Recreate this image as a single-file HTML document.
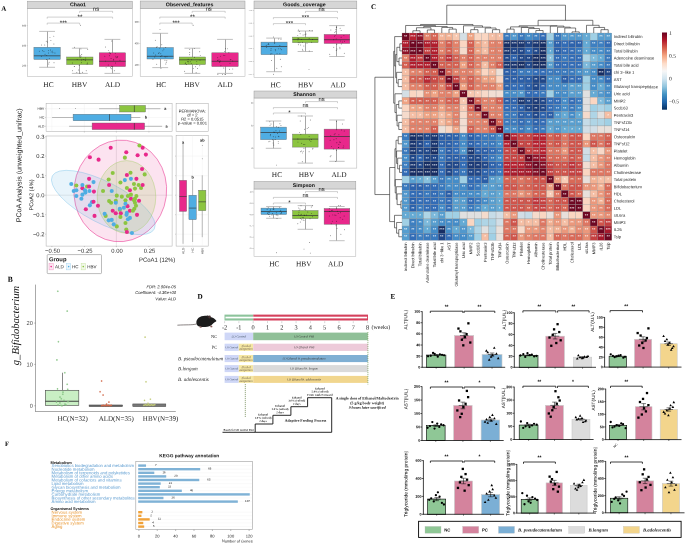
<!DOCTYPE html>
<html><head><meta charset="utf-8"><title>Figure</title>
<style>html,body{margin:0;padding:0;background:#fff}svg{display:block}text{text-rendering:geometricPrecision}.s{font-family:"Liberation Sans",sans-serif}.r{font-family:"Liberation Serif",serif}</style></head>
<body>
<svg width="685" height="544" viewBox="0 0 685 544">
<rect x="0" y="0" width="685" height="544" fill="#ffffff"/>
<rect x="27.6" y="8.4" width="104.8" height="67.9" fill="#fff" stroke="#B0B0B0" stroke-width="0.5" />
<rect x="27.6" y="1.2" width="104.8" height="7.2" fill="#D6D6D6" stroke="#9A9A9A" stroke-width="0.5" />
<text class="s" x="78" y="6.3" font-size="5.25" text-anchor="middle" fill="#111" font-weight="bold" transform="rotate(0.03 78 6.3)">Chao1</text>
<line x1="47.5" y1="31.4" x2="47.5" y2="67.3" stroke="#6a6a6a" stroke-width="0.6" />
<line x1="39.18" y1="31.4" x2="55.02" y2="31.4" stroke="#A6A6A6" stroke-width="0.7" />
<line x1="39.18" y1="67.3" x2="55.02" y2="67.3" stroke="#A6A6A6" stroke-width="0.7" />
<rect x="33.9" y="47.2" width="26.4" height="12.3" fill="#4FADE3" stroke="#6a6a6a" stroke-width="0.4" />
<line x1="33.9" y1="55.8" x2="60.3" y2="55.8" stroke="#333" stroke-width="0.7" />
<circle cx="45.04" cy="54.16" r="0.48" fill="#111" stroke="none" stroke-width="0.3" opacity="0.7"/>
<circle cx="48.75" cy="64.03" r="0.48" fill="#111" stroke="none" stroke-width="0.3" opacity="0.7"/>
<circle cx="39.39" cy="51.13" r="0.48" fill="#111" stroke="none" stroke-width="0.3" opacity="0.7"/>
<circle cx="52.45" cy="51.11" r="0.48" fill="#111" stroke="none" stroke-width="0.3" opacity="0.7"/>
<circle cx="54.95" cy="52.98" r="0.48" fill="#111" stroke="none" stroke-width="0.3" opacity="0.7"/>
<circle cx="46.63" cy="59.59" r="0.48" fill="#111" stroke="none" stroke-width="0.3" opacity="0.7"/>
<circle cx="49.3" cy="58.38" r="0.48" fill="#111" stroke="none" stroke-width="0.3" opacity="0.7"/>
<circle cx="41.57" cy="45.03" r="0.48" fill="#111" stroke="none" stroke-width="0.3" opacity="0.7"/>
<circle cx="47.47" cy="41.96" r="0.48" fill="#111" stroke="none" stroke-width="0.3" opacity="0.7"/>
<circle cx="50.92" cy="40.46" r="0.48" fill="#111" stroke="none" stroke-width="0.3" opacity="0.7"/>
<circle cx="51.19" cy="51.88" r="0.48" fill="#111" stroke="none" stroke-width="0.3" opacity="0.7"/>
<circle cx="48.54" cy="50.61" r="0.48" fill="#111" stroke="none" stroke-width="0.3" opacity="0.7"/>
<circle cx="52.89" cy="52.67" r="0.48" fill="#111" stroke="none" stroke-width="0.3" opacity="0.7"/>
<circle cx="46.67" cy="55.39" r="0.48" fill="#111" stroke="none" stroke-width="0.3" opacity="0.7"/>
<circle cx="50.49" cy="49.93" r="0.48" fill="#111" stroke="none" stroke-width="0.3" opacity="0.7"/>
<circle cx="53.77" cy="36.13" r="0.48" fill="#111" stroke="none" stroke-width="0.3" opacity="0.7"/>
<circle cx="46.22" cy="41.22" r="0.48" fill="#111" stroke="none" stroke-width="0.3" opacity="0.7"/>
<circle cx="54" cy="62.77" r="0.48" fill="#111" stroke="none" stroke-width="0.3" opacity="0.7"/>
<circle cx="41.33" cy="56.15" r="0.48" fill="#111" stroke="none" stroke-width="0.3" opacity="0.7"/>
<circle cx="42.62" cy="50.68" r="0.48" fill="#111" stroke="none" stroke-width="0.3" opacity="0.7"/>
<circle cx="49.11" cy="62.29" r="0.48" fill="#111" stroke="none" stroke-width="0.3" opacity="0.7"/>
<circle cx="43.95" cy="51.38" r="0.48" fill="#111" stroke="none" stroke-width="0.3" opacity="0.7"/>
<circle cx="44.74" cy="44.92" r="0.48" fill="#111" stroke="none" stroke-width="0.3" opacity="0.7"/>
<circle cx="48.45" cy="52.97" r="0.48" fill="#111" stroke="none" stroke-width="0.3" opacity="0.7"/>
<circle cx="49.98" cy="37.37" r="0.48" fill="#111" stroke="none" stroke-width="0.3" opacity="0.7"/>
<circle cx="53.89" cy="44" r="0.48" fill="#111" stroke="none" stroke-width="0.3" opacity="0.7"/>
<line x1="79.5" y1="48.2" x2="79.5" y2="73.4" stroke="#6a6a6a" stroke-width="0.6" />
<line x1="71.88" y1="48.2" x2="87.72" y2="48.2" stroke="#A6A6A6" stroke-width="0.7" />
<line x1="71.88" y1="73.4" x2="87.72" y2="73.4" stroke="#A6A6A6" stroke-width="0.7" />
<rect x="66.6" y="57" width="26.4" height="7.6" fill="#8CC540" stroke="#6a6a6a" stroke-width="0.4" />
<line x1="66.6" y1="59.8" x2="93" y2="59.8" stroke="#333" stroke-width="0.7" />
<circle cx="82.51" cy="72.21" r="0.48" fill="#111" stroke="none" stroke-width="0.3" opacity="0.7"/>
<circle cx="74.46" cy="47.2" r="0.48" fill="#111" stroke="none" stroke-width="0.3" opacity="0.7"/>
<circle cx="86.21" cy="70.74" r="0.48" fill="#111" stroke="none" stroke-width="0.3" opacity="0.7"/>
<circle cx="80.89" cy="48.89" r="0.48" fill="#111" stroke="none" stroke-width="0.3" opacity="0.7"/>
<circle cx="85.05" cy="59.87" r="0.48" fill="#111" stroke="none" stroke-width="0.3" opacity="0.7"/>
<circle cx="80.96" cy="56.77" r="0.48" fill="#111" stroke="none" stroke-width="0.3" opacity="0.7"/>
<circle cx="85.41" cy="60.33" r="0.48" fill="#111" stroke="none" stroke-width="0.3" opacity="0.7"/>
<circle cx="87.56" cy="62.92" r="0.48" fill="#111" stroke="none" stroke-width="0.3" opacity="0.7"/>
<circle cx="78.38" cy="69.95" r="0.48" fill="#111" stroke="none" stroke-width="0.3" opacity="0.7"/>
<circle cx="74.27" cy="66.49" r="0.48" fill="#111" stroke="none" stroke-width="0.3" opacity="0.7"/>
<circle cx="85.7" cy="58" r="0.48" fill="#111" stroke="none" stroke-width="0.3" opacity="0.7"/>
<circle cx="72.58" cy="70.68" r="0.48" fill="#111" stroke="none" stroke-width="0.3" opacity="0.7"/>
<circle cx="83.26" cy="59.43" r="0.48" fill="#111" stroke="none" stroke-width="0.3" opacity="0.7"/>
<circle cx="77.12" cy="59.6" r="0.48" fill="#111" stroke="none" stroke-width="0.3" opacity="0.7"/>
<circle cx="79.89" cy="73.15" r="0.48" fill="#111" stroke="none" stroke-width="0.3" opacity="0.7"/>
<circle cx="87.7" cy="49.33" r="0.48" fill="#111" stroke="none" stroke-width="0.3" opacity="0.7"/>
<circle cx="81.38" cy="59.92" r="0.48" fill="#111" stroke="none" stroke-width="0.3" opacity="0.7"/>
<circle cx="72.38" cy="63.03" r="0.48" fill="#111" stroke="none" stroke-width="0.3" opacity="0.7"/>
<circle cx="81.55" cy="62.79" r="0.48" fill="#111" stroke="none" stroke-width="0.3" opacity="0.7"/>
<circle cx="74.35" cy="66.61" r="0.48" fill="#111" stroke="none" stroke-width="0.3" opacity="0.7"/>
<circle cx="76.85" cy="72.44" r="0.48" fill="#111" stroke="none" stroke-width="0.3" opacity="0.7"/>
<circle cx="87.07" cy="63.98" r="0.48" fill="#111" stroke="none" stroke-width="0.3" opacity="0.7"/>
<circle cx="79.17" cy="65.46" r="0.48" fill="#111" stroke="none" stroke-width="0.3" opacity="0.7"/>
<circle cx="80.12" cy="57.27" r="0.48" fill="#111" stroke="none" stroke-width="0.3" opacity="0.7"/>
<circle cx="80.74" cy="55.81" r="0.48" fill="#111" stroke="none" stroke-width="0.3" opacity="0.7"/>
<circle cx="81.7" cy="54.45" r="0.48" fill="#111" stroke="none" stroke-width="0.3" opacity="0.7"/>
<circle cx="80.5" cy="25.3" r="0.45" fill="#111" stroke="none" stroke-width="0.3" opacity="0.8"/>
<line x1="112.5" y1="39.4" x2="112.5" y2="73.4" stroke="#6a6a6a" stroke-width="0.6" />
<line x1="104.48" y1="39.4" x2="120.32" y2="39.4" stroke="#A6A6A6" stroke-width="0.7" />
<line x1="104.48" y1="73.4" x2="120.32" y2="73.4" stroke="#A6A6A6" stroke-width="0.7" />
<rect x="99.2" y="52.8" width="26.4" height="13.8" fill="#E8288B" stroke="#6a6a6a" stroke-width="0.4" />
<line x1="99.2" y1="61.3" x2="125.6" y2="61.3" stroke="#333" stroke-width="0.7" />
<circle cx="111.31" cy="68.67" r="0.48" fill="#111" stroke="none" stroke-width="0.3" opacity="0.7"/>
<circle cx="115.89" cy="56.19" r="0.48" fill="#111" stroke="none" stroke-width="0.3" opacity="0.7"/>
<circle cx="119.97" cy="60.23" r="0.48" fill="#111" stroke="none" stroke-width="0.3" opacity="0.7"/>
<circle cx="112.73" cy="66.53" r="0.48" fill="#111" stroke="none" stroke-width="0.3" opacity="0.7"/>
<circle cx="111.06" cy="58.53" r="0.48" fill="#111" stroke="none" stroke-width="0.3" opacity="0.7"/>
<circle cx="113.67" cy="59.33" r="0.48" fill="#111" stroke="none" stroke-width="0.3" opacity="0.7"/>
<circle cx="114.49" cy="70.81" r="0.48" fill="#111" stroke="none" stroke-width="0.3" opacity="0.7"/>
<circle cx="105.43" cy="61.11" r="0.48" fill="#111" stroke="none" stroke-width="0.3" opacity="0.7"/>
<circle cx="115.24" cy="53.38" r="0.48" fill="#111" stroke="none" stroke-width="0.3" opacity="0.7"/>
<circle cx="110.06" cy="53.19" r="0.48" fill="#111" stroke="none" stroke-width="0.3" opacity="0.7"/>
<circle cx="104.83" cy="56.16" r="0.48" fill="#111" stroke="none" stroke-width="0.3" opacity="0.7"/>
<circle cx="105.44" cy="46.93" r="0.48" fill="#111" stroke="none" stroke-width="0.3" opacity="0.7"/>
<circle cx="108.46" cy="50.37" r="0.48" fill="#111" stroke="none" stroke-width="0.3" opacity="0.7"/>
<circle cx="111.71" cy="41.1" r="0.48" fill="#111" stroke="none" stroke-width="0.3" opacity="0.7"/>
<circle cx="110.25" cy="53.76" r="0.48" fill="#111" stroke="none" stroke-width="0.3" opacity="0.7"/>
<circle cx="109.43" cy="55.79" r="0.48" fill="#111" stroke="none" stroke-width="0.3" opacity="0.7"/>
<circle cx="109.24" cy="52.29" r="0.48" fill="#111" stroke="none" stroke-width="0.3" opacity="0.7"/>
<circle cx="110.45" cy="67.68" r="0.48" fill="#111" stroke="none" stroke-width="0.3" opacity="0.7"/>
<circle cx="113.5" cy="59.96" r="0.48" fill="#111" stroke="none" stroke-width="0.3" opacity="0.7"/>
<circle cx="116.13" cy="57.83" r="0.48" fill="#111" stroke="none" stroke-width="0.3" opacity="0.7"/>
<circle cx="117.21" cy="57.58" r="0.48" fill="#111" stroke="none" stroke-width="0.3" opacity="0.7"/>
<circle cx="108.26" cy="65.04" r="0.48" fill="#111" stroke="none" stroke-width="0.3" opacity="0.7"/>
<circle cx="115.54" cy="63.02" r="0.48" fill="#111" stroke="none" stroke-width="0.3" opacity="0.7"/>
<circle cx="106.09" cy="67.69" r="0.48" fill="#111" stroke="none" stroke-width="0.3" opacity="0.7"/>
<circle cx="117.68" cy="56.51" r="0.48" fill="#111" stroke="none" stroke-width="0.3" opacity="0.7"/>
<circle cx="111.42" cy="66.26" r="0.48" fill="#111" stroke="none" stroke-width="0.3" opacity="0.7"/>
<path d="M79.6 12.9V11.3H112.6V12.9" fill="none" stroke="#8a8a8a" stroke-width="0.4" />
<text class="s" x="96.1" y="10.8" font-size="5.8" text-anchor="middle" fill="#111" transform="rotate(0.03 96.1 10.8)">ns</text>
<path d="M47.2 18.7V17.1H112.6V18.7" fill="none" stroke="#8a8a8a" stroke-width="0.4" />
<text class="s" x="79.9" y="18.7" font-size="6.2" text-anchor="middle" fill="#111" transform="rotate(0.03 79.9 18.7)">**</text>
<path d="M47.2 24.7V23.1H79.6V24.7" fill="none" stroke="#8a8a8a" stroke-width="0.4" />
<text class="s" x="63.4" y="24.7" font-size="6.2" text-anchor="middle" fill="#111" transform="rotate(0.03 63.4 24.7)">***</text>
<text class="r" x="48.5" y="87" font-size="7.4" text-anchor="middle" fill="#222" transform="rotate(0.03 48.5 87)">HC</text>
<text class="r" x="79.5" y="87" font-size="7.4" text-anchor="middle" fill="#222" transform="rotate(0.03 79.5 87)">HBV</text>
<text class="r" x="112.5" y="87" font-size="7.4" text-anchor="middle" fill="#222" transform="rotate(0.03 112.5 87)">ALD</text>
<text class="s" x="26.1" y="26.4" font-size="2.4" text-anchor="end" fill="#444" transform="rotate(0.03 26.1 26.4)">600</text>
<line x1="26.6" y1="25.6" x2="27.6" y2="25.6" stroke="#888" stroke-width="0.3" />
<text class="s" x="26.1" y="46.5" font-size="2.4" text-anchor="end" fill="#444" transform="rotate(0.03 26.1 46.5)">400</text>
<line x1="26.6" y1="45.7" x2="27.6" y2="45.7" stroke="#888" stroke-width="0.3" />
<text class="s" x="26.1" y="66.6" font-size="2.4" text-anchor="end" fill="#444" transform="rotate(0.03 26.1 66.6)">200</text>
<line x1="26.6" y1="65.8" x2="27.6" y2="65.8" stroke="#888" stroke-width="0.3" />
<rect x="140.2" y="8.4" width="104.8" height="67.9" fill="#fff" stroke="#B0B0B0" stroke-width="0.5" />
<rect x="140.2" y="1" width="104.8" height="7.4" fill="#D6D6D6" stroke="#9A9A9A" stroke-width="0.5" />
<text class="s" x="189.6" y="6.3" font-size="5.25" text-anchor="middle" fill="#111" font-weight="bold" transform="rotate(0.03 189.6 6.3)">Observed_features</text>
<line x1="160.5" y1="33.3" x2="160.5" y2="67.6" stroke="#6a6a6a" stroke-width="0.6" />
<line x1="152.28" y1="33.3" x2="168.12" y2="33.3" stroke="#A6A6A6" stroke-width="0.7" />
<line x1="152.28" y1="67.6" x2="168.12" y2="67.6" stroke="#A6A6A6" stroke-width="0.7" />
<rect x="147" y="47.5" width="26.4" height="11.5" fill="#4FADE3" stroke="#6a6a6a" stroke-width="0.4" />
<line x1="147" y1="56.3" x2="173.4" y2="56.3" stroke="#333" stroke-width="0.7" />
<circle cx="158.55" cy="53.58" r="0.48" fill="#111" stroke="none" stroke-width="0.3" opacity="0.7"/>
<circle cx="154.73" cy="57.05" r="0.48" fill="#111" stroke="none" stroke-width="0.3" opacity="0.7"/>
<circle cx="166.82" cy="60.81" r="0.48" fill="#111" stroke="none" stroke-width="0.3" opacity="0.7"/>
<circle cx="164.96" cy="56.61" r="0.48" fill="#111" stroke="none" stroke-width="0.3" opacity="0.7"/>
<circle cx="160.78" cy="53.8" r="0.48" fill="#111" stroke="none" stroke-width="0.3" opacity="0.7"/>
<circle cx="156.66" cy="47.49" r="0.48" fill="#111" stroke="none" stroke-width="0.3" opacity="0.7"/>
<circle cx="155.68" cy="55.06" r="0.48" fill="#111" stroke="none" stroke-width="0.3" opacity="0.7"/>
<circle cx="166.97" cy="56.67" r="0.48" fill="#111" stroke="none" stroke-width="0.3" opacity="0.7"/>
<circle cx="164.96" cy="60.29" r="0.48" fill="#111" stroke="none" stroke-width="0.3" opacity="0.7"/>
<circle cx="155.34" cy="40.23" r="0.48" fill="#111" stroke="none" stroke-width="0.3" opacity="0.7"/>
<circle cx="163.87" cy="49.04" r="0.48" fill="#111" stroke="none" stroke-width="0.3" opacity="0.7"/>
<circle cx="165.82" cy="63.92" r="0.48" fill="#111" stroke="none" stroke-width="0.3" opacity="0.7"/>
<circle cx="161.88" cy="55.79" r="0.48" fill="#111" stroke="none" stroke-width="0.3" opacity="0.7"/>
<circle cx="162.92" cy="50.87" r="0.48" fill="#111" stroke="none" stroke-width="0.3" opacity="0.7"/>
<circle cx="159.78" cy="48.14" r="0.48" fill="#111" stroke="none" stroke-width="0.3" opacity="0.7"/>
<circle cx="153.7" cy="53.06" r="0.48" fill="#111" stroke="none" stroke-width="0.3" opacity="0.7"/>
<circle cx="160.95" cy="68.25" r="0.48" fill="#111" stroke="none" stroke-width="0.3" opacity="0.7"/>
<circle cx="157.04" cy="46.71" r="0.48" fill="#111" stroke="none" stroke-width="0.3" opacity="0.7"/>
<circle cx="166.26" cy="62.2" r="0.48" fill="#111" stroke="none" stroke-width="0.3" opacity="0.7"/>
<circle cx="165.71" cy="47.48" r="0.48" fill="#111" stroke="none" stroke-width="0.3" opacity="0.7"/>
<circle cx="161.77" cy="44.82" r="0.48" fill="#111" stroke="none" stroke-width="0.3" opacity="0.7"/>
<circle cx="159.11" cy="52.81" r="0.48" fill="#111" stroke="none" stroke-width="0.3" opacity="0.7"/>
<circle cx="165.15" cy="56.93" r="0.48" fill="#111" stroke="none" stroke-width="0.3" opacity="0.7"/>
<circle cx="152.96" cy="59.16" r="0.48" fill="#111" stroke="none" stroke-width="0.3" opacity="0.7"/>
<circle cx="156.72" cy="64.23" r="0.48" fill="#111" stroke="none" stroke-width="0.3" opacity="0.7"/>
<circle cx="160.75" cy="56.54" r="0.48" fill="#111" stroke="none" stroke-width="0.3" opacity="0.7"/>
<circle cx="160" cy="29.4" r="0.45" fill="#111" stroke="none" stroke-width="0.3" opacity="0.8"/>
<line x1="192.5" y1="48.2" x2="192.5" y2="73.4" stroke="#6a6a6a" stroke-width="0.6" />
<line x1="184.48" y1="48.2" x2="200.32" y2="48.2" stroke="#A6A6A6" stroke-width="0.7" />
<line x1="184.48" y1="73.4" x2="200.32" y2="73.4" stroke="#A6A6A6" stroke-width="0.7" />
<rect x="179.2" y="57" width="26.4" height="7.6" fill="#8CC540" stroke="#6a6a6a" stroke-width="0.4" />
<line x1="179.2" y1="59.8" x2="205.6" y2="59.8" stroke="#333" stroke-width="0.7" />
<circle cx="200.28" cy="55.39" r="0.48" fill="#111" stroke="none" stroke-width="0.3" opacity="0.7"/>
<circle cx="187.58" cy="61.79" r="0.48" fill="#111" stroke="none" stroke-width="0.3" opacity="0.7"/>
<circle cx="194.5" cy="57.35" r="0.48" fill="#111" stroke="none" stroke-width="0.3" opacity="0.7"/>
<circle cx="188.86" cy="62.9" r="0.48" fill="#111" stroke="none" stroke-width="0.3" opacity="0.7"/>
<circle cx="189.56" cy="54.66" r="0.48" fill="#111" stroke="none" stroke-width="0.3" opacity="0.7"/>
<circle cx="193.33" cy="68.63" r="0.48" fill="#111" stroke="none" stroke-width="0.3" opacity="0.7"/>
<circle cx="185.46" cy="63.08" r="0.48" fill="#111" stroke="none" stroke-width="0.3" opacity="0.7"/>
<circle cx="188.11" cy="59.23" r="0.48" fill="#111" stroke="none" stroke-width="0.3" opacity="0.7"/>
<circle cx="188.24" cy="61.59" r="0.48" fill="#111" stroke="none" stroke-width="0.3" opacity="0.7"/>
<circle cx="189.72" cy="52.54" r="0.48" fill="#111" stroke="none" stroke-width="0.3" opacity="0.7"/>
<circle cx="185.16" cy="63.72" r="0.48" fill="#111" stroke="none" stroke-width="0.3" opacity="0.7"/>
<circle cx="195.53" cy="66.77" r="0.48" fill="#111" stroke="none" stroke-width="0.3" opacity="0.7"/>
<circle cx="196.12" cy="72.65" r="0.48" fill="#111" stroke="none" stroke-width="0.3" opacity="0.7"/>
<circle cx="199.68" cy="51.72" r="0.48" fill="#111" stroke="none" stroke-width="0.3" opacity="0.7"/>
<circle cx="199.78" cy="65.72" r="0.48" fill="#111" stroke="none" stroke-width="0.3" opacity="0.7"/>
<circle cx="196.76" cy="61.37" r="0.48" fill="#111" stroke="none" stroke-width="0.3" opacity="0.7"/>
<circle cx="194.31" cy="48.64" r="0.48" fill="#111" stroke="none" stroke-width="0.3" opacity="0.7"/>
<circle cx="197.44" cy="68.47" r="0.48" fill="#111" stroke="none" stroke-width="0.3" opacity="0.7"/>
<circle cx="191.52" cy="59.75" r="0.48" fill="#111" stroke="none" stroke-width="0.3" opacity="0.7"/>
<circle cx="186.64" cy="64.57" r="0.48" fill="#111" stroke="none" stroke-width="0.3" opacity="0.7"/>
<circle cx="189.73" cy="49.52" r="0.48" fill="#111" stroke="none" stroke-width="0.3" opacity="0.7"/>
<circle cx="184.63" cy="71.18" r="0.48" fill="#111" stroke="none" stroke-width="0.3" opacity="0.7"/>
<circle cx="196.89" cy="64.31" r="0.48" fill="#111" stroke="none" stroke-width="0.3" opacity="0.7"/>
<circle cx="190.23" cy="61.82" r="0.48" fill="#111" stroke="none" stroke-width="0.3" opacity="0.7"/>
<circle cx="200.03" cy="60.12" r="0.48" fill="#111" stroke="none" stroke-width="0.3" opacity="0.7"/>
<circle cx="191.2" cy="63.43" r="0.48" fill="#111" stroke="none" stroke-width="0.3" opacity="0.7"/>
<circle cx="193.1" cy="25.3" r="0.45" fill="#111" stroke="none" stroke-width="0.3" opacity="0.8"/>
<line x1="225.5" y1="39.4" x2="225.5" y2="73.4" stroke="#6a6a6a" stroke-width="0.6" />
<line x1="217.08" y1="39.4" x2="232.92" y2="39.4" stroke="#A6A6A6" stroke-width="0.7" />
<line x1="217.08" y1="73.4" x2="232.92" y2="73.4" stroke="#A6A6A6" stroke-width="0.7" />
<rect x="211.8" y="52.8" width="26.4" height="13.8" fill="#E8288B" stroke="#6a6a6a" stroke-width="0.4" />
<line x1="211.8" y1="61.3" x2="238.2" y2="61.3" stroke="#333" stroke-width="0.7" />
<circle cx="217.96" cy="60.44" r="0.48" fill="#111" stroke="none" stroke-width="0.3" opacity="0.7"/>
<circle cx="219.75" cy="62.43" r="0.48" fill="#111" stroke="none" stroke-width="0.3" opacity="0.7"/>
<circle cx="217.73" cy="57.65" r="0.48" fill="#111" stroke="none" stroke-width="0.3" opacity="0.7"/>
<circle cx="224.85" cy="55.57" r="0.48" fill="#111" stroke="none" stroke-width="0.3" opacity="0.7"/>
<circle cx="219.02" cy="59.87" r="0.48" fill="#111" stroke="none" stroke-width="0.3" opacity="0.7"/>
<circle cx="225.46" cy="74.4" r="0.48" fill="#111" stroke="none" stroke-width="0.3" opacity="0.7"/>
<circle cx="232.72" cy="60.94" r="0.48" fill="#111" stroke="none" stroke-width="0.3" opacity="0.7"/>
<circle cx="224.65" cy="51.49" r="0.48" fill="#111" stroke="none" stroke-width="0.3" opacity="0.7"/>
<circle cx="217.66" cy="60.13" r="0.48" fill="#111" stroke="none" stroke-width="0.3" opacity="0.7"/>
<circle cx="223.75" cy="68.01" r="0.48" fill="#111" stroke="none" stroke-width="0.3" opacity="0.7"/>
<circle cx="230.24" cy="59.85" r="0.48" fill="#111" stroke="none" stroke-width="0.3" opacity="0.7"/>
<circle cx="224.98" cy="74.4" r="0.48" fill="#111" stroke="none" stroke-width="0.3" opacity="0.7"/>
<circle cx="220.92" cy="65.78" r="0.48" fill="#111" stroke="none" stroke-width="0.3" opacity="0.7"/>
<circle cx="220.38" cy="60.93" r="0.48" fill="#111" stroke="none" stroke-width="0.3" opacity="0.7"/>
<circle cx="219.32" cy="61.6" r="0.48" fill="#111" stroke="none" stroke-width="0.3" opacity="0.7"/>
<circle cx="217.89" cy="74.4" r="0.48" fill="#111" stroke="none" stroke-width="0.3" opacity="0.7"/>
<circle cx="232.77" cy="69.1" r="0.48" fill="#111" stroke="none" stroke-width="0.3" opacity="0.7"/>
<circle cx="223.46" cy="55.13" r="0.48" fill="#111" stroke="none" stroke-width="0.3" opacity="0.7"/>
<circle cx="229.61" cy="69.28" r="0.48" fill="#111" stroke="none" stroke-width="0.3" opacity="0.7"/>
<circle cx="228.88" cy="52.83" r="0.48" fill="#111" stroke="none" stroke-width="0.3" opacity="0.7"/>
<circle cx="220.42" cy="56.13" r="0.48" fill="#111" stroke="none" stroke-width="0.3" opacity="0.7"/>
<circle cx="230.92" cy="59.83" r="0.48" fill="#111" stroke="none" stroke-width="0.3" opacity="0.7"/>
<circle cx="222.41" cy="74.4" r="0.48" fill="#111" stroke="none" stroke-width="0.3" opacity="0.7"/>
<circle cx="227.49" cy="48.86" r="0.48" fill="#111" stroke="none" stroke-width="0.3" opacity="0.7"/>
<circle cx="229.99" cy="63.25" r="0.48" fill="#111" stroke="none" stroke-width="0.3" opacity="0.7"/>
<circle cx="225.44" cy="48.65" r="0.48" fill="#111" stroke="none" stroke-width="0.3" opacity="0.7"/>
<path d="M192.2 12.9V11.3H225.2V12.9" fill="none" stroke="#8a8a8a" stroke-width="0.4" />
<text class="s" x="208.7" y="10.8" font-size="5.8" text-anchor="middle" fill="#111" transform="rotate(0.03 208.7 10.8)">ns</text>
<path d="M159.8 18.7V17.1H225.2V18.7" fill="none" stroke="#8a8a8a" stroke-width="0.4" />
<text class="s" x="192.5" y="18.7" font-size="6.2" text-anchor="middle" fill="#111" transform="rotate(0.03 192.5 18.7)">**</text>
<path d="M159.8 24.7V23.1H192.2V24.7" fill="none" stroke="#8a8a8a" stroke-width="0.4" />
<text class="s" x="176" y="24.7" font-size="6.2" text-anchor="middle" fill="#111" transform="rotate(0.03 176 24.7)">***</text>
<text class="r" x="161.1" y="87" font-size="7.4" text-anchor="middle" fill="#222" transform="rotate(0.03 161.1 87)">HC</text>
<text class="r" x="192.1" y="87" font-size="7.4" text-anchor="middle" fill="#222" transform="rotate(0.03 192.1 87)">HBV</text>
<text class="r" x="225.1" y="87" font-size="7.4" text-anchor="middle" fill="#222" transform="rotate(0.03 225.1 87)">ALD</text>
<text class="s" x="138.7" y="22.8" font-size="2.4" text-anchor="end" fill="#444" transform="rotate(0.03 138.7 22.8)">600</text>
<line x1="139.2" y1="22" x2="140.2" y2="22" stroke="#888" stroke-width="0.3" />
<text class="s" x="138.7" y="44.3" font-size="2.4" text-anchor="end" fill="#444" transform="rotate(0.03 138.7 44.3)">400</text>
<line x1="139.2" y1="43.5" x2="140.2" y2="43.5" stroke="#888" stroke-width="0.3" />
<text class="s" x="138.7" y="65.8" font-size="2.4" text-anchor="end" fill="#444" transform="rotate(0.03 138.7 65.8)">200</text>
<line x1="139.2" y1="65" x2="140.2" y2="65" stroke="#888" stroke-width="0.3" />
<rect x="254" y="8.4" width="102.8" height="69.1" fill="#fff" stroke="#B0B0B0" stroke-width="0.5" />
<rect x="254" y="1" width="102.8" height="7.4" fill="#D6D6D6" stroke="#9A9A9A" stroke-width="0.5" />
<text class="s" x="304.4" y="6.3" font-size="5.25" text-anchor="middle" fill="#111" font-weight="bold" transform="rotate(0.03 304.4 6.3)">Goods_coverage</text>
<line x1="274.5" y1="38.1" x2="274.5" y2="71.7" stroke="#6a6a6a" stroke-width="0.6" />
<line x1="266.22" y1="38.1" x2="281.88" y2="38.1" stroke="#A6A6A6" stroke-width="0.7" />
<line x1="266.22" y1="71.7" x2="281.88" y2="71.7" stroke="#A6A6A6" stroke-width="0.7" />
<rect x="261" y="42.1" width="26.1" height="12.6" fill="#4FADE3" stroke="#6a6a6a" stroke-width="0.4" />
<line x1="261" y1="46.5" x2="287.1" y2="46.5" stroke="#333" stroke-width="0.7" />
<circle cx="278.67" cy="38.97" r="0.48" fill="#111" stroke="none" stroke-width="0.3" opacity="0.7"/>
<circle cx="280.98" cy="39.21" r="0.48" fill="#111" stroke="none" stroke-width="0.3" opacity="0.7"/>
<circle cx="266.67" cy="47.25" r="0.48" fill="#111" stroke="none" stroke-width="0.3" opacity="0.7"/>
<circle cx="273.51" cy="37.1" r="0.48" fill="#111" stroke="none" stroke-width="0.3" opacity="0.7"/>
<circle cx="280.33" cy="59.25" r="0.48" fill="#111" stroke="none" stroke-width="0.3" opacity="0.7"/>
<circle cx="267.99" cy="44.37" r="0.48" fill="#111" stroke="none" stroke-width="0.3" opacity="0.7"/>
<circle cx="274.74" cy="42.49" r="0.48" fill="#111" stroke="none" stroke-width="0.3" opacity="0.7"/>
<circle cx="275.21" cy="49.56" r="0.48" fill="#111" stroke="none" stroke-width="0.3" opacity="0.7"/>
<circle cx="270.6" cy="53.97" r="0.48" fill="#111" stroke="none" stroke-width="0.3" opacity="0.7"/>
<circle cx="280.57" cy="48.86" r="0.48" fill="#111" stroke="none" stroke-width="0.3" opacity="0.7"/>
<circle cx="278.7" cy="48.87" r="0.48" fill="#111" stroke="none" stroke-width="0.3" opacity="0.7"/>
<circle cx="268.39" cy="43.71" r="0.48" fill="#111" stroke="none" stroke-width="0.3" opacity="0.7"/>
<circle cx="266.25" cy="45.32" r="0.48" fill="#111" stroke="none" stroke-width="0.3" opacity="0.7"/>
<circle cx="279.87" cy="45.6" r="0.48" fill="#111" stroke="none" stroke-width="0.3" opacity="0.7"/>
<circle cx="281.6" cy="49.8" r="0.48" fill="#111" stroke="none" stroke-width="0.3" opacity="0.7"/>
<circle cx="279.88" cy="53.79" r="0.48" fill="#111" stroke="none" stroke-width="0.3" opacity="0.7"/>
<circle cx="274.66" cy="43.41" r="0.48" fill="#111" stroke="none" stroke-width="0.3" opacity="0.7"/>
<circle cx="276.83" cy="68.2" r="0.48" fill="#111" stroke="none" stroke-width="0.3" opacity="0.7"/>
<circle cx="277.04" cy="53.74" r="0.48" fill="#111" stroke="none" stroke-width="0.3" opacity="0.7"/>
<circle cx="281.36" cy="66.67" r="0.48" fill="#111" stroke="none" stroke-width="0.3" opacity="0.7"/>
<circle cx="271.88" cy="53.69" r="0.48" fill="#111" stroke="none" stroke-width="0.3" opacity="0.7"/>
<circle cx="268.82" cy="44.23" r="0.48" fill="#111" stroke="none" stroke-width="0.3" opacity="0.7"/>
<circle cx="270.94" cy="50.19" r="0.48" fill="#111" stroke="none" stroke-width="0.3" opacity="0.7"/>
<circle cx="275.66" cy="50.73" r="0.48" fill="#111" stroke="none" stroke-width="0.3" opacity="0.7"/>
<circle cx="271.51" cy="60.44" r="0.48" fill="#111" stroke="none" stroke-width="0.3" opacity="0.7"/>
<circle cx="271.07" cy="48.66" r="0.48" fill="#111" stroke="none" stroke-width="0.3" opacity="0.7"/>
<circle cx="273.5" cy="74.3" r="0.45" fill="#111" stroke="none" stroke-width="0.3" opacity="0.8"/>
<line x1="305.5" y1="31" x2="305.5" y2="51.5" stroke="#6a6a6a" stroke-width="0.6" />
<line x1="297.62" y1="31" x2="312.98" y2="31" stroke="#A6A6A6" stroke-width="0.7" />
<line x1="297.62" y1="51.5" x2="312.98" y2="51.5" stroke="#A6A6A6" stroke-width="0.7" />
<rect x="292.5" y="37.1" width="25.6" height="5.6" fill="#8CC540" stroke="#6a6a6a" stroke-width="0.4" />
<line x1="292.5" y1="39.5" x2="318.1" y2="39.5" stroke="#333" stroke-width="0.7" />
<circle cx="302.47" cy="42.23" r="0.48" fill="#111" stroke="none" stroke-width="0.3" opacity="0.7"/>
<circle cx="305.01" cy="34.82" r="0.48" fill="#111" stroke="none" stroke-width="0.3" opacity="0.7"/>
<circle cx="312.6" cy="39.43" r="0.48" fill="#111" stroke="none" stroke-width="0.3" opacity="0.7"/>
<circle cx="297.97" cy="38.3" r="0.48" fill="#111" stroke="none" stroke-width="0.3" opacity="0.7"/>
<circle cx="297.9" cy="39.89" r="0.48" fill="#111" stroke="none" stroke-width="0.3" opacity="0.7"/>
<circle cx="309.72" cy="30.48" r="0.48" fill="#111" stroke="none" stroke-width="0.3" opacity="0.7"/>
<circle cx="297.76" cy="35.62" r="0.48" fill="#111" stroke="none" stroke-width="0.3" opacity="0.7"/>
<circle cx="298.34" cy="44.68" r="0.48" fill="#111" stroke="none" stroke-width="0.3" opacity="0.7"/>
<circle cx="300.64" cy="45.02" r="0.48" fill="#111" stroke="none" stroke-width="0.3" opacity="0.7"/>
<circle cx="309.23" cy="50.94" r="0.48" fill="#111" stroke="none" stroke-width="0.3" opacity="0.7"/>
<circle cx="302.91" cy="50.43" r="0.48" fill="#111" stroke="none" stroke-width="0.3" opacity="0.7"/>
<circle cx="303.07" cy="34.92" r="0.48" fill="#111" stroke="none" stroke-width="0.3" opacity="0.7"/>
<circle cx="299.28" cy="31.56" r="0.48" fill="#111" stroke="none" stroke-width="0.3" opacity="0.7"/>
<circle cx="309.12" cy="38.6" r="0.48" fill="#111" stroke="none" stroke-width="0.3" opacity="0.7"/>
<circle cx="298.18" cy="42.73" r="0.48" fill="#111" stroke="none" stroke-width="0.3" opacity="0.7"/>
<circle cx="312.15" cy="30.65" r="0.48" fill="#111" stroke="none" stroke-width="0.3" opacity="0.7"/>
<circle cx="307" cy="43.64" r="0.48" fill="#111" stroke="none" stroke-width="0.3" opacity="0.7"/>
<circle cx="311.72" cy="42.32" r="0.48" fill="#111" stroke="none" stroke-width="0.3" opacity="0.7"/>
<circle cx="305.99" cy="33.96" r="0.48" fill="#111" stroke="none" stroke-width="0.3" opacity="0.7"/>
<circle cx="302.42" cy="49.26" r="0.48" fill="#111" stroke="none" stroke-width="0.3" opacity="0.7"/>
<circle cx="298.82" cy="38.66" r="0.48" fill="#111" stroke="none" stroke-width="0.3" opacity="0.7"/>
<circle cx="299.91" cy="42.69" r="0.48" fill="#111" stroke="none" stroke-width="0.3" opacity="0.7"/>
<circle cx="300.1" cy="33.74" r="0.48" fill="#111" stroke="none" stroke-width="0.3" opacity="0.7"/>
<circle cx="298.37" cy="30" r="0.48" fill="#111" stroke="none" stroke-width="0.3" opacity="0.7"/>
<circle cx="303.85" cy="45.91" r="0.48" fill="#111" stroke="none" stroke-width="0.3" opacity="0.7"/>
<circle cx="301.27" cy="39.4" r="0.48" fill="#111" stroke="none" stroke-width="0.3" opacity="0.7"/>
<circle cx="309" cy="69.6" r="0.45" fill="#111" stroke="none" stroke-width="0.3" opacity="0.8"/>
<line x1="336.5" y1="25.6" x2="336.5" y2="56.5" stroke="#6a6a6a" stroke-width="0.6" />
<line x1="329.24" y1="25.6" x2="344.66" y2="25.6" stroke="#A6A6A6" stroke-width="0.7" />
<line x1="329.24" y1="56.5" x2="344.66" y2="56.5" stroke="#A6A6A6" stroke-width="0.7" />
<rect x="324.1" y="34.4" width="25.7" height="9.1" fill="#E8288B" stroke="#6a6a6a" stroke-width="0.4" />
<line x1="324.1" y1="39.7" x2="349.8" y2="39.7" stroke="#333" stroke-width="0.7" />
<circle cx="336.27" cy="27.51" r="0.48" fill="#111" stroke="none" stroke-width="0.3" opacity="0.7"/>
<circle cx="335.74" cy="31.29" r="0.48" fill="#111" stroke="none" stroke-width="0.3" opacity="0.7"/>
<circle cx="329.74" cy="54.33" r="0.48" fill="#111" stroke="none" stroke-width="0.3" opacity="0.7"/>
<circle cx="336.85" cy="44.57" r="0.48" fill="#111" stroke="none" stroke-width="0.3" opacity="0.7"/>
<circle cx="340.52" cy="41" r="0.48" fill="#111" stroke="none" stroke-width="0.3" opacity="0.7"/>
<circle cx="343.89" cy="35.64" r="0.48" fill="#111" stroke="none" stroke-width="0.3" opacity="0.7"/>
<circle cx="330.88" cy="30.1" r="0.48" fill="#111" stroke="none" stroke-width="0.3" opacity="0.7"/>
<circle cx="335.94" cy="29.48" r="0.48" fill="#111" stroke="none" stroke-width="0.3" opacity="0.7"/>
<circle cx="333.79" cy="47.35" r="0.48" fill="#111" stroke="none" stroke-width="0.3" opacity="0.7"/>
<circle cx="336.23" cy="50.4" r="0.48" fill="#111" stroke="none" stroke-width="0.3" opacity="0.7"/>
<circle cx="344.29" cy="53.34" r="0.48" fill="#111" stroke="none" stroke-width="0.3" opacity="0.7"/>
<circle cx="336.23" cy="38.89" r="0.48" fill="#111" stroke="none" stroke-width="0.3" opacity="0.7"/>
<circle cx="336.63" cy="27.09" r="0.48" fill="#111" stroke="none" stroke-width="0.3" opacity="0.7"/>
<circle cx="333.73" cy="39.83" r="0.48" fill="#111" stroke="none" stroke-width="0.3" opacity="0.7"/>
<circle cx="335.05" cy="35.54" r="0.48" fill="#111" stroke="none" stroke-width="0.3" opacity="0.7"/>
<circle cx="344.48" cy="41.3" r="0.48" fill="#111" stroke="none" stroke-width="0.3" opacity="0.7"/>
<circle cx="336.94" cy="48.95" r="0.48" fill="#111" stroke="none" stroke-width="0.3" opacity="0.7"/>
<circle cx="334.46" cy="36.37" r="0.48" fill="#111" stroke="none" stroke-width="0.3" opacity="0.7"/>
<circle cx="341.3" cy="43.92" r="0.48" fill="#111" stroke="none" stroke-width="0.3" opacity="0.7"/>
<circle cx="342.62" cy="42.07" r="0.48" fill="#111" stroke="none" stroke-width="0.3" opacity="0.7"/>
<circle cx="341.19" cy="30.63" r="0.48" fill="#111" stroke="none" stroke-width="0.3" opacity="0.7"/>
<circle cx="339.95" cy="48.84" r="0.48" fill="#111" stroke="none" stroke-width="0.3" opacity="0.7"/>
<circle cx="334.84" cy="32.56" r="0.48" fill="#111" stroke="none" stroke-width="0.3" opacity="0.7"/>
<circle cx="340.1" cy="28.3" r="0.48" fill="#111" stroke="none" stroke-width="0.3" opacity="0.7"/>
<circle cx="341.11" cy="37.32" r="0.48" fill="#111" stroke="none" stroke-width="0.3" opacity="0.7"/>
<circle cx="339.89" cy="47.28" r="0.48" fill="#111" stroke="none" stroke-width="0.3" opacity="0.7"/>
<path d="M305.5 13V11.4H337.5V13" fill="none" stroke="#8a8a8a" stroke-width="0.4" />
<text class="s" x="321.5" y="10.9" font-size="5.8" text-anchor="middle" fill="#111" transform="rotate(0.03 321.5 10.9)">ns</text>
<path d="M273.4 19.2V17.6H337.5V19.2" fill="none" stroke="#8a8a8a" stroke-width="0.4" />
<text class="s" x="305.45" y="19.2" font-size="6.2" text-anchor="middle" fill="#111" transform="rotate(0.03 305.45 19.2)">***</text>
<path d="M273.4 25.2V23.6H305.5V25.2" fill="none" stroke="#8a8a8a" stroke-width="0.4" />
<text class="s" x="289.45" y="25.2" font-size="6.2" text-anchor="middle" fill="#111" transform="rotate(0.03 289.45 25.2)">***</text>
<text class="r" x="275.6" y="87.2" font-size="7.4" text-anchor="middle" fill="#222" transform="rotate(0.03 275.6 87.2)">HC</text>
<text class="r" x="305.7" y="87.2" font-size="7.4" text-anchor="middle" fill="#222" transform="rotate(0.03 305.7 87.2)">HBV</text>
<text class="r" x="338.1" y="87.2" font-size="7.4" text-anchor="middle" fill="#222" transform="rotate(0.03 338.1 87.2)">ALD</text>
<text class="s" x="252.5" y="10.9" font-size="1.2" text-anchor="end" fill="#444" transform="rotate(0.03 252.5 10.9)">1.0000</text>
<line x1="253" y1="10.5" x2="254" y2="10.5" stroke="#888" stroke-width="0.3" />
<text class="s" x="252.5" y="23.6" font-size="1.2" text-anchor="end" fill="#444" transform="rotate(0.03 252.5 23.6)">0.9995</text>
<line x1="253" y1="23.2" x2="254" y2="23.2" stroke="#888" stroke-width="0.3" />
<text class="s" x="252.5" y="36.4" font-size="1.2" text-anchor="end" fill="#444" transform="rotate(0.03 252.5 36.4)">0.9990</text>
<line x1="253" y1="36" x2="254" y2="36" stroke="#888" stroke-width="0.3" />
<text class="s" x="252.5" y="49.1" font-size="1.2" text-anchor="end" fill="#444" transform="rotate(0.03 252.5 49.1)">0.9985</text>
<line x1="253" y1="48.7" x2="254" y2="48.7" stroke="#888" stroke-width="0.3" />
<text class="s" x="252.5" y="61.9" font-size="1.2" text-anchor="end" fill="#444" transform="rotate(0.03 252.5 61.9)">0.9980</text>
<line x1="253" y1="61.5" x2="254" y2="61.5" stroke="#888" stroke-width="0.3" />
<text class="s" x="252.5" y="74.7" font-size="1.2" text-anchor="end" fill="#444" transform="rotate(0.03 252.5 74.7)">0.9975</text>
<line x1="253" y1="74.3" x2="254" y2="74.3" stroke="#888" stroke-width="0.3" />
<rect x="254" y="98" width="102.8" height="70.1" fill="#fff" stroke="#B0B0B0" stroke-width="0.5" />
<rect x="254" y="91" width="102.8" height="7" fill="#D6D6D6" stroke="#9A9A9A" stroke-width="0.5" />
<text class="s" x="304.4" y="95.9" font-size="5.25" text-anchor="middle" fill="#111" font-weight="bold" transform="rotate(0.03 304.4 95.9)">Shannon</text>
<line x1="273.5" y1="121" x2="273.5" y2="148.3" stroke="#6a6a6a" stroke-width="0.6" />
<line x1="265.78" y1="121" x2="281.32" y2="121" stroke="#A6A6A6" stroke-width="0.7" />
<line x1="265.78" y1="148.3" x2="281.32" y2="148.3" stroke="#A6A6A6" stroke-width="0.7" />
<rect x="260.6" y="127.1" width="25.9" height="12.6" fill="#4FADE3" stroke="#6a6a6a" stroke-width="0.4" />
<line x1="260.6" y1="132.5" x2="286.5" y2="132.5" stroke="#333" stroke-width="0.7" />
<circle cx="273.32" cy="136.65" r="0.48" fill="#111" stroke="none" stroke-width="0.3" opacity="0.7"/>
<circle cx="269.85" cy="121.77" r="0.48" fill="#111" stroke="none" stroke-width="0.3" opacity="0.7"/>
<circle cx="273.09" cy="142.98" r="0.48" fill="#111" stroke="none" stroke-width="0.3" opacity="0.7"/>
<circle cx="277.59" cy="133.43" r="0.48" fill="#111" stroke="none" stroke-width="0.3" opacity="0.7"/>
<circle cx="270.02" cy="125.61" r="0.48" fill="#111" stroke="none" stroke-width="0.3" opacity="0.7"/>
<circle cx="278.24" cy="141.37" r="0.48" fill="#111" stroke="none" stroke-width="0.3" opacity="0.7"/>
<circle cx="274.15" cy="132.55" r="0.48" fill="#111" stroke="none" stroke-width="0.3" opacity="0.7"/>
<circle cx="276.38" cy="126.73" r="0.48" fill="#111" stroke="none" stroke-width="0.3" opacity="0.7"/>
<circle cx="278.29" cy="136.29" r="0.48" fill="#111" stroke="none" stroke-width="0.3" opacity="0.7"/>
<circle cx="269.91" cy="141.13" r="0.48" fill="#111" stroke="none" stroke-width="0.3" opacity="0.7"/>
<circle cx="278.9" cy="136.65" r="0.48" fill="#111" stroke="none" stroke-width="0.3" opacity="0.7"/>
<circle cx="270.99" cy="124.06" r="0.48" fill="#111" stroke="none" stroke-width="0.3" opacity="0.7"/>
<circle cx="278.29" cy="143.13" r="0.48" fill="#111" stroke="none" stroke-width="0.3" opacity="0.7"/>
<circle cx="272.7" cy="139.84" r="0.48" fill="#111" stroke="none" stroke-width="0.3" opacity="0.7"/>
<circle cx="275.65" cy="136.98" r="0.48" fill="#111" stroke="none" stroke-width="0.3" opacity="0.7"/>
<circle cx="270.3" cy="135.79" r="0.48" fill="#111" stroke="none" stroke-width="0.3" opacity="0.7"/>
<circle cx="268.9" cy="141.66" r="0.48" fill="#111" stroke="none" stroke-width="0.3" opacity="0.7"/>
<circle cx="275.96" cy="130.79" r="0.48" fill="#111" stroke="none" stroke-width="0.3" opacity="0.7"/>
<circle cx="279.91" cy="123.75" r="0.48" fill="#111" stroke="none" stroke-width="0.3" opacity="0.7"/>
<circle cx="273.78" cy="145.01" r="0.48" fill="#111" stroke="none" stroke-width="0.3" opacity="0.7"/>
<circle cx="278.3" cy="127.21" r="0.48" fill="#111" stroke="none" stroke-width="0.3" opacity="0.7"/>
<circle cx="280.95" cy="125.47" r="0.48" fill="#111" stroke="none" stroke-width="0.3" opacity="0.7"/>
<circle cx="275.13" cy="139.46" r="0.48" fill="#111" stroke="none" stroke-width="0.3" opacity="0.7"/>
<circle cx="270.51" cy="134.49" r="0.48" fill="#111" stroke="none" stroke-width="0.3" opacity="0.7"/>
<circle cx="279.46" cy="131.01" r="0.48" fill="#111" stroke="none" stroke-width="0.3" opacity="0.7"/>
<circle cx="273.94" cy="131.9" r="0.48" fill="#111" stroke="none" stroke-width="0.3" opacity="0.7"/>
<circle cx="276.5" cy="165.1" r="0.45" fill="#111" stroke="none" stroke-width="0.3" opacity="0.8"/>
<line x1="305.5" y1="116" x2="305.5" y2="163.1" stroke="#6a6a6a" stroke-width="0.6" />
<line x1="297.62" y1="116" x2="312.98" y2="116" stroke="#A6A6A6" stroke-width="0.7" />
<line x1="297.62" y1="163.1" x2="312.98" y2="163.1" stroke="#A6A6A6" stroke-width="0.7" />
<rect x="292.5" y="134.1" width="25.6" height="13" fill="#8CC540" stroke="#6a6a6a" stroke-width="0.4" />
<line x1="292.5" y1="139.1" x2="318.1" y2="139.1" stroke="#333" stroke-width="0.7" />
<circle cx="302.42" cy="152.88" r="0.48" fill="#111" stroke="none" stroke-width="0.3" opacity="0.7"/>
<circle cx="300.63" cy="151.68" r="0.48" fill="#111" stroke="none" stroke-width="0.3" opacity="0.7"/>
<circle cx="300.84" cy="134.52" r="0.48" fill="#111" stroke="none" stroke-width="0.3" opacity="0.7"/>
<circle cx="310.91" cy="141.22" r="0.48" fill="#111" stroke="none" stroke-width="0.3" opacity="0.7"/>
<circle cx="309.57" cy="140.03" r="0.48" fill="#111" stroke="none" stroke-width="0.3" opacity="0.7"/>
<circle cx="297.88" cy="138.91" r="0.48" fill="#111" stroke="none" stroke-width="0.3" opacity="0.7"/>
<circle cx="307.15" cy="128.5" r="0.48" fill="#111" stroke="none" stroke-width="0.3" opacity="0.7"/>
<circle cx="302.32" cy="161.68" r="0.48" fill="#111" stroke="none" stroke-width="0.3" opacity="0.7"/>
<circle cx="299.57" cy="132.61" r="0.48" fill="#111" stroke="none" stroke-width="0.3" opacity="0.7"/>
<circle cx="312.98" cy="148.35" r="0.48" fill="#111" stroke="none" stroke-width="0.3" opacity="0.7"/>
<circle cx="309.08" cy="151.69" r="0.48" fill="#111" stroke="none" stroke-width="0.3" opacity="0.7"/>
<circle cx="303.73" cy="144.5" r="0.48" fill="#111" stroke="none" stroke-width="0.3" opacity="0.7"/>
<circle cx="312.66" cy="148.95" r="0.48" fill="#111" stroke="none" stroke-width="0.3" opacity="0.7"/>
<circle cx="311.33" cy="139.6" r="0.48" fill="#111" stroke="none" stroke-width="0.3" opacity="0.7"/>
<circle cx="304.49" cy="129.29" r="0.48" fill="#111" stroke="none" stroke-width="0.3" opacity="0.7"/>
<circle cx="310.39" cy="119.96" r="0.48" fill="#111" stroke="none" stroke-width="0.3" opacity="0.7"/>
<circle cx="304.85" cy="144.46" r="0.48" fill="#111" stroke="none" stroke-width="0.3" opacity="0.7"/>
<circle cx="308.46" cy="127.64" r="0.48" fill="#111" stroke="none" stroke-width="0.3" opacity="0.7"/>
<circle cx="309.09" cy="136.6" r="0.48" fill="#111" stroke="none" stroke-width="0.3" opacity="0.7"/>
<circle cx="301.7" cy="143.17" r="0.48" fill="#111" stroke="none" stroke-width="0.3" opacity="0.7"/>
<circle cx="300.26" cy="121.03" r="0.48" fill="#111" stroke="none" stroke-width="0.3" opacity="0.7"/>
<circle cx="297.96" cy="142.12" r="0.48" fill="#111" stroke="none" stroke-width="0.3" opacity="0.7"/>
<circle cx="303.17" cy="151.28" r="0.48" fill="#111" stroke="none" stroke-width="0.3" opacity="0.7"/>
<circle cx="301.56" cy="151.08" r="0.48" fill="#111" stroke="none" stroke-width="0.3" opacity="0.7"/>
<circle cx="301.53" cy="116.08" r="0.48" fill="#111" stroke="none" stroke-width="0.3" opacity="0.7"/>
<circle cx="303.93" cy="148.31" r="0.48" fill="#111" stroke="none" stroke-width="0.3" opacity="0.7"/>
<line x1="336.5" y1="120" x2="336.5" y2="161.3" stroke="#6a6a6a" stroke-width="0.6" />
<line x1="329.24" y1="120" x2="344.66" y2="120" stroke="#A6A6A6" stroke-width="0.7" />
<line x1="329.24" y1="161.3" x2="344.66" y2="161.3" stroke="#A6A6A6" stroke-width="0.7" />
<rect x="324.1" y="129.1" width="25.7" height="20" fill="#E8288B" stroke="#6a6a6a" stroke-width="0.4" />
<line x1="324.1" y1="136.5" x2="349.8" y2="136.5" stroke="#333" stroke-width="0.7" />
<circle cx="333.37" cy="148.92" r="0.48" fill="#111" stroke="none" stroke-width="0.3" opacity="0.7"/>
<circle cx="336.56" cy="129.79" r="0.48" fill="#111" stroke="none" stroke-width="0.3" opacity="0.7"/>
<circle cx="335.06" cy="133.7" r="0.48" fill="#111" stroke="none" stroke-width="0.3" opacity="0.7"/>
<circle cx="333.95" cy="139.83" r="0.48" fill="#111" stroke="none" stroke-width="0.3" opacity="0.7"/>
<circle cx="339.41" cy="142.03" r="0.48" fill="#111" stroke="none" stroke-width="0.3" opacity="0.7"/>
<circle cx="344.21" cy="130.92" r="0.48" fill="#111" stroke="none" stroke-width="0.3" opacity="0.7"/>
<circle cx="338.54" cy="147.56" r="0.48" fill="#111" stroke="none" stroke-width="0.3" opacity="0.7"/>
<circle cx="334.18" cy="134.66" r="0.48" fill="#111" stroke="none" stroke-width="0.3" opacity="0.7"/>
<circle cx="341.47" cy="129.97" r="0.48" fill="#111" stroke="none" stroke-width="0.3" opacity="0.7"/>
<circle cx="343.68" cy="145.89" r="0.48" fill="#111" stroke="none" stroke-width="0.3" opacity="0.7"/>
<circle cx="336.17" cy="138.82" r="0.48" fill="#111" stroke="none" stroke-width="0.3" opacity="0.7"/>
<circle cx="330.12" cy="140.16" r="0.48" fill="#111" stroke="none" stroke-width="0.3" opacity="0.7"/>
<circle cx="330.97" cy="155.75" r="0.48" fill="#111" stroke="none" stroke-width="0.3" opacity="0.7"/>
<circle cx="340.32" cy="142.29" r="0.48" fill="#111" stroke="none" stroke-width="0.3" opacity="0.7"/>
<circle cx="342.4" cy="124.07" r="0.48" fill="#111" stroke="none" stroke-width="0.3" opacity="0.7"/>
<circle cx="330.2" cy="156.8" r="0.48" fill="#111" stroke="none" stroke-width="0.3" opacity="0.7"/>
<circle cx="338.7" cy="147.52" r="0.48" fill="#111" stroke="none" stroke-width="0.3" opacity="0.7"/>
<circle cx="335.75" cy="161.43" r="0.48" fill="#111" stroke="none" stroke-width="0.3" opacity="0.7"/>
<circle cx="336.82" cy="142.73" r="0.48" fill="#111" stroke="none" stroke-width="0.3" opacity="0.7"/>
<circle cx="336.47" cy="121.45" r="0.48" fill="#111" stroke="none" stroke-width="0.3" opacity="0.7"/>
<circle cx="331.48" cy="146.64" r="0.48" fill="#111" stroke="none" stroke-width="0.3" opacity="0.7"/>
<circle cx="338.89" cy="144.59" r="0.48" fill="#111" stroke="none" stroke-width="0.3" opacity="0.7"/>
<circle cx="338.92" cy="134.8" r="0.48" fill="#111" stroke="none" stroke-width="0.3" opacity="0.7"/>
<circle cx="330.74" cy="135.69" r="0.48" fill="#111" stroke="none" stroke-width="0.3" opacity="0.7"/>
<circle cx="336.38" cy="150.27" r="0.48" fill="#111" stroke="none" stroke-width="0.3" opacity="0.7"/>
<circle cx="343.11" cy="147.81" r="0.48" fill="#111" stroke="none" stroke-width="0.3" opacity="0.7"/>
<path d="M305.5 103.2V101.6H337.5V103.2" fill="none" stroke="#8a8a8a" stroke-width="0.4" />
<text class="s" x="321.5" y="101.1" font-size="5.8" text-anchor="middle" fill="#111" transform="rotate(0.03 321.5 101.1)">ns</text>
<path d="M273.4 109.2V107.6H337.5V109.2" fill="none" stroke="#8a8a8a" stroke-width="0.4" />
<text class="s" x="305.45" y="107.1" font-size="5.8" text-anchor="middle" fill="#111" transform="rotate(0.03 305.45 107.1)">ns</text>
<path d="M273.4 114.6V113H305.5V114.6" fill="none" stroke="#8a8a8a" stroke-width="0.4" />
<text class="s" x="289.45" y="114.6" font-size="6.2" text-anchor="middle" fill="#111" transform="rotate(0.03 289.45 114.6)">*</text>
<text class="r" x="277" y="176.9" font-size="7.4" text-anchor="middle" fill="#222" transform="rotate(0.03 277 176.9)">HC</text>
<text class="r" x="306.5" y="176.9" font-size="7.4" text-anchor="middle" fill="#222" transform="rotate(0.03 306.5 176.9)">HBV</text>
<text class="r" x="339" y="176.9" font-size="7.4" text-anchor="middle" fill="#222" transform="rotate(0.03 339 176.9)">ALD</text>
<text class="s" x="252.5" y="103.8" font-size="2.4" text-anchor="end" fill="#444" transform="rotate(0.03 252.5 103.8)">8</text>
<line x1="253" y1="103" x2="254" y2="103" stroke="#888" stroke-width="0.3" />
<text class="s" x="252.5" y="126.4" font-size="2.4" text-anchor="end" fill="#444" transform="rotate(0.03 252.5 126.4)">6</text>
<line x1="253" y1="125.6" x2="254" y2="125.6" stroke="#888" stroke-width="0.3" />
<text class="s" x="252.5" y="149.1" font-size="2.4" text-anchor="end" fill="#444" transform="rotate(0.03 252.5 149.1)">4</text>
<line x1="253" y1="148.3" x2="254" y2="148.3" stroke="#888" stroke-width="0.3" />
<rect x="254" y="189" width="101.8" height="67.5" fill="#fff" stroke="#B0B0B0" stroke-width="0.5" />
<rect x="254" y="181.4" width="101.8" height="7.6" fill="#D6D6D6" stroke="#9A9A9A" stroke-width="0.5" />
<text class="s" x="303.9" y="186.9" font-size="5.25" text-anchor="middle" fill="#111" font-weight="bold" transform="rotate(0.03 303.9 186.9)">Simpson</text>
<line x1="273.5" y1="206.5" x2="273.5" y2="218.3" stroke="#6a6a6a" stroke-width="0.6" />
<line x1="266.14" y1="206.5" x2="281.56" y2="206.5" stroke="#A6A6A6" stroke-width="0.7" />
<line x1="266.14" y1="218.3" x2="281.56" y2="218.3" stroke="#A6A6A6" stroke-width="0.7" />
<rect x="261" y="208.1" width="25.7" height="6.4" fill="#4FADE3" stroke="#6a6a6a" stroke-width="0.4" />
<line x1="261" y1="211.5" x2="286.7" y2="211.5" stroke="#333" stroke-width="0.7" />
<circle cx="268.09" cy="212.35" r="0.48" fill="#111" stroke="none" stroke-width="0.3" opacity="0.7"/>
<circle cx="277.01" cy="218.42" r="0.48" fill="#111" stroke="none" stroke-width="0.3" opacity="0.7"/>
<circle cx="281.55" cy="213.12" r="0.48" fill="#111" stroke="none" stroke-width="0.3" opacity="0.7"/>
<circle cx="269.37" cy="212.38" r="0.48" fill="#111" stroke="none" stroke-width="0.3" opacity="0.7"/>
<circle cx="273.13" cy="209.34" r="0.48" fill="#111" stroke="none" stroke-width="0.3" opacity="0.7"/>
<circle cx="273.77" cy="208.88" r="0.48" fill="#111" stroke="none" stroke-width="0.3" opacity="0.7"/>
<circle cx="267.52" cy="213.18" r="0.48" fill="#111" stroke="none" stroke-width="0.3" opacity="0.7"/>
<circle cx="269.75" cy="216.25" r="0.48" fill="#111" stroke="none" stroke-width="0.3" opacity="0.7"/>
<circle cx="272.43" cy="213.5" r="0.48" fill="#111" stroke="none" stroke-width="0.3" opacity="0.7"/>
<circle cx="280.05" cy="211.58" r="0.48" fill="#111" stroke="none" stroke-width="0.3" opacity="0.7"/>
<circle cx="270.12" cy="210.3" r="0.48" fill="#111" stroke="none" stroke-width="0.3" opacity="0.7"/>
<circle cx="281.43" cy="212.25" r="0.48" fill="#111" stroke="none" stroke-width="0.3" opacity="0.7"/>
<circle cx="271.96" cy="214.91" r="0.48" fill="#111" stroke="none" stroke-width="0.3" opacity="0.7"/>
<circle cx="276.33" cy="212.81" r="0.48" fill="#111" stroke="none" stroke-width="0.3" opacity="0.7"/>
<circle cx="273.81" cy="209.03" r="0.48" fill="#111" stroke="none" stroke-width="0.3" opacity="0.7"/>
<circle cx="276.16" cy="214.96" r="0.48" fill="#111" stroke="none" stroke-width="0.3" opacity="0.7"/>
<circle cx="268.33" cy="214.32" r="0.48" fill="#111" stroke="none" stroke-width="0.3" opacity="0.7"/>
<circle cx="267.13" cy="209.15" r="0.48" fill="#111" stroke="none" stroke-width="0.3" opacity="0.7"/>
<circle cx="269.13" cy="214.37" r="0.48" fill="#111" stroke="none" stroke-width="0.3" opacity="0.7"/>
<circle cx="280.73" cy="210.22" r="0.48" fill="#111" stroke="none" stroke-width="0.3" opacity="0.7"/>
<circle cx="279.72" cy="207.31" r="0.48" fill="#111" stroke="none" stroke-width="0.3" opacity="0.7"/>
<circle cx="270.54" cy="209.14" r="0.48" fill="#111" stroke="none" stroke-width="0.3" opacity="0.7"/>
<circle cx="268.22" cy="207.72" r="0.48" fill="#111" stroke="none" stroke-width="0.3" opacity="0.7"/>
<circle cx="277.93" cy="215.82" r="0.48" fill="#111" stroke="none" stroke-width="0.3" opacity="0.7"/>
<circle cx="276.97" cy="214.82" r="0.48" fill="#111" stroke="none" stroke-width="0.3" opacity="0.7"/>
<circle cx="280.79" cy="213.78" r="0.48" fill="#111" stroke="none" stroke-width="0.3" opacity="0.7"/>
<circle cx="276.5" cy="252.7" r="0.45" fill="#111" stroke="none" stroke-width="0.3" opacity="0.8"/>
<line x1="305.5" y1="205.6" x2="305.5" y2="229.3" stroke="#6a6a6a" stroke-width="0.6" />
<line x1="297.62" y1="205.6" x2="312.98" y2="205.6" stroke="#A6A6A6" stroke-width="0.7" />
<line x1="297.62" y1="229.3" x2="312.98" y2="229.3" stroke="#A6A6A6" stroke-width="0.7" />
<rect x="292.5" y="210.5" width="25.6" height="8.2" fill="#8CC540" stroke="#6a6a6a" stroke-width="0.4" />
<line x1="292.5" y1="215.5" x2="318.1" y2="215.5" stroke="#333" stroke-width="0.7" />
<circle cx="300.66" cy="218.3" r="0.48" fill="#111" stroke="none" stroke-width="0.3" opacity="0.7"/>
<circle cx="299.93" cy="209.04" r="0.48" fill="#111" stroke="none" stroke-width="0.3" opacity="0.7"/>
<circle cx="298.72" cy="207.97" r="0.48" fill="#111" stroke="none" stroke-width="0.3" opacity="0.7"/>
<circle cx="311.49" cy="213.39" r="0.48" fill="#111" stroke="none" stroke-width="0.3" opacity="0.7"/>
<circle cx="301" cy="205.84" r="0.48" fill="#111" stroke="none" stroke-width="0.3" opacity="0.7"/>
<circle cx="301.37" cy="214.19" r="0.48" fill="#111" stroke="none" stroke-width="0.3" opacity="0.7"/>
<circle cx="301.72" cy="219.76" r="0.48" fill="#111" stroke="none" stroke-width="0.3" opacity="0.7"/>
<circle cx="304.12" cy="214.99" r="0.48" fill="#111" stroke="none" stroke-width="0.3" opacity="0.7"/>
<circle cx="311.31" cy="206.94" r="0.48" fill="#111" stroke="none" stroke-width="0.3" opacity="0.7"/>
<circle cx="300.31" cy="222.07" r="0.48" fill="#111" stroke="none" stroke-width="0.3" opacity="0.7"/>
<circle cx="307.81" cy="211.9" r="0.48" fill="#111" stroke="none" stroke-width="0.3" opacity="0.7"/>
<circle cx="312.59" cy="216.66" r="0.48" fill="#111" stroke="none" stroke-width="0.3" opacity="0.7"/>
<circle cx="302.23" cy="217.47" r="0.48" fill="#111" stroke="none" stroke-width="0.3" opacity="0.7"/>
<circle cx="297.82" cy="223.79" r="0.48" fill="#111" stroke="none" stroke-width="0.3" opacity="0.7"/>
<circle cx="300.23" cy="215.06" r="0.48" fill="#111" stroke="none" stroke-width="0.3" opacity="0.7"/>
<circle cx="304.31" cy="209.46" r="0.48" fill="#111" stroke="none" stroke-width="0.3" opacity="0.7"/>
<circle cx="304.47" cy="215.26" r="0.48" fill="#111" stroke="none" stroke-width="0.3" opacity="0.7"/>
<circle cx="304.04" cy="220.36" r="0.48" fill="#111" stroke="none" stroke-width="0.3" opacity="0.7"/>
<circle cx="299.08" cy="210.64" r="0.48" fill="#111" stroke="none" stroke-width="0.3" opacity="0.7"/>
<circle cx="298.93" cy="212.14" r="0.48" fill="#111" stroke="none" stroke-width="0.3" opacity="0.7"/>
<circle cx="303.15" cy="219.97" r="0.48" fill="#111" stroke="none" stroke-width="0.3" opacity="0.7"/>
<circle cx="310.03" cy="218.85" r="0.48" fill="#111" stroke="none" stroke-width="0.3" opacity="0.7"/>
<circle cx="312.67" cy="205.75" r="0.48" fill="#111" stroke="none" stroke-width="0.3" opacity="0.7"/>
<circle cx="298.59" cy="214.33" r="0.48" fill="#111" stroke="none" stroke-width="0.3" opacity="0.7"/>
<circle cx="303.55" cy="217.69" r="0.48" fill="#111" stroke="none" stroke-width="0.3" opacity="0.7"/>
<circle cx="306.43" cy="214.93" r="0.48" fill="#111" stroke="none" stroke-width="0.3" opacity="0.7"/>
<circle cx="309.5" cy="242.5" r="0.45" fill="#111" stroke="none" stroke-width="0.3" opacity="0.8"/>
<circle cx="304" cy="249.1" r="0.45" fill="#111" stroke="none" stroke-width="0.3" opacity="0.8"/>
<circle cx="310.3" cy="253.1" r="0.45" fill="#111" stroke="none" stroke-width="0.3" opacity="0.8"/>
<line x1="336.5" y1="206.5" x2="336.5" y2="240.7" stroke="#6a6a6a" stroke-width="0.6" />
<line x1="329.24" y1="206.5" x2="344.66" y2="206.5" stroke="#A6A6A6" stroke-width="0.7" />
<line x1="329.24" y1="240.7" x2="344.66" y2="240.7" stroke="#A6A6A6" stroke-width="0.7" />
<rect x="324.1" y="208.5" width="25.7" height="15.8" fill="#E8288B" stroke="#6a6a6a" stroke-width="0.4" />
<line x1="324.1" y1="211.5" x2="349.8" y2="211.5" stroke="#333" stroke-width="0.7" />
<circle cx="344.12" cy="216.1" r="0.48" fill="#111" stroke="none" stroke-width="0.3" opacity="0.7"/>
<circle cx="329.29" cy="208.83" r="0.48" fill="#111" stroke="none" stroke-width="0.3" opacity="0.7"/>
<circle cx="342.74" cy="219.27" r="0.48" fill="#111" stroke="none" stroke-width="0.3" opacity="0.7"/>
<circle cx="329.75" cy="211.6" r="0.48" fill="#111" stroke="none" stroke-width="0.3" opacity="0.7"/>
<circle cx="344.51" cy="229.82" r="0.48" fill="#111" stroke="none" stroke-width="0.3" opacity="0.7"/>
<circle cx="338.18" cy="213.42" r="0.48" fill="#111" stroke="none" stroke-width="0.3" opacity="0.7"/>
<circle cx="336.05" cy="225.84" r="0.48" fill="#111" stroke="none" stroke-width="0.3" opacity="0.7"/>
<circle cx="330.53" cy="235.77" r="0.48" fill="#111" stroke="none" stroke-width="0.3" opacity="0.7"/>
<circle cx="336.54" cy="208.87" r="0.48" fill="#111" stroke="none" stroke-width="0.3" opacity="0.7"/>
<circle cx="331.62" cy="210.53" r="0.48" fill="#111" stroke="none" stroke-width="0.3" opacity="0.7"/>
<circle cx="336.22" cy="224.13" r="0.48" fill="#111" stroke="none" stroke-width="0.3" opacity="0.7"/>
<circle cx="331.19" cy="223.85" r="0.48" fill="#111" stroke="none" stroke-width="0.3" opacity="0.7"/>
<circle cx="340.27" cy="205.5" r="0.48" fill="#111" stroke="none" stroke-width="0.3" opacity="0.7"/>
<circle cx="336.51" cy="221.26" r="0.48" fill="#111" stroke="none" stroke-width="0.3" opacity="0.7"/>
<circle cx="332.72" cy="210.35" r="0.48" fill="#111" stroke="none" stroke-width="0.3" opacity="0.7"/>
<circle cx="332.29" cy="221.17" r="0.48" fill="#111" stroke="none" stroke-width="0.3" opacity="0.7"/>
<circle cx="340.42" cy="212.72" r="0.48" fill="#111" stroke="none" stroke-width="0.3" opacity="0.7"/>
<circle cx="340.16" cy="217.69" r="0.48" fill="#111" stroke="none" stroke-width="0.3" opacity="0.7"/>
<circle cx="334.85" cy="215.07" r="0.48" fill="#111" stroke="none" stroke-width="0.3" opacity="0.7"/>
<circle cx="335.91" cy="215.28" r="0.48" fill="#111" stroke="none" stroke-width="0.3" opacity="0.7"/>
<circle cx="340.89" cy="234.18" r="0.48" fill="#111" stroke="none" stroke-width="0.3" opacity="0.7"/>
<circle cx="336.99" cy="228.21" r="0.48" fill="#111" stroke="none" stroke-width="0.3" opacity="0.7"/>
<circle cx="332.78" cy="214.89" r="0.48" fill="#111" stroke="none" stroke-width="0.3" opacity="0.7"/>
<circle cx="337.35" cy="211.16" r="0.48" fill="#111" stroke="none" stroke-width="0.3" opacity="0.7"/>
<circle cx="329.34" cy="215.95" r="0.48" fill="#111" stroke="none" stroke-width="0.3" opacity="0.7"/>
<circle cx="338.7" cy="205.5" r="0.48" fill="#111" stroke="none" stroke-width="0.3" opacity="0.7"/>
<path d="M305.5 193.2V191.6H337.5V193.2" fill="none" stroke="#8a8a8a" stroke-width="0.4" />
<text class="s" x="321.5" y="191.1" font-size="5.8" text-anchor="middle" fill="#111" transform="rotate(0.03 321.5 191.1)">ns</text>
<path d="M273.4 199V197.4H337.5V199" fill="none" stroke="#8a8a8a" stroke-width="0.4" />
<text class="s" x="305.45" y="196.9" font-size="5.8" text-anchor="middle" fill="#111" transform="rotate(0.03 305.45 196.9)">ns</text>
<path d="M273.4 204.6V203H305.5V204.6" fill="none" stroke="#8a8a8a" stroke-width="0.4" />
<text class="s" x="289.45" y="204.6" font-size="6.2" text-anchor="middle" fill="#111" transform="rotate(0.03 289.45 204.6)">*</text>
<text class="r" x="274.4" y="266.3" font-size="7.4" text-anchor="middle" fill="#222" transform="rotate(0.03 274.4 266.3)">HC</text>
<text class="r" x="303.7" y="266.3" font-size="7.4" text-anchor="middle" fill="#222" transform="rotate(0.03 303.7 266.3)">HBV</text>
<text class="r" x="335.7" y="266.3" font-size="7.4" text-anchor="middle" fill="#222" transform="rotate(0.03 335.7 266.3)">ALD</text>
<text class="s" x="252.5" y="192.63" font-size="1.9" text-anchor="end" fill="#444" transform="rotate(0.03 252.5 192.63)">1.0</text>
<line x1="253" y1="192" x2="254" y2="192" stroke="#888" stroke-width="0.3" />
<text class="s" x="252.5" y="203.93" font-size="1.9" text-anchor="end" fill="#444" transform="rotate(0.03 252.5 203.93)">0.9</text>
<line x1="253" y1="203.3" x2="254" y2="203.3" stroke="#888" stroke-width="0.3" />
<text class="s" x="252.5" y="215.23" font-size="1.9" text-anchor="end" fill="#444" transform="rotate(0.03 252.5 215.23)">0.8</text>
<line x1="253" y1="214.6" x2="254" y2="214.6" stroke="#888" stroke-width="0.3" />
<text class="s" x="252.5" y="226.53" font-size="1.9" text-anchor="end" fill="#444" transform="rotate(0.03 252.5 226.53)">0.7</text>
<line x1="253" y1="225.9" x2="254" y2="225.9" stroke="#888" stroke-width="0.3" />
<text class="s" x="252.5" y="237.83" font-size="1.9" text-anchor="end" fill="#444" transform="rotate(0.03 252.5 237.83)">0.6</text>
<line x1="253" y1="237.2" x2="254" y2="237.2" stroke="#888" stroke-width="0.3" />
<text class="s" x="252.5" y="249.13" font-size="1.9" text-anchor="end" fill="#444" transform="rotate(0.03 252.5 249.13)">0.5</text>
<line x1="253" y1="248.5" x2="254" y2="248.5" stroke="#888" stroke-width="0.3" />
<text class="r" x="1.3" y="10.8" font-size="7" fill="#000" font-weight="bold" transform="rotate(0.03 1.3 10.8)">A</text>
<text class="r" x="371" y="9" font-size="7" fill="#000" font-weight="bold" transform="rotate(0.03 371 9)">C</text>
<rect x="46.1" y="103.4" width="126" height="28.1" fill="#fff" stroke="#A8A8A8" stroke-width="0.5" />
<line x1="51.9" y1="103.7" x2="51.9" y2="131.2" stroke="#EDEDED" stroke-width="0.4" />
<line x1="84.4" y1="103.7" x2="84.4" y2="131.2" stroke="#EDEDED" stroke-width="0.4" />
<line x1="116.4" y1="103.7" x2="116.4" y2="131.2" stroke="#EDEDED" stroke-width="0.4" />
<line x1="148.9" y1="103.7" x2="148.9" y2="131.2" stroke="#EDEDED" stroke-width="0.4" />
<line x1="46.4" y1="108.7" x2="171.8" y2="108.7" stroke="#EDEDED" stroke-width="0.4" />
<line x1="46.4" y1="117.5" x2="171.8" y2="117.5" stroke="#EDEDED" stroke-width="0.4" />
<line x1="46.4" y1="126.3" x2="171.8" y2="126.3" stroke="#EDEDED" stroke-width="0.4" />
<line x1="99.1" y1="108.7" x2="160.4" y2="108.7" stroke="#666" stroke-width="0.45" />
<rect x="119.6" y="105.4" width="25.9" height="6.6" fill="#8CC540" stroke="#666" stroke-width="0.4" />
<line x1="134.4" y1="105.4" x2="134.4" y2="112" stroke="#333" stroke-width="0.6" />
<circle cx="59.7" cy="108.7" r="0.4" fill="#333" stroke="none" stroke-width="0.3" />
<circle cx="75.5" cy="108.7" r="0.4" fill="#333" stroke="none" stroke-width="0.3" />
<line x1="52.1" y1="117.5" x2="140.4" y2="117.5" stroke="#666" stroke-width="0.45" />
<rect x="73.1" y="114.2" width="57.9" height="6.6" fill="#4FADE3" stroke="#666" stroke-width="0.4" />
<line x1="109.5" y1="114.2" x2="109.5" y2="120.8" stroke="#333" stroke-width="0.6" />
<line x1="69.1" y1="126.3" x2="162.1" y2="126.3" stroke="#666" stroke-width="0.45" />
<rect x="92.1" y="123" width="52.5" height="6.6" fill="#E8288B" stroke="#666" stroke-width="0.4" />
<line x1="134.4" y1="123" x2="134.4" y2="129.6" stroke="#333" stroke-width="0.6" />
<text class="s" x="44.3" y="109.8" font-size="3.3" text-anchor="end" fill="#222" transform="rotate(0.03 44.3 109.8)">HBV</text>
<line x1="45.2" y1="108.7" x2="46.1" y2="108.7" stroke="#666" stroke-width="0.3" />
<text class="s" x="44.3" y="118.6" font-size="3.3" text-anchor="end" fill="#222" transform="rotate(0.03 44.3 118.6)">HC</text>
<line x1="45.2" y1="117.5" x2="46.1" y2="117.5" stroke="#666" stroke-width="0.3" />
<text class="s" x="44.3" y="127.4" font-size="3.3" text-anchor="end" fill="#222" transform="rotate(0.03 44.3 127.4)">ALD</text>
<line x1="45.2" y1="126.3" x2="46.1" y2="126.3" stroke="#666" stroke-width="0.3" />
<text class="s" x="165.4" y="109.8" font-size="3.8" text-anchor="middle" fill="#000" font-weight="bold" transform="rotate(0.03 165.4 109.8)">a</text>
<text class="s" x="145.8" y="118.6" font-size="3.8" text-anchor="middle" fill="#000" font-weight="bold" transform="rotate(0.03 145.8 118.6)">b</text>
<text class="s" x="166.6" y="127.4" font-size="3.8" text-anchor="middle" fill="#000" font-weight="bold" transform="rotate(0.03 166.6 127.4)">a</text>
<line x1="84.4" y1="131.5" x2="84.4" y2="132.5" stroke="#666" stroke-width="0.3" />
<line x1="116.4" y1="131.5" x2="116.4" y2="132.5" stroke="#666" stroke-width="0.3" />
<line x1="148.9" y1="131.5" x2="148.9" y2="132.5" stroke="#666" stroke-width="0.3" />
<rect x="176.1" y="103.3" width="32.1" height="28.1" fill="#fff" stroke="#A8A8A8" stroke-width="0.5" />
<text class="s" x="192.3" y="112.5" font-size="4.08" text-anchor="middle" fill="#111" transform="rotate(0.03 192.3 112.5)">PERMANOVA:</text>
<text class="s" x="192.3" y="116.4" font-size="4.08" text-anchor="middle" fill="#111" transform="rotate(0.03 192.3 116.4)">df = 2</text>
<text class="s" x="192.3" y="120.5" font-size="4.08" text-anchor="middle" fill="#111" transform="rotate(0.03 192.3 120.5)">R2 = 0.0515</text>
<text class="s" x="192.3" y="124.6" font-size="4.08" text-anchor="middle" fill="#111" transform="rotate(0.03 192.3 124.6)">p−value = 0.001</text>
<rect x="46.1" y="136" width="126" height="110.1" fill="#fff" stroke="#A8A8A8" stroke-width="0.5" />
<line x1="116.4" y1="136" x2="116.4" y2="246.1" stroke="#C8C8C8" stroke-width="0.4" />
<line x1="46.1" y1="195.2" x2="172.1" y2="195.2" stroke="#C8C8C8" stroke-width="0.4" />
<g>
<ellipse cx="120.3" cy="190.9" rx="46.3" ry="50.9" transform="rotate(7 120.3 190.9)" fill="#E8288B" fill-opacity="0.13" stroke="#E8288B" stroke-width="0.5"/>
<ellipse cx="103.3" cy="202.5" rx="57.5" ry="20.5" transform="rotate(27.5 103.3 202.5)" fill="#4FADE3" fill-opacity="0.13" stroke="#4FADE3" stroke-opacity="0.7" stroke-width="0.4"/>
<ellipse cx="126.5" cy="196.9" rx="29.3" ry="36.3" fill="#8CC540" fill-opacity="0.16" stroke="#8CC540" stroke-opacity="0.8" stroke-width="0.4"/>
</g>
<circle cx="110.71" cy="147.73" r="2.05" fill="#E8288B" stroke="none" stroke-width="0.3" />
<circle cx="124.87" cy="180.08" r="2.05" fill="#4FADE3" stroke="none" stroke-width="0.3" />
<circle cx="127.9" cy="196.06" r="2.05" fill="#8CC540" stroke="none" stroke-width="0.3" />
<circle cx="103.03" cy="191.01" r="2.05" fill="#8CC540" stroke="none" stroke-width="0.3" />
<circle cx="112.73" cy="173.01" r="2.05" fill="#8CC540" stroke="none" stroke-width="0.3" />
<circle cx="119.81" cy="209.81" r="2.05" fill="#8CC540" stroke="none" stroke-width="0.3" />
<circle cx="142.66" cy="147.73" r="2.05" fill="#E8288B" stroke="none" stroke-width="0.3" />
<circle cx="98.58" cy="159.66" r="2.05" fill="#E8288B" stroke="none" stroke-width="0.3" />
<circle cx="129.92" cy="190.2" r="2.05" fill="#E8288B" stroke="none" stroke-width="0.3" />
<circle cx="94.53" cy="215.88" r="2.05" fill="#E8288B" stroke="none" stroke-width="0.3" />
<circle cx="82.4" cy="188.17" r="2.05" fill="#E8288B" stroke="none" stroke-width="0.3" />
<circle cx="137" cy="214.87" r="2.05" fill="#E8288B" stroke="none" stroke-width="0.3" />
<circle cx="138.62" cy="184.94" r="2.05" fill="#8CC540" stroke="none" stroke-width="0.3" />
<circle cx="109.09" cy="184.94" r="2.05" fill="#E8288B" stroke="none" stroke-width="0.3" />
<circle cx="76.33" cy="185.54" r="2.05" fill="#8CC540" stroke="none" stroke-width="0.3" />
<circle cx="136.39" cy="178.87" r="2.05" fill="#E8288B" stroke="none" stroke-width="0.3" />
<circle cx="144.69" cy="174.42" r="2.05" fill="#8CC540" stroke="none" stroke-width="0.3" />
<circle cx="131.95" cy="233.07" r="2.05" fill="#4FADE3" stroke="none" stroke-width="0.3" />
<circle cx="89.88" cy="157.23" r="2.05" fill="#E8288B" stroke="none" stroke-width="0.3" />
<circle cx="141.05" cy="187.97" r="2.05" fill="#8CC540" stroke="none" stroke-width="0.3" />
<circle cx="134.98" cy="198.69" r="2.05" fill="#8CC540" stroke="none" stroke-width="0.3" />
<circle cx="89.48" cy="191.01" r="2.05" fill="#4FADE3" stroke="none" stroke-width="0.3" />
<circle cx="105.66" cy="215.88" r="2.05" fill="#8CC540" stroke="none" stroke-width="0.3" />
<circle cx="87.05" cy="186.56" r="2.05" fill="#8CC540" stroke="none" stroke-width="0.3" />
<circle cx="89.88" cy="205.36" r="2.05" fill="#4FADE3" stroke="none" stroke-width="0.3" />
<circle cx="97.97" cy="205.77" r="2.05" fill="#E8288B" stroke="none" stroke-width="0.3" />
<circle cx="115.77" cy="200.71" r="2.05" fill="#8CC540" stroke="none" stroke-width="0.3" />
<circle cx="82.4" cy="194.65" r="2.05" fill="#4FADE3" stroke="none" stroke-width="0.3" />
<circle cx="130.53" cy="172.8" r="2.05" fill="#8CC540" stroke="none" stroke-width="0.3" />
<circle cx="91.9" cy="202.13" r="2.05" fill="#4FADE3" stroke="none" stroke-width="0.3" />
<circle cx="136.39" cy="196.06" r="2.05" fill="#8CC540" stroke="none" stroke-width="0.3" />
<circle cx="129.92" cy="217.9" r="2.05" fill="#4FADE3" stroke="none" stroke-width="0.3" />
<circle cx="127.9" cy="219.32" r="2.05" fill="#4FADE3" stroke="none" stroke-width="0.3" />
<circle cx="126.89" cy="212.85" r="2.05" fill="#4FADE3" stroke="none" stroke-width="0.3" />
<circle cx="85.84" cy="209.21" r="2.05" fill="#E8288B" stroke="none" stroke-width="0.3" />
<circle cx="82.4" cy="184.94" r="2.05" fill="#4FADE3" stroke="none" stroke-width="0.3" />
<circle cx="89.07" cy="186.56" r="2.05" fill="#E8288B" stroke="none" stroke-width="0.3" />
<circle cx="126.89" cy="187.97" r="2.05" fill="#8CC540" stroke="none" stroke-width="0.3" />
<circle cx="129.92" cy="210.82" r="2.05" fill="#E8288B" stroke="none" stroke-width="0.3" />
<circle cx="139.02" cy="200.71" r="2.05" fill="#E8288B" stroke="none" stroke-width="0.3" />
<circle cx="116.78" cy="226.39" r="2.05" fill="#8CC540" stroke="none" stroke-width="0.3" />
<circle cx="119.81" cy="208.8" r="2.05" fill="#4FADE3" stroke="none" stroke-width="0.3" />
<circle cx="130.93" cy="178.87" r="2.05" fill="#4FADE3" stroke="none" stroke-width="0.3" />
<circle cx="125.47" cy="200.31" r="2.05" fill="#8CC540" stroke="none" stroke-width="0.3" />
<circle cx="85.43" cy="192.62" r="2.05" fill="#4FADE3" stroke="none" stroke-width="0.3" />
<circle cx="133.97" cy="183.93" r="2.05" fill="#8CC540" stroke="none" stroke-width="0.3" />
<circle cx="73.7" cy="191.01" r="2.05" fill="#4FADE3" stroke="none" stroke-width="0.3" />
<circle cx="134.98" cy="202.73" r="2.05" fill="#8CC540" stroke="none" stroke-width="0.3" />
<circle cx="130.93" cy="198.69" r="2.05" fill="#E8288B" stroke="none" stroke-width="0.3" />
<circle cx="93.52" cy="201.72" r="2.05" fill="#E8288B" stroke="none" stroke-width="0.3" />
<circle cx="126.49" cy="214.87" r="2.05" fill="#4FADE3" stroke="none" stroke-width="0.3" />
<circle cx="85.03" cy="190.2" r="2.05" fill="#4FADE3" stroke="none" stroke-width="0.3" />
<circle cx="111.72" cy="191.01" r="2.05" fill="#4FADE3" stroke="none" stroke-width="0.3" />
<circle cx="109.09" cy="201.12" r="2.05" fill="#8CC540" stroke="none" stroke-width="0.3" />
<circle cx="127.5" cy="206.17" r="2.05" fill="#E8288B" stroke="none" stroke-width="0.3" />
<circle cx="121.83" cy="196.67" r="2.05" fill="#8CC540" stroke="none" stroke-width="0.3" />
<circle cx="132.96" cy="210.82" r="2.05" fill="#8CC540" stroke="none" stroke-width="0.3" />
<circle cx="126.89" cy="175.03" r="2.05" fill="#E8288B" stroke="none" stroke-width="0.3" />
<circle cx="124.87" cy="157.64" r="2.05" fill="#8CC540" stroke="none" stroke-width="0.3" />
<circle cx="111.12" cy="202.73" r="2.05" fill="#8CC540" stroke="none" stroke-width="0.3" />
<circle cx="126.28" cy="229.43" r="2.05" fill="#8CC540" stroke="none" stroke-width="0.3" />
<circle cx="126.28" cy="152.18" r="2.05" fill="#E8288B" stroke="none" stroke-width="0.3" />
<circle cx="93.93" cy="191.61" r="2.05" fill="#E8288B" stroke="none" stroke-width="0.3" />
<circle cx="71.28" cy="183.93" r="2.05" fill="#4FADE3" stroke="none" stroke-width="0.3" />
<circle cx="120.82" cy="213.25" r="2.05" fill="#E8288B" stroke="none" stroke-width="0.3" />
<circle cx="120.42" cy="216.89" r="2.05" fill="#8CC540" stroke="none" stroke-width="0.3" />
<circle cx="108.69" cy="220.33" r="2.05" fill="#4FADE3" stroke="none" stroke-width="0.3" />
<circle cx="123.86" cy="207.79" r="2.05" fill="#4FADE3" stroke="none" stroke-width="0.3" />
<circle cx="81.39" cy="198.69" r="2.05" fill="#4FADE3" stroke="none" stroke-width="0.3" />
<circle cx="139.43" cy="145.5" r="2.05" fill="#8CC540" stroke="none" stroke-width="0.3" />
<circle cx="125.47" cy="222.96" r="2.05" fill="#8CC540" stroke="none" stroke-width="0.3" />
<circle cx="137.61" cy="155.21" r="2.05" fill="#E8288B" stroke="none" stroke-width="0.3" />
<circle cx="133.97" cy="200.31" r="2.05" fill="#8CC540" stroke="none" stroke-width="0.3" />
<circle cx="76.33" cy="190.2" r="2.05" fill="#4FADE3" stroke="none" stroke-width="0.3" />
<circle cx="108.69" cy="179.48" r="2.05" fill="#8CC540" stroke="none" stroke-width="0.3" />
<circle cx="113.75" cy="224.37" r="2.05" fill="#4FADE3" stroke="none" stroke-width="0.3" />
<circle cx="134.98" cy="188.58" r="2.05" fill="#8CC540" stroke="none" stroke-width="0.3" />
<circle cx="115.77" cy="202.73" r="2.05" fill="#4FADE3" stroke="none" stroke-width="0.3" />
<circle cx="120.42" cy="182.51" r="2.05" fill="#8CC540" stroke="none" stroke-width="0.3" />
<circle cx="104.65" cy="213.86" r="2.05" fill="#4FADE3" stroke="none" stroke-width="0.3" />
<circle cx="111.72" cy="219.92" r="2.05" fill="#4FADE3" stroke="none" stroke-width="0.3" />
<circle cx="112.73" cy="210.82" r="2.05" fill="#E8288B" stroke="none" stroke-width="0.3" />
<circle cx="116.78" cy="195.66" r="2.05" fill="#8CC540" stroke="none" stroke-width="0.3" />
<circle cx="145.9" cy="154.6" r="2.05" fill="#E8288B" stroke="none" stroke-width="0.3" />
<circle cx="134.37" cy="208.8" r="2.05" fill="#8CC540" stroke="none" stroke-width="0.3" />
<circle cx="126.89" cy="232.06" r="2.05" fill="#E8288B" stroke="none" stroke-width="0.3" />
<circle cx="130.93" cy="194.65" r="2.05" fill="#8CC540" stroke="none" stroke-width="0.3" />
<circle cx="93.52" cy="182.11" r="2.05" fill="#4FADE3" stroke="none" stroke-width="0.3" />
<circle cx="76.33" cy="196.06" r="2.05" fill="#4FADE3" stroke="none" stroke-width="0.3" />
<circle cx="135.99" cy="205.77" r="2.05" fill="#8CC540" stroke="none" stroke-width="0.3" />
<circle cx="115.77" cy="213.25" r="2.05" fill="#E8288B" stroke="none" stroke-width="0.3" />
<circle cx="125.47" cy="203.75" r="2.05" fill="#4FADE3" stroke="none" stroke-width="0.3" />
<circle cx="89.07" cy="178.87" r="2.05" fill="#E8288B" stroke="none" stroke-width="0.3" />
<circle cx="142.66" cy="184.94" r="2.05" fill="#E8288B" stroke="none" stroke-width="0.3" />
<circle cx="142.06" cy="168.96" r="2.05" fill="#E8288B" stroke="none" stroke-width="0.3" />
<text class="s" x="44.4" y="138.7" font-size="5.8" text-anchor="end" fill="#2a2a2a" transform="rotate(0.03 44.4 138.7)">0.3</text>
<line x1="45.1" y1="136.7" x2="46.1" y2="136.7" stroke="#666" stroke-width="0.3" />
<text class="s" x="44.4" y="158.1" font-size="5.8" text-anchor="end" fill="#2a2a2a" transform="rotate(0.03 44.4 158.1)">0.2</text>
<line x1="45.1" y1="156.1" x2="46.1" y2="156.1" stroke="#666" stroke-width="0.3" />
<text class="s" x="44.4" y="177.7" font-size="5.8" text-anchor="end" fill="#2a2a2a" transform="rotate(0.03 44.4 177.7)">0.1</text>
<line x1="45.1" y1="175.7" x2="46.1" y2="175.7" stroke="#666" stroke-width="0.3" />
<text class="s" x="44.4" y="197.2" font-size="5.8" text-anchor="end" fill="#2a2a2a" transform="rotate(0.03 44.4 197.2)">0.0</text>
<line x1="45.1" y1="195.2" x2="46.1" y2="195.2" stroke="#666" stroke-width="0.3" />
<text class="s" x="44.4" y="216.7" font-size="5.8" text-anchor="end" fill="#2a2a2a" transform="rotate(0.03 44.4 216.7)">−0.1</text>
<line x1="45.1" y1="214.7" x2="46.1" y2="214.7" stroke="#666" stroke-width="0.3" />
<text class="s" x="44.4" y="236.2" font-size="5.8" text-anchor="end" fill="#2a2a2a" transform="rotate(0.03 44.4 236.2)">−0.2</text>
<line x1="45.1" y1="234.2" x2="46.1" y2="234.2" stroke="#666" stroke-width="0.3" />
<text class="s" x="52.5" y="252.8" font-size="5.85" text-anchor="middle" fill="#2a2a2a" transform="rotate(0.03 52.5 252.8)">−0.50</text>
<line x1="51.9" y1="246.1" x2="51.9" y2="247.1" stroke="#666" stroke-width="0.3" />
<text class="s" x="85" y="252.8" font-size="5.85" text-anchor="middle" fill="#2a2a2a" transform="rotate(0.03 85 252.8)">−0.25</text>
<line x1="84.4" y1="246.1" x2="84.4" y2="247.1" stroke="#666" stroke-width="0.3" />
<text class="s" x="117" y="252.8" font-size="5.85" text-anchor="middle" fill="#2a2a2a" transform="rotate(0.03 117 252.8)">0.00</text>
<line x1="116.4" y1="246.1" x2="116.4" y2="247.1" stroke="#666" stroke-width="0.3" />
<text class="s" x="149.5" y="252.8" font-size="5.85" text-anchor="middle" fill="#2a2a2a" transform="rotate(0.03 149.5 252.8)">0.25</text>
<line x1="148.9" y1="246.1" x2="148.9" y2="247.1" stroke="#666" stroke-width="0.3" />
<text class="s" x="157.2" y="261.8" font-size="5.95" text-anchor="middle" fill="#222" transform="rotate(0.03 157.2 261.8)">PCoA1 (12%)</text>
<text class="s" x="33.2" y="195" font-size="5.6" text-anchor="middle" fill="#222" transform="rotate(-89.97 33.2 195)">PCoA2 (4%)</text>
<text class="s" x="21.4" y="165.3" font-size="7.07" text-anchor="middle" fill="#222" transform="rotate(-89.97 21.4 165.3)">PCoA Analysis (unweighted_unifrac)</text>
<rect x="176.1" y="135.3" width="32.1" height="110.8" fill="#fff" stroke="#A8A8A8" stroke-width="0.5" />
<line x1="183.1" y1="135.6" x2="183.1" y2="245.8" stroke="#EDEDED" stroke-width="0.4" />
<line x1="192.6" y1="135.6" x2="192.6" y2="245.8" stroke="#EDEDED" stroke-width="0.4" />
<line x1="202.3" y1="135.6" x2="202.3" y2="245.8" stroke="#EDEDED" stroke-width="0.4" />
<line x1="176.4" y1="156.1" x2="207.9" y2="156.1" stroke="#EDEDED" stroke-width="0.4" />
<line x1="176.4" y1="175.7" x2="207.9" y2="175.7" stroke="#EDEDED" stroke-width="0.4" />
<line x1="176.4" y1="195.2" x2="207.9" y2="195.2" stroke="#EDEDED" stroke-width="0.4" />
<line x1="176.4" y1="214.7" x2="207.9" y2="214.7" stroke="#EDEDED" stroke-width="0.4" />
<line x1="176.4" y1="234.2" x2="207.9" y2="234.2" stroke="#EDEDED" stroke-width="0.4" />
<line x1="183.05" y1="143.6" x2="183.05" y2="243.8" stroke="#666" stroke-width="0.45" />
<rect x="179.4" y="180.3" width="7.3" height="31.1" fill="#E8288B" stroke="#666" stroke-width="0.4" />
<line x1="179.4" y1="196.5" x2="186.7" y2="196.5" stroke="#333" stroke-width="0.6" />
<line x1="192.6" y1="180" x2="192.6" y2="242" stroke="#666" stroke-width="0.45" />
<rect x="188.9" y="195.2" width="7.4" height="24.5" fill="#4FADE3" stroke="#666" stroke-width="0.4" />
<line x1="188.9" y1="208.1" x2="196.3" y2="208.1" stroke="#333" stroke-width="0.6" />
<line x1="202.25" y1="175.3" x2="202.25" y2="237.2" stroke="#666" stroke-width="0.45" />
<rect x="198.6" y="190.2" width="7.3" height="20.5" fill="#8CC540" stroke="#666" stroke-width="0.4" />
<line x1="198.6" y1="201.8" x2="205.9" y2="201.8" stroke="#333" stroke-width="0.6" />
<circle cx="202.25" cy="145.6" r="0.4" fill="#333" stroke="none" stroke-width="0.3" />
<circle cx="202.25" cy="158.8" r="0.4" fill="#333" stroke="none" stroke-width="0.3" />
<text class="s" x="183.1" y="143.5" font-size="3.8" text-anchor="middle" fill="#000" font-weight="bold" transform="rotate(0.03 183.1 143.5)">a</text>
<text class="s" x="192.6" y="178.5" font-size="3.8" text-anchor="middle" fill="#000" font-weight="bold" transform="rotate(0.03 192.6 178.5)">b</text>
<text class="s" x="202.3" y="141.6" font-size="3.8" text-anchor="middle" fill="#000" font-weight="bold" transform="rotate(0.03 202.3 141.6)">ab</text>
<text class="s" x="184.2" y="247.8" font-size="3.2" text-anchor="end" fill="#333" transform="rotate(-89.97 184.2 247.8)">ALD</text>
<text class="s" x="193.7" y="247.8" font-size="3.2" text-anchor="end" fill="#333" transform="rotate(-89.97 193.7 247.8)">HC</text>
<text class="s" x="203.4" y="247.8" font-size="3.2" text-anchor="end" fill="#333" transform="rotate(-89.97 203.4 247.8)">HBV</text>
<line x1="175.2" y1="156.1" x2="176.1" y2="156.1" stroke="#666" stroke-width="0.3" />
<line x1="175.2" y1="175.7" x2="176.1" y2="175.7" stroke="#666" stroke-width="0.3" />
<line x1="175.2" y1="195.2" x2="176.1" y2="195.2" stroke="#666" stroke-width="0.3" />
<line x1="175.2" y1="214.7" x2="176.1" y2="214.7" stroke="#666" stroke-width="0.3" />
<line x1="175.2" y1="234.2" x2="176.1" y2="234.2" stroke="#666" stroke-width="0.3" />
<rect x="47.2" y="254.6" width="54.3" height="19" fill="#fff" stroke="#8f8f8f" stroke-width="0.6" rx="0.8"/>
<text class="s" x="49" y="261.2" font-size="5.83" fill="#111" font-weight="bold" transform="rotate(0.03 49 261.2)">Group</text>
<rect x="49" y="263.4" width="4.3" height="6.5" fill="#E8288B" stroke="#E8288B" stroke-width="0.35" fill-opacity="0.12" stroke-opacity="0.6"/>
<circle cx="51.15" cy="266.6" r="0.8" fill="#E8288B" stroke="none" stroke-width="0.3" />
<text class="s" x="55.1" y="268.2" font-size="4.5" fill="#222" transform="rotate(0.03 55.1 268.2)">ALD</text>
<rect x="66.5" y="263.4" width="4.3" height="6.5" fill="#4FADE3" stroke="#4FADE3" stroke-width="0.35" fill-opacity="0.12" stroke-opacity="0.6"/>
<circle cx="68.65" cy="266.6" r="0.8" fill="#4FADE3" stroke="none" stroke-width="0.3" />
<text class="s" x="72" y="268.2" font-size="4.5" fill="#222" transform="rotate(0.03 72 268.2)">HC</text>
<rect x="81.1" y="263.4" width="4.3" height="6.5" fill="#8CC540" stroke="#8CC540" stroke-width="0.35" fill-opacity="0.12" stroke-opacity="0.6"/>
<circle cx="83.25" cy="266.6" r="0.8" fill="#8CC540" stroke="none" stroke-width="0.3" />
<text class="s" x="87.2" y="268.2" font-size="4.5" fill="#222" transform="rotate(0.03 87.2 268.2)">HBV</text>
<g stroke="#8c8c8c" stroke-width="0.3" stroke-opacity="0.8">
<rect x="402" y="33" width="7.235" height="7.15" fill="#6e0822"/>
<rect x="409.24" y="33" width="7.235" height="7.15" fill="#b62130"/>
<rect x="416.47" y="33" width="7.235" height="7.15" fill="#8e1227"/>
<rect x="423.7" y="33" width="7.235" height="7.15" fill="#e28169"/>
<rect x="430.94" y="33" width="7.235" height="7.15" fill="#d76555"/>
<rect x="438.18" y="33" width="7.235" height="7.15" fill="#f3b498"/>
<rect x="445.41" y="33" width="7.235" height="7.15" fill="#f2b092"/>
<rect x="452.64" y="33" width="7.235" height="7.15" fill="#f7c8b0"/>
<rect x="459.88" y="33" width="7.235" height="7.15" fill="#d4dfe5"/>
<rect x="467.12" y="33" width="7.235" height="7.15" fill="#efa383"/>
<rect x="474.35" y="33" width="7.235" height="7.15" fill="#fad6c2"/>
<rect x="481.59" y="33" width="7.235" height="7.15" fill="#fad6c2"/>
<rect x="488.82" y="33" width="7.235" height="7.15" fill="#f5bea4"/>
<rect x="496.06" y="33" width="7.235" height="7.15" fill="#f5bea4"/>
<rect x="503.29" y="33" width="7.235" height="7.15" fill="#3979bd"/>
<rect x="510.52" y="33" width="7.235" height="7.15" fill="#5198cd"/>
<rect x="517.76" y="33" width="7.235" height="7.15" fill="#3979bd"/>
<rect x="525" y="33" width="7.235" height="7.15" fill="#448cc8"/>
<rect x="532.23" y="33" width="7.235" height="7.15" fill="#3d7fc1"/>
<rect x="539.47" y="33" width="7.235" height="7.15" fill="#326cb6"/>
<rect x="546.7" y="33" width="7.235" height="7.15" fill="#a0d0e5"/>
<rect x="553.93" y="33" width="7.235" height="7.15" fill="#3979bd"/>
<rect x="561.17" y="33" width="7.235" height="7.15" fill="#5198cd"/>
<rect x="568.4" y="33" width="7.235" height="7.15" fill="#5198cd"/>
<rect x="575.64" y="33" width="7.235" height="7.15" fill="#5198cd"/>
<rect x="582.88" y="33" width="7.235" height="7.15" fill="#64aad4"/>
<rect x="590.11" y="33" width="7.235" height="7.15" fill="#a0d0e5"/>
<rect x="597.35" y="33" width="7.235" height="7.15" fill="#579ecf"/>
<rect x="604.58" y="33" width="7.235" height="7.15" fill="#579ecf"/>
<rect x="402" y="40.15" width="7.235" height="7.15" fill="#b01d2d"/>
<rect x="409.24" y="40.15" width="7.235" height="7.15" fill="#6e0822"/>
<rect x="416.47" y="40.15" width="7.235" height="7.15" fill="#6e0822"/>
<rect x="423.7" y="40.15" width="7.235" height="7.15" fill="#b01d2d"/>
<rect x="430.94" y="40.15" width="7.235" height="7.15" fill="#b01d2d"/>
<rect x="438.18" y="40.15" width="7.235" height="7.15" fill="#e28169"/>
<rect x="445.41" y="40.15" width="7.235" height="7.15" fill="#d45f50"/>
<rect x="452.64" y="40.15" width="7.235" height="7.15" fill="#e28169"/>
<rect x="459.88" y="40.15" width="7.235" height="7.15" fill="#fad6c2"/>
<rect x="467.12" y="40.15" width="7.235" height="7.15" fill="#d45f50"/>
<rect x="474.35" y="40.15" width="7.235" height="7.15" fill="#efa383"/>
<rect x="481.59" y="40.15" width="7.235" height="7.15" fill="#f5bea4"/>
<rect x="488.82" y="40.15" width="7.235" height="7.15" fill="#e28169"/>
<rect x="496.06" y="40.15" width="7.235" height="7.15" fill="#e28169"/>
<rect x="503.29" y="40.15" width="7.235" height="7.15" fill="#172e64"/>
<rect x="510.52" y="40.15" width="7.235" height="7.15" fill="#1a3670"/>
<rect x="517.76" y="40.15" width="7.235" height="7.15" fill="#1a3670"/>
<rect x="525" y="40.15" width="7.235" height="7.15" fill="#204789"/>
<rect x="532.23" y="40.15" width="7.235" height="7.15" fill="#1a3670"/>
<rect x="539.47" y="40.15" width="7.235" height="7.15" fill="#172e64"/>
<rect x="546.7" y="40.15" width="7.235" height="7.15" fill="#579ecf"/>
<rect x="553.93" y="40.15" width="7.235" height="7.15" fill="#2c62ac"/>
<rect x="561.17" y="40.15" width="7.235" height="7.15" fill="#326cb6"/>
<rect x="568.4" y="40.15" width="7.235" height="7.15" fill="#2c62ac"/>
<rect x="575.64" y="40.15" width="7.235" height="7.15" fill="#2c62ac"/>
<rect x="582.88" y="40.15" width="7.235" height="7.15" fill="#64aad4"/>
<rect x="590.11" y="40.15" width="7.235" height="7.15" fill="#3d7fc1"/>
<rect x="597.35" y="40.15" width="7.235" height="7.15" fill="#3d7fc1"/>
<rect x="604.58" y="40.15" width="7.235" height="7.15" fill="#326cb6"/>
<rect x="402" y="47.3" width="7.235" height="7.15" fill="#8e1227"/>
<rect x="409.24" y="47.3" width="7.235" height="7.15" fill="#6e0822"/>
<rect x="416.47" y="47.3" width="7.235" height="7.15" fill="#6e0822"/>
<rect x="423.7" y="47.3" width="7.235" height="7.15" fill="#c33d3e"/>
<rect x="430.94" y="47.3" width="7.235" height="7.15" fill="#b01d2d"/>
<rect x="438.18" y="47.3" width="7.235" height="7.15" fill="#e28169"/>
<rect x="445.41" y="47.3" width="7.235" height="7.15" fill="#d45f50"/>
<rect x="452.64" y="47.3" width="7.235" height="7.15" fill="#e28169"/>
<rect x="459.88" y="47.3" width="7.235" height="7.15" fill="#f5dbcc"/>
<rect x="467.12" y="47.3" width="7.235" height="7.15" fill="#d45f50"/>
<rect x="474.35" y="47.3" width="7.235" height="7.15" fill="#efa383"/>
<rect x="481.59" y="47.3" width="7.235" height="7.15" fill="#f5bea4"/>
<rect x="488.82" y="47.3" width="7.235" height="7.15" fill="#e28169"/>
<rect x="496.06" y="47.3" width="7.235" height="7.15" fill="#e28169"/>
<rect x="503.29" y="47.3" width="7.235" height="7.15" fill="#1a3670"/>
<rect x="510.52" y="47.3" width="7.235" height="7.15" fill="#204789"/>
<rect x="517.76" y="47.3" width="7.235" height="7.15" fill="#204789"/>
<rect x="525" y="47.3" width="7.235" height="7.15" fill="#2c62ac"/>
<rect x="532.23" y="47.3" width="7.235" height="7.15" fill="#204789"/>
<rect x="539.47" y="47.3" width="7.235" height="7.15" fill="#172e64"/>
<rect x="546.7" y="47.3" width="7.235" height="7.15" fill="#64aad4"/>
<rect x="553.93" y="47.3" width="7.235" height="7.15" fill="#2c62ac"/>
<rect x="561.17" y="47.3" width="7.235" height="7.15" fill="#326cb6"/>
<rect x="568.4" y="47.3" width="7.235" height="7.15" fill="#326cb6"/>
<rect x="575.64" y="47.3" width="7.235" height="7.15" fill="#3979bd"/>
<rect x="582.88" y="47.3" width="7.235" height="7.15" fill="#64aad4"/>
<rect x="590.11" y="47.3" width="7.235" height="7.15" fill="#448cc8"/>
<rect x="597.35" y="47.3" width="7.235" height="7.15" fill="#448cc8"/>
<rect x="604.58" y="47.3" width="7.235" height="7.15" fill="#3d7fc1"/>
<rect x="402" y="54.45" width="7.235" height="7.15" fill="#e28169"/>
<rect x="409.24" y="54.45" width="7.235" height="7.15" fill="#b01d2d"/>
<rect x="416.47" y="54.45" width="7.235" height="7.15" fill="#c33d3e"/>
<rect x="423.7" y="54.45" width="7.235" height="7.15" fill="#6e0822"/>
<rect x="430.94" y="54.45" width="7.235" height="7.15" fill="#b01d2d"/>
<rect x="438.18" y="54.45" width="7.235" height="7.15" fill="#d45f50"/>
<rect x="445.41" y="54.45" width="7.235" height="7.15" fill="#bc2f37"/>
<rect x="452.64" y="54.45" width="7.235" height="7.15" fill="#d45f50"/>
<rect x="459.88" y="54.45" width="7.235" height="7.15" fill="#e28169"/>
<rect x="467.12" y="54.45" width="7.235" height="7.15" fill="#d45f50"/>
<rect x="474.35" y="54.45" width="7.235" height="7.15" fill="#e28169"/>
<rect x="481.59" y="54.45" width="7.235" height="7.15" fill="#e28169"/>
<rect x="488.82" y="54.45" width="7.235" height="7.15" fill="#e28169"/>
<rect x="496.06" y="54.45" width="7.235" height="7.15" fill="#e28169"/>
<rect x="503.29" y="54.45" width="7.235" height="7.15" fill="#204789"/>
<rect x="510.52" y="54.45" width="7.235" height="7.15" fill="#2c62ac"/>
<rect x="517.76" y="54.45" width="7.235" height="7.15" fill="#204789"/>
<rect x="525" y="54.45" width="7.235" height="7.15" fill="#204789"/>
<rect x="532.23" y="54.45" width="7.235" height="7.15" fill="#172e64"/>
<rect x="539.47" y="54.45" width="7.235" height="7.15" fill="#172e64"/>
<rect x="546.7" y="54.45" width="7.235" height="7.15" fill="#88c1de"/>
<rect x="553.93" y="54.45" width="7.235" height="7.15" fill="#326cb6"/>
<rect x="561.17" y="54.45" width="7.235" height="7.15" fill="#3979bd"/>
<rect x="568.4" y="54.45" width="7.235" height="7.15" fill="#326cb6"/>
<rect x="575.64" y="54.45" width="7.235" height="7.15" fill="#326cb6"/>
<rect x="582.88" y="54.45" width="7.235" height="7.15" fill="#afd5e6"/>
<rect x="590.11" y="54.45" width="7.235" height="7.15" fill="#7cb9db"/>
<rect x="597.35" y="54.45" width="7.235" height="7.15" fill="#64aad4"/>
<rect x="604.58" y="54.45" width="7.235" height="7.15" fill="#3979bd"/>
<rect x="402" y="61.6" width="7.235" height="7.15" fill="#d45f50"/>
<rect x="409.24" y="61.6" width="7.235" height="7.15" fill="#b01d2d"/>
<rect x="416.47" y="61.6" width="7.235" height="7.15" fill="#b01d2d"/>
<rect x="423.7" y="61.6" width="7.235" height="7.15" fill="#b01d2d"/>
<rect x="430.94" y="61.6" width="7.235" height="7.15" fill="#6e0822"/>
<rect x="438.18" y="61.6" width="7.235" height="7.15" fill="#d45f50"/>
<rect x="445.41" y="61.6" width="7.235" height="7.15" fill="#d45f50"/>
<rect x="452.64" y="61.6" width="7.235" height="7.15" fill="#d45f50"/>
<rect x="459.88" y="61.6" width="7.235" height="7.15" fill="#efa383"/>
<rect x="467.12" y="61.6" width="7.235" height="7.15" fill="#d45f50"/>
<rect x="474.35" y="61.6" width="7.235" height="7.15" fill="#e28169"/>
<rect x="481.59" y="61.6" width="7.235" height="7.15" fill="#f5bea4"/>
<rect x="488.82" y="61.6" width="7.235" height="7.15" fill="#e28169"/>
<rect x="496.06" y="61.6" width="7.235" height="7.15" fill="#d45f50"/>
<rect x="503.29" y="61.6" width="7.235" height="7.15" fill="#1a3670"/>
<rect x="510.52" y="61.6" width="7.235" height="7.15" fill="#1a3670"/>
<rect x="517.76" y="61.6" width="7.235" height="7.15" fill="#172e64"/>
<rect x="525" y="61.6" width="7.235" height="7.15" fill="#204789"/>
<rect x="532.23" y="61.6" width="7.235" height="7.15" fill="#172e64"/>
<rect x="539.47" y="61.6" width="7.235" height="7.15" fill="#172e64"/>
<rect x="546.7" y="61.6" width="7.235" height="7.15" fill="#579ecf"/>
<rect x="553.93" y="61.6" width="7.235" height="7.15" fill="#326cb6"/>
<rect x="561.17" y="61.6" width="7.235" height="7.15" fill="#326cb6"/>
<rect x="568.4" y="61.6" width="7.235" height="7.15" fill="#326cb6"/>
<rect x="575.64" y="61.6" width="7.235" height="7.15" fill="#326cb6"/>
<rect x="582.88" y="61.6" width="7.235" height="7.15" fill="#7cb9db"/>
<rect x="590.11" y="61.6" width="7.235" height="7.15" fill="#579ecf"/>
<rect x="597.35" y="61.6" width="7.235" height="7.15" fill="#448cc8"/>
<rect x="604.58" y="61.6" width="7.235" height="7.15" fill="#3979bd"/>
<rect x="402" y="68.75" width="7.235" height="7.15" fill="#f5bea4"/>
<rect x="409.24" y="68.75" width="7.235" height="7.15" fill="#e28169"/>
<rect x="416.47" y="68.75" width="7.235" height="7.15" fill="#e28169"/>
<rect x="423.7" y="68.75" width="7.235" height="7.15" fill="#d45f50"/>
<rect x="430.94" y="68.75" width="7.235" height="7.15" fill="#d45f50"/>
<rect x="438.18" y="68.75" width="7.235" height="7.15" fill="#6e0822"/>
<rect x="445.41" y="68.75" width="7.235" height="7.15" fill="#d45f50"/>
<rect x="452.64" y="68.75" width="7.235" height="7.15" fill="#e28169"/>
<rect x="459.88" y="68.75" width="7.235" height="7.15" fill="#e28169"/>
<rect x="467.12" y="68.75" width="7.235" height="7.15" fill="#e28169"/>
<rect x="474.35" y="68.75" width="7.235" height="7.15" fill="#efa383"/>
<rect x="481.59" y="68.75" width="7.235" height="7.15" fill="#fad6c2"/>
<rect x="488.82" y="68.75" width="7.235" height="7.15" fill="#f5bea4"/>
<rect x="496.06" y="68.75" width="7.235" height="7.15" fill="#ece0d8"/>
<rect x="503.29" y="68.75" width="7.235" height="7.15" fill="#2a5ea8"/>
<rect x="510.52" y="68.75" width="7.235" height="7.15" fill="#2c62ac"/>
<rect x="517.76" y="68.75" width="7.235" height="7.15" fill="#3979bd"/>
<rect x="525" y="68.75" width="7.235" height="7.15" fill="#3979bd"/>
<rect x="532.23" y="68.75" width="7.235" height="7.15" fill="#326cb6"/>
<rect x="539.47" y="68.75" width="7.235" height="7.15" fill="#326cb6"/>
<rect x="546.7" y="68.75" width="7.235" height="7.15" fill="#3979bd"/>
<rect x="553.93" y="68.75" width="7.235" height="7.15" fill="#3979bd"/>
<rect x="561.17" y="68.75" width="7.235" height="7.15" fill="#3979bd"/>
<rect x="568.4" y="68.75" width="7.235" height="7.15" fill="#3979bd"/>
<rect x="575.64" y="68.75" width="7.235" height="7.15" fill="#448cc8"/>
<rect x="582.88" y="68.75" width="7.235" height="7.15" fill="#579ecf"/>
<rect x="590.11" y="68.75" width="7.235" height="7.15" fill="#448cc8"/>
<rect x="597.35" y="68.75" width="7.235" height="7.15" fill="#172e64"/>
<rect x="604.58" y="68.75" width="7.235" height="7.15" fill="#204789"/>
<rect x="402" y="75.9" width="7.235" height="7.15" fill="#f5bea4"/>
<rect x="409.24" y="75.9" width="7.235" height="7.15" fill="#d45f50"/>
<rect x="416.47" y="75.9" width="7.235" height="7.15" fill="#d45f50"/>
<rect x="423.7" y="75.9" width="7.235" height="7.15" fill="#b92833"/>
<rect x="430.94" y="75.9" width="7.235" height="7.15" fill="#ca4a45"/>
<rect x="438.18" y="75.9" width="7.235" height="7.15" fill="#d45f50"/>
<rect x="445.41" y="75.9" width="7.235" height="7.15" fill="#6e0822"/>
<rect x="452.64" y="75.9" width="7.235" height="7.15" fill="#c33d3e"/>
<rect x="459.88" y="75.9" width="7.235" height="7.15" fill="#e28169"/>
<rect x="467.12" y="75.9" width="7.235" height="7.15" fill="#d45f50"/>
<rect x="474.35" y="75.9" width="7.235" height="7.15" fill="#e28169"/>
<rect x="481.59" y="75.9" width="7.235" height="7.15" fill="#efa383"/>
<rect x="488.82" y="75.9" width="7.235" height="7.15" fill="#efa383"/>
<rect x="496.06" y="75.9" width="7.235" height="7.15" fill="#fad6c2"/>
<rect x="503.29" y="75.9" width="7.235" height="7.15" fill="#2a5ea8"/>
<rect x="510.52" y="75.9" width="7.235" height="7.15" fill="#2a5ea8"/>
<rect x="517.76" y="75.9" width="7.235" height="7.15" fill="#2a5ea8"/>
<rect x="525" y="75.9" width="7.235" height="7.15" fill="#2a5ea8"/>
<rect x="532.23" y="75.9" width="7.235" height="7.15" fill="#204789"/>
<rect x="539.47" y="75.9" width="7.235" height="7.15" fill="#204789"/>
<rect x="546.7" y="75.9" width="7.235" height="7.15" fill="#448cc8"/>
<rect x="553.93" y="75.9" width="7.235" height="7.15" fill="#448cc8"/>
<rect x="561.17" y="75.9" width="7.235" height="7.15" fill="#2a5ea8"/>
<rect x="568.4" y="75.9" width="7.235" height="7.15" fill="#326cb6"/>
<rect x="575.64" y="75.9" width="7.235" height="7.15" fill="#326cb6"/>
<rect x="582.88" y="75.9" width="7.235" height="7.15" fill="#a0d0e5"/>
<rect x="590.11" y="75.9" width="7.235" height="7.15" fill="#448cc8"/>
<rect x="597.35" y="75.9" width="7.235" height="7.15" fill="#448cc8"/>
<rect x="604.58" y="75.9" width="7.235" height="7.15" fill="#326cb6"/>
<rect x="402" y="83.05" width="7.235" height="7.15" fill="#f5bea4"/>
<rect x="409.24" y="83.05" width="7.235" height="7.15" fill="#e28169"/>
<rect x="416.47" y="83.05" width="7.235" height="7.15" fill="#e28169"/>
<rect x="423.7" y="83.05" width="7.235" height="7.15" fill="#d45f50"/>
<rect x="430.94" y="83.05" width="7.235" height="7.15" fill="#d45f50"/>
<rect x="438.18" y="83.05" width="7.235" height="7.15" fill="#e28169"/>
<rect x="445.41" y="83.05" width="7.235" height="7.15" fill="#c33d3e"/>
<rect x="452.64" y="83.05" width="7.235" height="7.15" fill="#6e0822"/>
<rect x="459.88" y="83.05" width="7.235" height="7.15" fill="#efa383"/>
<rect x="467.12" y="83.05" width="7.235" height="7.15" fill="#d45f50"/>
<rect x="474.35" y="83.05" width="7.235" height="7.15" fill="#e28169"/>
<rect x="481.59" y="83.05" width="7.235" height="7.15" fill="#e28169"/>
<rect x="488.82" y="83.05" width="7.235" height="7.15" fill="#e28169"/>
<rect x="496.06" y="83.05" width="7.235" height="7.15" fill="#efa383"/>
<rect x="503.29" y="83.05" width="7.235" height="7.15" fill="#2c62ac"/>
<rect x="510.52" y="83.05" width="7.235" height="7.15" fill="#326cb6"/>
<rect x="517.76" y="83.05" width="7.235" height="7.15" fill="#326cb6"/>
<rect x="525" y="83.05" width="7.235" height="7.15" fill="#2a5ea8"/>
<rect x="532.23" y="83.05" width="7.235" height="7.15" fill="#204789"/>
<rect x="539.47" y="83.05" width="7.235" height="7.15" fill="#2c62ac"/>
<rect x="546.7" y="83.05" width="7.235" height="7.15" fill="#448cc8"/>
<rect x="553.93" y="83.05" width="7.235" height="7.15" fill="#448cc8"/>
<rect x="561.17" y="83.05" width="7.235" height="7.15" fill="#448cc8"/>
<rect x="568.4" y="83.05" width="7.235" height="7.15" fill="#579ecf"/>
<rect x="575.64" y="83.05" width="7.235" height="7.15" fill="#579ecf"/>
<rect x="582.88" y="83.05" width="7.235" height="7.15" fill="#a0d0e5"/>
<rect x="590.11" y="83.05" width="7.235" height="7.15" fill="#448cc8"/>
<rect x="597.35" y="83.05" width="7.235" height="7.15" fill="#64aad4"/>
<rect x="604.58" y="83.05" width="7.235" height="7.15" fill="#448cc8"/>
<rect x="402" y="90.2" width="7.235" height="7.15" fill="#d4dfe5"/>
<rect x="409.24" y="90.2" width="7.235" height="7.15" fill="#fad6c2"/>
<rect x="416.47" y="90.2" width="7.235" height="7.15" fill="#f7d9c9"/>
<rect x="423.7" y="90.2" width="7.235" height="7.15" fill="#e78e74"/>
<rect x="430.94" y="90.2" width="7.235" height="7.15" fill="#efa383"/>
<rect x="438.18" y="90.2" width="7.235" height="7.15" fill="#e28169"/>
<rect x="445.41" y="90.2" width="7.235" height="7.15" fill="#e28169"/>
<rect x="452.64" y="90.2" width="7.235" height="7.15" fill="#efa383"/>
<rect x="459.88" y="90.2" width="7.235" height="7.15" fill="#6e0822"/>
<rect x="467.12" y="90.2" width="7.235" height="7.15" fill="#f7c8b0"/>
<rect x="474.35" y="90.2" width="7.235" height="7.15" fill="#f8ccb6"/>
<rect x="481.59" y="90.2" width="7.235" height="7.15" fill="#f7d9c9"/>
<rect x="488.82" y="90.2" width="7.235" height="7.15" fill="#f2ded3"/>
<rect x="496.06" y="90.2" width="7.235" height="7.15" fill="#f2ded3"/>
<rect x="503.29" y="90.2" width="7.235" height="7.15" fill="#448cc8"/>
<rect x="510.52" y="90.2" width="7.235" height="7.15" fill="#448cc8"/>
<rect x="517.76" y="90.2" width="7.235" height="7.15" fill="#5198cd"/>
<rect x="525" y="90.2" width="7.235" height="7.15" fill="#326cb6"/>
<rect x="532.23" y="90.2" width="7.235" height="7.15" fill="#326cb6"/>
<rect x="539.47" y="90.2" width="7.235" height="7.15" fill="#3979bd"/>
<rect x="546.7" y="90.2" width="7.235" height="7.15" fill="#a0d0e5"/>
<rect x="553.93" y="90.2" width="7.235" height="7.15" fill="#448cc8"/>
<rect x="561.17" y="90.2" width="7.235" height="7.15" fill="#448cc8"/>
<rect x="568.4" y="90.2" width="7.235" height="7.15" fill="#579ecf"/>
<rect x="575.64" y="90.2" width="7.235" height="7.15" fill="#579ecf"/>
<rect x="582.88" y="90.2" width="7.235" height="7.15" fill="#e0e0e0"/>
<rect x="590.11" y="90.2" width="7.235" height="7.15" fill="#64aad4"/>
<rect x="597.35" y="90.2" width="7.235" height="7.15" fill="#5198cd"/>
<rect x="604.58" y="90.2" width="7.235" height="7.15" fill="#448cc8"/>
<rect x="402" y="97.35" width="7.235" height="7.15" fill="#efa383"/>
<rect x="409.24" y="97.35" width="7.235" height="7.15" fill="#d45f50"/>
<rect x="416.47" y="97.35" width="7.235" height="7.15" fill="#d45f50"/>
<rect x="423.7" y="97.35" width="7.235" height="7.15" fill="#d45f50"/>
<rect x="430.94" y="97.35" width="7.235" height="7.15" fill="#d45f50"/>
<rect x="438.18" y="97.35" width="7.235" height="7.15" fill="#e28169"/>
<rect x="445.41" y="97.35" width="7.235" height="7.15" fill="#d45f50"/>
<rect x="452.64" y="97.35" width="7.235" height="7.15" fill="#d45f50"/>
<rect x="459.88" y="97.35" width="7.235" height="7.15" fill="#f7c8b0"/>
<rect x="467.12" y="97.35" width="7.235" height="7.15" fill="#6e0822"/>
<rect x="474.35" y="97.35" width="7.235" height="7.15" fill="#d45f50"/>
<rect x="481.59" y="97.35" width="7.235" height="7.15" fill="#e28169"/>
<rect x="488.82" y="97.35" width="7.235" height="7.15" fill="#e28169"/>
<rect x="496.06" y="97.35" width="7.235" height="7.15" fill="#d45f50"/>
<rect x="503.29" y="97.35" width="7.235" height="7.15" fill="#2a5ea8"/>
<rect x="510.52" y="97.35" width="7.235" height="7.15" fill="#2c62ac"/>
<rect x="517.76" y="97.35" width="7.235" height="7.15" fill="#1a3670"/>
<rect x="525" y="97.35" width="7.235" height="7.15" fill="#204789"/>
<rect x="532.23" y="97.35" width="7.235" height="7.15" fill="#1c3a77"/>
<rect x="539.47" y="97.35" width="7.235" height="7.15" fill="#204789"/>
<rect x="546.7" y="97.35" width="7.235" height="7.15" fill="#326cb6"/>
<rect x="553.93" y="97.35" width="7.235" height="7.15" fill="#326cb6"/>
<rect x="561.17" y="97.35" width="7.235" height="7.15" fill="#448cc8"/>
<rect x="568.4" y="97.35" width="7.235" height="7.15" fill="#326cb6"/>
<rect x="575.64" y="97.35" width="7.235" height="7.15" fill="#3979bd"/>
<rect x="582.88" y="97.35" width="7.235" height="7.15" fill="#e0e0e0"/>
<rect x="590.11" y="97.35" width="7.235" height="7.15" fill="#fad6c2"/>
<rect x="597.35" y="97.35" width="7.235" height="7.15" fill="#7cb9db"/>
<rect x="604.58" y="97.35" width="7.235" height="7.15" fill="#579ecf"/>
<rect x="402" y="104.5" width="7.235" height="7.15" fill="#fad6c2"/>
<rect x="409.24" y="104.5" width="7.235" height="7.15" fill="#efa383"/>
<rect x="416.47" y="104.5" width="7.235" height="7.15" fill="#efa383"/>
<rect x="423.7" y="104.5" width="7.235" height="7.15" fill="#e28169"/>
<rect x="430.94" y="104.5" width="7.235" height="7.15" fill="#e28169"/>
<rect x="438.18" y="104.5" width="7.235" height="7.15" fill="#efa383"/>
<rect x="445.41" y="104.5" width="7.235" height="7.15" fill="#e28169"/>
<rect x="452.64" y="104.5" width="7.235" height="7.15" fill="#e28169"/>
<rect x="459.88" y="104.5" width="7.235" height="7.15" fill="#f8ccb6"/>
<rect x="467.12" y="104.5" width="7.235" height="7.15" fill="#d45f50"/>
<rect x="474.35" y="104.5" width="7.235" height="7.15" fill="#6e0822"/>
<rect x="481.59" y="104.5" width="7.235" height="7.15" fill="#e28169"/>
<rect x="488.82" y="104.5" width="7.235" height="7.15" fill="#e28169"/>
<rect x="496.06" y="104.5" width="7.235" height="7.15" fill="#e28169"/>
<rect x="503.29" y="104.5" width="7.235" height="7.15" fill="#326cb6"/>
<rect x="510.52" y="104.5" width="7.235" height="7.15" fill="#326cb6"/>
<rect x="517.76" y="104.5" width="7.235" height="7.15" fill="#2a5ea8"/>
<rect x="525" y="104.5" width="7.235" height="7.15" fill="#204789"/>
<rect x="532.23" y="104.5" width="7.235" height="7.15" fill="#1c3a77"/>
<rect x="539.47" y="104.5" width="7.235" height="7.15" fill="#204789"/>
<rect x="546.7" y="104.5" width="7.235" height="7.15" fill="#326cb6"/>
<rect x="553.93" y="104.5" width="7.235" height="7.15" fill="#3979bd"/>
<rect x="561.17" y="104.5" width="7.235" height="7.15" fill="#448cc8"/>
<rect x="568.4" y="104.5" width="7.235" height="7.15" fill="#3979bd"/>
<rect x="575.64" y="104.5" width="7.235" height="7.15" fill="#448cc8"/>
<rect x="582.88" y="104.5" width="7.235" height="7.15" fill="#e0e0e0"/>
<rect x="590.11" y="104.5" width="7.235" height="7.15" fill="#a0d0e5"/>
<rect x="597.35" y="104.5" width="7.235" height="7.15" fill="#afd5e6"/>
<rect x="604.58" y="104.5" width="7.235" height="7.15" fill="#a0d0e5"/>
<rect x="402" y="111.65" width="7.235" height="7.15" fill="#f5dbcc"/>
<rect x="409.24" y="111.65" width="7.235" height="7.15" fill="#f5bea4"/>
<rect x="416.47" y="111.65" width="7.235" height="7.15" fill="#f5bea4"/>
<rect x="423.7" y="111.65" width="7.235" height="7.15" fill="#efa383"/>
<rect x="430.94" y="111.65" width="7.235" height="7.15" fill="#efa383"/>
<rect x="438.18" y="111.65" width="7.235" height="7.15" fill="#f5bea4"/>
<rect x="445.41" y="111.65" width="7.235" height="7.15" fill="#efa383"/>
<rect x="452.64" y="111.65" width="7.235" height="7.15" fill="#e28169"/>
<rect x="459.88" y="111.65" width="7.235" height="7.15" fill="#f7d9c9"/>
<rect x="467.12" y="111.65" width="7.235" height="7.15" fill="#e28169"/>
<rect x="474.35" y="111.65" width="7.235" height="7.15" fill="#e28169"/>
<rect x="481.59" y="111.65" width="7.235" height="7.15" fill="#6e0822"/>
<rect x="488.82" y="111.65" width="7.235" height="7.15" fill="#e28169"/>
<rect x="496.06" y="111.65" width="7.235" height="7.15" fill="#e28169"/>
<rect x="503.29" y="111.65" width="7.235" height="7.15" fill="#3979bd"/>
<rect x="510.52" y="111.65" width="7.235" height="7.15" fill="#3979bd"/>
<rect x="517.76" y="111.65" width="7.235" height="7.15" fill="#2a5ea8"/>
<rect x="525" y="111.65" width="7.235" height="7.15" fill="#2c62ac"/>
<rect x="532.23" y="111.65" width="7.235" height="7.15" fill="#204789"/>
<rect x="539.47" y="111.65" width="7.235" height="7.15" fill="#2c62ac"/>
<rect x="546.7" y="111.65" width="7.235" height="7.15" fill="#2a5ea8"/>
<rect x="553.93" y="111.65" width="7.235" height="7.15" fill="#5198cd"/>
<rect x="561.17" y="111.65" width="7.235" height="7.15" fill="#64aad4"/>
<rect x="568.4" y="111.65" width="7.235" height="7.15" fill="#448cc8"/>
<rect x="575.64" y="111.65" width="7.235" height="7.15" fill="#64aad4"/>
<rect x="582.88" y="111.65" width="7.235" height="7.15" fill="#f5dbcc"/>
<rect x="590.11" y="111.65" width="7.235" height="7.15" fill="#afd5e6"/>
<rect x="597.35" y="111.65" width="7.235" height="7.15" fill="#e0e0e0"/>
<rect x="604.58" y="111.65" width="7.235" height="7.15" fill="#f5bea4"/>
<rect x="402" y="118.8" width="7.235" height="7.15" fill="#f5bea4"/>
<rect x="409.24" y="118.8" width="7.235" height="7.15" fill="#e28169"/>
<rect x="416.47" y="118.8" width="7.235" height="7.15" fill="#e28169"/>
<rect x="423.7" y="118.8" width="7.235" height="7.15" fill="#e28169"/>
<rect x="430.94" y="118.8" width="7.235" height="7.15" fill="#e28169"/>
<rect x="438.18" y="118.8" width="7.235" height="7.15" fill="#f5bea4"/>
<rect x="445.41" y="118.8" width="7.235" height="7.15" fill="#efa383"/>
<rect x="452.64" y="118.8" width="7.235" height="7.15" fill="#e28169"/>
<rect x="459.88" y="118.8" width="7.235" height="7.15" fill="#f2ded3"/>
<rect x="467.12" y="118.8" width="7.235" height="7.15" fill="#e28169"/>
<rect x="474.35" y="118.8" width="7.235" height="7.15" fill="#e28169"/>
<rect x="481.59" y="118.8" width="7.235" height="7.15" fill="#e28169"/>
<rect x="488.82" y="118.8" width="7.235" height="7.15" fill="#6e0822"/>
<rect x="496.06" y="118.8" width="7.235" height="7.15" fill="#d45f50"/>
<rect x="503.29" y="118.8" width="7.235" height="7.15" fill="#3979bd"/>
<rect x="510.52" y="118.8" width="7.235" height="7.15" fill="#3979bd"/>
<rect x="517.76" y="118.8" width="7.235" height="7.15" fill="#326cb6"/>
<rect x="525" y="118.8" width="7.235" height="7.15" fill="#3979bd"/>
<rect x="532.23" y="118.8" width="7.235" height="7.15" fill="#2c62ac"/>
<rect x="539.47" y="118.8" width="7.235" height="7.15" fill="#326cb6"/>
<rect x="546.7" y="118.8" width="7.235" height="7.15" fill="#579ecf"/>
<rect x="553.93" y="118.8" width="7.235" height="7.15" fill="#579ecf"/>
<rect x="561.17" y="118.8" width="7.235" height="7.15" fill="#579ecf"/>
<rect x="568.4" y="118.8" width="7.235" height="7.15" fill="#579ecf"/>
<rect x="575.64" y="118.8" width="7.235" height="7.15" fill="#579ecf"/>
<rect x="582.88" y="118.8" width="7.235" height="7.15" fill="#c6dce8"/>
<rect x="590.11" y="118.8" width="7.235" height="7.15" fill="#afd5e6"/>
<rect x="597.35" y="118.8" width="7.235" height="7.15" fill="#afd5e6"/>
<rect x="604.58" y="118.8" width="7.235" height="7.15" fill="#a0d0e5"/>
<rect x="402" y="125.95" width="7.235" height="7.15" fill="#f5bea4"/>
<rect x="409.24" y="125.95" width="7.235" height="7.15" fill="#e28169"/>
<rect x="416.47" y="125.95" width="7.235" height="7.15" fill="#e28169"/>
<rect x="423.7" y="125.95" width="7.235" height="7.15" fill="#e28169"/>
<rect x="430.94" y="125.95" width="7.235" height="7.15" fill="#d45f50"/>
<rect x="438.18" y="125.95" width="7.235" height="7.15" fill="#ece0d8"/>
<rect x="445.41" y="125.95" width="7.235" height="7.15" fill="#fad6c2"/>
<rect x="452.64" y="125.95" width="7.235" height="7.15" fill="#efa383"/>
<rect x="459.88" y="125.95" width="7.235" height="7.15" fill="#f2ded3"/>
<rect x="467.12" y="125.95" width="7.235" height="7.15" fill="#d45f50"/>
<rect x="474.35" y="125.95" width="7.235" height="7.15" fill="#e28169"/>
<rect x="481.59" y="125.95" width="7.235" height="7.15" fill="#e28169"/>
<rect x="488.82" y="125.95" width="7.235" height="7.15" fill="#d45f50"/>
<rect x="496.06" y="125.95" width="7.235" height="7.15" fill="#6e0822"/>
<rect x="503.29" y="125.95" width="7.235" height="7.15" fill="#448cc8"/>
<rect x="510.52" y="125.95" width="7.235" height="7.15" fill="#448cc8"/>
<rect x="517.76" y="125.95" width="7.235" height="7.15" fill="#3979bd"/>
<rect x="525" y="125.95" width="7.235" height="7.15" fill="#448cc8"/>
<rect x="532.23" y="125.95" width="7.235" height="7.15" fill="#326cb6"/>
<rect x="539.47" y="125.95" width="7.235" height="7.15" fill="#3979bd"/>
<rect x="546.7" y="125.95" width="7.235" height="7.15" fill="#64aad4"/>
<rect x="553.93" y="125.95" width="7.235" height="7.15" fill="#5198cd"/>
<rect x="561.17" y="125.95" width="7.235" height="7.15" fill="#64aad4"/>
<rect x="568.4" y="125.95" width="7.235" height="7.15" fill="#64aad4"/>
<rect x="575.64" y="125.95" width="7.235" height="7.15" fill="#64aad4"/>
<rect x="582.88" y="125.95" width="7.235" height="7.15" fill="#d2dee6"/>
<rect x="590.11" y="125.95" width="7.235" height="7.15" fill="#d2dee6"/>
<rect x="597.35" y="125.95" width="7.235" height="7.15" fill="#e8e0db"/>
<rect x="604.58" y="125.95" width="7.235" height="7.15" fill="#e8e0db"/>
<rect x="402" y="133.1" width="7.235" height="7.15" fill="#3979bd"/>
<rect x="409.24" y="133.1" width="7.235" height="7.15" fill="#172e64"/>
<rect x="416.47" y="133.1" width="7.235" height="7.15" fill="#1a3670"/>
<rect x="423.7" y="133.1" width="7.235" height="7.15" fill="#204789"/>
<rect x="430.94" y="133.1" width="7.235" height="7.15" fill="#1a3670"/>
<rect x="438.18" y="133.1" width="7.235" height="7.15" fill="#2a5ea8"/>
<rect x="445.41" y="133.1" width="7.235" height="7.15" fill="#2a5ea8"/>
<rect x="452.64" y="133.1" width="7.235" height="7.15" fill="#2c62ac"/>
<rect x="459.88" y="133.1" width="7.235" height="7.15" fill="#448cc8"/>
<rect x="467.12" y="133.1" width="7.235" height="7.15" fill="#2a5ea8"/>
<rect x="474.35" y="133.1" width="7.235" height="7.15" fill="#326cb6"/>
<rect x="481.59" y="133.1" width="7.235" height="7.15" fill="#3979bd"/>
<rect x="488.82" y="133.1" width="7.235" height="7.15" fill="#3979bd"/>
<rect x="496.06" y="133.1" width="7.235" height="7.15" fill="#448cc8"/>
<rect x="503.29" y="133.1" width="7.235" height="7.15" fill="#6e0822"/>
<rect x="510.52" y="133.1" width="7.235" height="7.15" fill="#b62130"/>
<rect x="517.76" y="133.1" width="7.235" height="7.15" fill="#c74342"/>
<rect x="525" y="133.1" width="7.235" height="7.15" fill="#c74342"/>
<rect x="532.23" y="133.1" width="7.235" height="7.15" fill="#b62130"/>
<rect x="539.47" y="133.1" width="7.235" height="7.15" fill="#b62130"/>
<rect x="546.7" y="133.1" width="7.235" height="7.15" fill="#d66252"/>
<rect x="553.93" y="133.1" width="7.235" height="7.15" fill="#cf544b"/>
<rect x="561.17" y="133.1" width="7.235" height="7.15" fill="#de7662"/>
<rect x="568.4" y="133.1" width="7.235" height="7.15" fill="#cf544b"/>
<rect x="575.64" y="133.1" width="7.235" height="7.15" fill="#cf544b"/>
<rect x="582.88" y="133.1" width="7.235" height="7.15" fill="#fad6c2"/>
<rect x="590.11" y="133.1" width="7.235" height="7.15" fill="#de7662"/>
<rect x="597.35" y="133.1" width="7.235" height="7.15" fill="#de7662"/>
<rect x="604.58" y="133.1" width="7.235" height="7.15" fill="#d66252"/>
<rect x="402" y="140.25" width="7.235" height="7.15" fill="#5198cd"/>
<rect x="409.24" y="140.25" width="7.235" height="7.15" fill="#1a3670"/>
<rect x="416.47" y="140.25" width="7.235" height="7.15" fill="#204789"/>
<rect x="423.7" y="140.25" width="7.235" height="7.15" fill="#2c62ac"/>
<rect x="430.94" y="140.25" width="7.235" height="7.15" fill="#1a3670"/>
<rect x="438.18" y="140.25" width="7.235" height="7.15" fill="#2c62ac"/>
<rect x="445.41" y="140.25" width="7.235" height="7.15" fill="#2a5ea8"/>
<rect x="452.64" y="140.25" width="7.235" height="7.15" fill="#326cb6"/>
<rect x="459.88" y="140.25" width="7.235" height="7.15" fill="#448cc8"/>
<rect x="467.12" y="140.25" width="7.235" height="7.15" fill="#2c62ac"/>
<rect x="474.35" y="140.25" width="7.235" height="7.15" fill="#326cb6"/>
<rect x="481.59" y="140.25" width="7.235" height="7.15" fill="#3979bd"/>
<rect x="488.82" y="140.25" width="7.235" height="7.15" fill="#3979bd"/>
<rect x="496.06" y="140.25" width="7.235" height="7.15" fill="#448cc8"/>
<rect x="503.29" y="140.25" width="7.235" height="7.15" fill="#b62130"/>
<rect x="510.52" y="140.25" width="7.235" height="7.15" fill="#6e0822"/>
<rect x="517.76" y="140.25" width="7.235" height="7.15" fill="#c74342"/>
<rect x="525" y="140.25" width="7.235" height="7.15" fill="#c74342"/>
<rect x="532.23" y="140.25" width="7.235" height="7.15" fill="#b62130"/>
<rect x="539.47" y="140.25" width="7.235" height="7.15" fill="#b62130"/>
<rect x="546.7" y="140.25" width="7.235" height="7.15" fill="#d66252"/>
<rect x="553.93" y="140.25" width="7.235" height="7.15" fill="#cf544b"/>
<rect x="561.17" y="140.25" width="7.235" height="7.15" fill="#de7662"/>
<rect x="568.4" y="140.25" width="7.235" height="7.15" fill="#cf544b"/>
<rect x="575.64" y="140.25" width="7.235" height="7.15" fill="#cf544b"/>
<rect x="582.88" y="140.25" width="7.235" height="7.15" fill="#eb987c"/>
<rect x="590.11" y="140.25" width="7.235" height="7.15" fill="#cf544b"/>
<rect x="597.35" y="140.25" width="7.235" height="7.15" fill="#de7662"/>
<rect x="604.58" y="140.25" width="7.235" height="7.15" fill="#cf544b"/>
<rect x="402" y="147.4" width="7.235" height="7.15" fill="#3979bd"/>
<rect x="409.24" y="147.4" width="7.235" height="7.15" fill="#1a3670"/>
<rect x="416.47" y="147.4" width="7.235" height="7.15" fill="#204789"/>
<rect x="423.7" y="147.4" width="7.235" height="7.15" fill="#204789"/>
<rect x="430.94" y="147.4" width="7.235" height="7.15" fill="#172e64"/>
<rect x="438.18" y="147.4" width="7.235" height="7.15" fill="#3979bd"/>
<rect x="445.41" y="147.4" width="7.235" height="7.15" fill="#2a5ea8"/>
<rect x="452.64" y="147.4" width="7.235" height="7.15" fill="#326cb6"/>
<rect x="459.88" y="147.4" width="7.235" height="7.15" fill="#5198cd"/>
<rect x="467.12" y="147.4" width="7.235" height="7.15" fill="#1a3670"/>
<rect x="474.35" y="147.4" width="7.235" height="7.15" fill="#2a5ea8"/>
<rect x="481.59" y="147.4" width="7.235" height="7.15" fill="#2a5ea8"/>
<rect x="488.82" y="147.4" width="7.235" height="7.15" fill="#326cb6"/>
<rect x="496.06" y="147.4" width="7.235" height="7.15" fill="#3979bd"/>
<rect x="503.29" y="147.4" width="7.235" height="7.15" fill="#c74342"/>
<rect x="510.52" y="147.4" width="7.235" height="7.15" fill="#c74342"/>
<rect x="517.76" y="147.4" width="7.235" height="7.15" fill="#6e0822"/>
<rect x="525" y="147.4" width="7.235" height="7.15" fill="#c74342"/>
<rect x="532.23" y="147.4" width="7.235" height="7.15" fill="#c0363b"/>
<rect x="539.47" y="147.4" width="7.235" height="7.15" fill="#b62130"/>
<rect x="546.7" y="147.4" width="7.235" height="7.15" fill="#de7662"/>
<rect x="553.93" y="147.4" width="7.235" height="7.15" fill="#de7662"/>
<rect x="561.17" y="147.4" width="7.235" height="7.15" fill="#eb987c"/>
<rect x="568.4" y="147.4" width="7.235" height="7.15" fill="#cf544b"/>
<rect x="575.64" y="147.4" width="7.235" height="7.15" fill="#cf544b"/>
<rect x="582.88" y="147.4" width="7.235" height="7.15" fill="#d2dee6"/>
<rect x="590.11" y="147.4" width="7.235" height="7.15" fill="#f5bea4"/>
<rect x="597.35" y="147.4" width="7.235" height="7.15" fill="#f7d9c9"/>
<rect x="604.58" y="147.4" width="7.235" height="7.15" fill="#eb987c"/>
<rect x="402" y="154.55" width="7.235" height="7.15" fill="#448cc8"/>
<rect x="409.24" y="154.55" width="7.235" height="7.15" fill="#204789"/>
<rect x="416.47" y="154.55" width="7.235" height="7.15" fill="#2c62ac"/>
<rect x="423.7" y="154.55" width="7.235" height="7.15" fill="#204789"/>
<rect x="430.94" y="154.55" width="7.235" height="7.15" fill="#204789"/>
<rect x="438.18" y="154.55" width="7.235" height="7.15" fill="#3979bd"/>
<rect x="445.41" y="154.55" width="7.235" height="7.15" fill="#2a5ea8"/>
<rect x="452.64" y="154.55" width="7.235" height="7.15" fill="#2a5ea8"/>
<rect x="459.88" y="154.55" width="7.235" height="7.15" fill="#326cb6"/>
<rect x="467.12" y="154.55" width="7.235" height="7.15" fill="#204789"/>
<rect x="474.35" y="154.55" width="7.235" height="7.15" fill="#204789"/>
<rect x="481.59" y="154.55" width="7.235" height="7.15" fill="#2c62ac"/>
<rect x="488.82" y="154.55" width="7.235" height="7.15" fill="#3979bd"/>
<rect x="496.06" y="154.55" width="7.235" height="7.15" fill="#448cc8"/>
<rect x="503.29" y="154.55" width="7.235" height="7.15" fill="#c74342"/>
<rect x="510.52" y="154.55" width="7.235" height="7.15" fill="#c74342"/>
<rect x="517.76" y="154.55" width="7.235" height="7.15" fill="#c74342"/>
<rect x="525" y="154.55" width="7.235" height="7.15" fill="#6e0822"/>
<rect x="532.23" y="154.55" width="7.235" height="7.15" fill="#941429"/>
<rect x="539.47" y="154.55" width="7.235" height="7.15" fill="#a2182b"/>
<rect x="546.7" y="154.55" width="7.235" height="7.15" fill="#d96957"/>
<rect x="553.93" y="154.55" width="7.235" height="7.15" fill="#d96957"/>
<rect x="561.17" y="154.55" width="7.235" height="7.15" fill="#de7662"/>
<rect x="568.4" y="154.55" width="7.235" height="7.15" fill="#cf544b"/>
<rect x="575.64" y="154.55" width="7.235" height="7.15" fill="#d66252"/>
<rect x="582.88" y="154.55" width="7.235" height="7.15" fill="#c6dce8"/>
<rect x="590.11" y="154.55" width="7.235" height="7.15" fill="#f5bea4"/>
<rect x="597.35" y="154.55" width="7.235" height="7.15" fill="#eb987c"/>
<rect x="604.58" y="154.55" width="7.235" height="7.15" fill="#e3846c"/>
<rect x="402" y="161.7" width="7.235" height="7.15" fill="#3d7fc1"/>
<rect x="409.24" y="161.7" width="7.235" height="7.15" fill="#1a3670"/>
<rect x="416.47" y="161.7" width="7.235" height="7.15" fill="#204789"/>
<rect x="423.7" y="161.7" width="7.235" height="7.15" fill="#172e64"/>
<rect x="430.94" y="161.7" width="7.235" height="7.15" fill="#172e64"/>
<rect x="438.18" y="161.7" width="7.235" height="7.15" fill="#326cb6"/>
<rect x="445.41" y="161.7" width="7.235" height="7.15" fill="#204789"/>
<rect x="452.64" y="161.7" width="7.235" height="7.15" fill="#204789"/>
<rect x="459.88" y="161.7" width="7.235" height="7.15" fill="#326cb6"/>
<rect x="467.12" y="161.7" width="7.235" height="7.15" fill="#1c3a77"/>
<rect x="474.35" y="161.7" width="7.235" height="7.15" fill="#1c3a77"/>
<rect x="481.59" y="161.7" width="7.235" height="7.15" fill="#204789"/>
<rect x="488.82" y="161.7" width="7.235" height="7.15" fill="#2c62ac"/>
<rect x="496.06" y="161.7" width="7.235" height="7.15" fill="#326cb6"/>
<rect x="503.29" y="161.7" width="7.235" height="7.15" fill="#b62130"/>
<rect x="510.52" y="161.7" width="7.235" height="7.15" fill="#b62130"/>
<rect x="517.76" y="161.7" width="7.235" height="7.15" fill="#b62130"/>
<rect x="525" y="161.7" width="7.235" height="7.15" fill="#941429"/>
<rect x="532.23" y="161.7" width="7.235" height="7.15" fill="#6e0822"/>
<rect x="539.47" y="161.7" width="7.235" height="7.15" fill="#830f26"/>
<rect x="546.7" y="161.7" width="7.235" height="7.15" fill="#c54040"/>
<rect x="553.93" y="161.7" width="7.235" height="7.15" fill="#cf544b"/>
<rect x="561.17" y="161.7" width="7.235" height="7.15" fill="#cf544b"/>
<rect x="568.4" y="161.7" width="7.235" height="7.15" fill="#be3239"/>
<rect x="575.64" y="161.7" width="7.235" height="7.15" fill="#c84744"/>
<rect x="582.88" y="161.7" width="7.235" height="7.15" fill="#f2ded3"/>
<rect x="590.11" y="161.7" width="7.235" height="7.15" fill="#f5bea4"/>
<rect x="597.35" y="161.7" width="7.235" height="7.15" fill="#eb987c"/>
<rect x="604.58" y="161.7" width="7.235" height="7.15" fill="#de7662"/>
<rect x="402" y="168.85" width="7.235" height="7.15" fill="#326cb6"/>
<rect x="409.24" y="168.85" width="7.235" height="7.15" fill="#172e64"/>
<rect x="416.47" y="168.85" width="7.235" height="7.15" fill="#172e64"/>
<rect x="423.7" y="168.85" width="7.235" height="7.15" fill="#172e64"/>
<rect x="430.94" y="168.85" width="7.235" height="7.15" fill="#172e64"/>
<rect x="438.18" y="168.85" width="7.235" height="7.15" fill="#326cb6"/>
<rect x="445.41" y="168.85" width="7.235" height="7.15" fill="#204789"/>
<rect x="452.64" y="168.85" width="7.235" height="7.15" fill="#2c62ac"/>
<rect x="459.88" y="168.85" width="7.235" height="7.15" fill="#3979bd"/>
<rect x="467.12" y="168.85" width="7.235" height="7.15" fill="#204789"/>
<rect x="474.35" y="168.85" width="7.235" height="7.15" fill="#204789"/>
<rect x="481.59" y="168.85" width="7.235" height="7.15" fill="#2c62ac"/>
<rect x="488.82" y="168.85" width="7.235" height="7.15" fill="#326cb6"/>
<rect x="496.06" y="168.85" width="7.235" height="7.15" fill="#3979bd"/>
<rect x="503.29" y="168.85" width="7.235" height="7.15" fill="#b62130"/>
<rect x="510.52" y="168.85" width="7.235" height="7.15" fill="#a91b2c"/>
<rect x="517.76" y="168.85" width="7.235" height="7.15" fill="#a91b2c"/>
<rect x="525" y="168.85" width="7.235" height="7.15" fill="#a2182b"/>
<rect x="532.23" y="168.85" width="7.235" height="7.15" fill="#830f26"/>
<rect x="539.47" y="168.85" width="7.235" height="7.15" fill="#6e0822"/>
<rect x="546.7" y="168.85" width="7.235" height="7.15" fill="#c54040"/>
<rect x="553.93" y="168.85" width="7.235" height="7.15" fill="#cf544b"/>
<rect x="561.17" y="168.85" width="7.235" height="7.15" fill="#cf544b"/>
<rect x="568.4" y="168.85" width="7.235" height="7.15" fill="#c54040"/>
<rect x="575.64" y="168.85" width="7.235" height="7.15" fill="#c54040"/>
<rect x="582.88" y="168.85" width="7.235" height="7.15" fill="#fad6c2"/>
<rect x="590.11" y="168.85" width="7.235" height="7.15" fill="#de7662"/>
<rect x="597.35" y="168.85" width="7.235" height="7.15" fill="#de7662"/>
<rect x="604.58" y="168.85" width="7.235" height="7.15" fill="#de7662"/>
<rect x="402" y="176" width="7.235" height="7.15" fill="#a0d0e5"/>
<rect x="409.24" y="176" width="7.235" height="7.15" fill="#579ecf"/>
<rect x="416.47" y="176" width="7.235" height="7.15" fill="#64aad4"/>
<rect x="423.7" y="176" width="7.235" height="7.15" fill="#88c1de"/>
<rect x="430.94" y="176" width="7.235" height="7.15" fill="#579ecf"/>
<rect x="438.18" y="176" width="7.235" height="7.15" fill="#3979bd"/>
<rect x="445.41" y="176" width="7.235" height="7.15" fill="#448cc8"/>
<rect x="452.64" y="176" width="7.235" height="7.15" fill="#448cc8"/>
<rect x="459.88" y="176" width="7.235" height="7.15" fill="#a0d0e5"/>
<rect x="467.12" y="176" width="7.235" height="7.15" fill="#326cb6"/>
<rect x="474.35" y="176" width="7.235" height="7.15" fill="#326cb6"/>
<rect x="481.59" y="176" width="7.235" height="7.15" fill="#2a5ea8"/>
<rect x="488.82" y="176" width="7.235" height="7.15" fill="#579ecf"/>
<rect x="496.06" y="176" width="7.235" height="7.15" fill="#64aad4"/>
<rect x="503.29" y="176" width="7.235" height="7.15" fill="#d66252"/>
<rect x="510.52" y="176" width="7.235" height="7.15" fill="#d66252"/>
<rect x="517.76" y="176" width="7.235" height="7.15" fill="#de7662"/>
<rect x="525" y="176" width="7.235" height="7.15" fill="#d96957"/>
<rect x="532.23" y="176" width="7.235" height="7.15" fill="#cf544b"/>
<rect x="539.47" y="176" width="7.235" height="7.15" fill="#cf544b"/>
<rect x="546.7" y="176" width="7.235" height="7.15" fill="#6e0822"/>
<rect x="553.93" y="176" width="7.235" height="7.15" fill="#eb987c"/>
<rect x="561.17" y="176" width="7.235" height="7.15" fill="#f8ccb6"/>
<rect x="568.4" y="176" width="7.235" height="7.15" fill="#d96957"/>
<rect x="575.64" y="176" width="7.235" height="7.15" fill="#d96957"/>
<rect x="582.88" y="176" width="7.235" height="7.15" fill="#e8e0db"/>
<rect x="590.11" y="176" width="7.235" height="7.15" fill="#f2b092"/>
<rect x="597.35" y="176" width="7.235" height="7.15" fill="#f5bea4"/>
<rect x="604.58" y="176" width="7.235" height="7.15" fill="#f5bea4"/>
<rect x="402" y="183.15" width="7.235" height="7.15" fill="#3979bd"/>
<rect x="409.24" y="183.15" width="7.235" height="7.15" fill="#2c62ac"/>
<rect x="416.47" y="183.15" width="7.235" height="7.15" fill="#2c62ac"/>
<rect x="423.7" y="183.15" width="7.235" height="7.15" fill="#326cb6"/>
<rect x="430.94" y="183.15" width="7.235" height="7.15" fill="#326cb6"/>
<rect x="438.18" y="183.15" width="7.235" height="7.15" fill="#3979bd"/>
<rect x="445.41" y="183.15" width="7.235" height="7.15" fill="#448cc8"/>
<rect x="452.64" y="183.15" width="7.235" height="7.15" fill="#448cc8"/>
<rect x="459.88" y="183.15" width="7.235" height="7.15" fill="#448cc8"/>
<rect x="467.12" y="183.15" width="7.235" height="7.15" fill="#326cb6"/>
<rect x="474.35" y="183.15" width="7.235" height="7.15" fill="#3979bd"/>
<rect x="481.59" y="183.15" width="7.235" height="7.15" fill="#5198cd"/>
<rect x="488.82" y="183.15" width="7.235" height="7.15" fill="#579ecf"/>
<rect x="496.06" y="183.15" width="7.235" height="7.15" fill="#5198cd"/>
<rect x="503.29" y="183.15" width="7.235" height="7.15" fill="#cf544b"/>
<rect x="510.52" y="183.15" width="7.235" height="7.15" fill="#cf544b"/>
<rect x="517.76" y="183.15" width="7.235" height="7.15" fill="#d96957"/>
<rect x="525" y="183.15" width="7.235" height="7.15" fill="#d66252"/>
<rect x="532.23" y="183.15" width="7.235" height="7.15" fill="#cf544b"/>
<rect x="539.47" y="183.15" width="7.235" height="7.15" fill="#cf544b"/>
<rect x="546.7" y="183.15" width="7.235" height="7.15" fill="#eb987c"/>
<rect x="553.93" y="183.15" width="7.235" height="7.15" fill="#6e0822"/>
<rect x="561.17" y="183.15" width="7.235" height="7.15" fill="#de7662"/>
<rect x="568.4" y="183.15" width="7.235" height="7.15" fill="#cf544b"/>
<rect x="575.64" y="183.15" width="7.235" height="7.15" fill="#cf544b"/>
<rect x="582.88" y="183.15" width="7.235" height="7.15" fill="#eb987c"/>
<rect x="590.11" y="183.15" width="7.235" height="7.15" fill="#eb987c"/>
<rect x="597.35" y="183.15" width="7.235" height="7.15" fill="#f2b092"/>
<rect x="604.58" y="183.15" width="7.235" height="7.15" fill="#d96957"/>
<rect x="402" y="190.3" width="7.235" height="7.15" fill="#5198cd"/>
<rect x="409.24" y="190.3" width="7.235" height="7.15" fill="#326cb6"/>
<rect x="416.47" y="190.3" width="7.235" height="7.15" fill="#326cb6"/>
<rect x="423.7" y="190.3" width="7.235" height="7.15" fill="#3979bd"/>
<rect x="430.94" y="190.3" width="7.235" height="7.15" fill="#326cb6"/>
<rect x="438.18" y="190.3" width="7.235" height="7.15" fill="#3979bd"/>
<rect x="445.41" y="190.3" width="7.235" height="7.15" fill="#2a5ea8"/>
<rect x="452.64" y="190.3" width="7.235" height="7.15" fill="#448cc8"/>
<rect x="459.88" y="190.3" width="7.235" height="7.15" fill="#448cc8"/>
<rect x="467.12" y="190.3" width="7.235" height="7.15" fill="#448cc8"/>
<rect x="474.35" y="190.3" width="7.235" height="7.15" fill="#448cc8"/>
<rect x="481.59" y="190.3" width="7.235" height="7.15" fill="#64aad4"/>
<rect x="488.82" y="190.3" width="7.235" height="7.15" fill="#579ecf"/>
<rect x="496.06" y="190.3" width="7.235" height="7.15" fill="#64aad4"/>
<rect x="503.29" y="190.3" width="7.235" height="7.15" fill="#de7662"/>
<rect x="510.52" y="190.3" width="7.235" height="7.15" fill="#de7662"/>
<rect x="517.76" y="190.3" width="7.235" height="7.15" fill="#eb987c"/>
<rect x="525" y="190.3" width="7.235" height="7.15" fill="#e3846c"/>
<rect x="532.23" y="190.3" width="7.235" height="7.15" fill="#d66252"/>
<rect x="539.47" y="190.3" width="7.235" height="7.15" fill="#d66252"/>
<rect x="546.7" y="190.3" width="7.235" height="7.15" fill="#f8ccb6"/>
<rect x="553.93" y="190.3" width="7.235" height="7.15" fill="#de7662"/>
<rect x="561.17" y="190.3" width="7.235" height="7.15" fill="#6e0822"/>
<rect x="568.4" y="190.3" width="7.235" height="7.15" fill="#cf544b"/>
<rect x="575.64" y="190.3" width="7.235" height="7.15" fill="#d96957"/>
<rect x="582.88" y="190.3" width="7.235" height="7.15" fill="#e8e0db"/>
<rect x="590.11" y="190.3" width="7.235" height="7.15" fill="#f5bea4"/>
<rect x="597.35" y="190.3" width="7.235" height="7.15" fill="#eb987c"/>
<rect x="604.58" y="190.3" width="7.235" height="7.15" fill="#de7662"/>
<rect x="402" y="197.45" width="7.235" height="7.15" fill="#5198cd"/>
<rect x="409.24" y="197.45" width="7.235" height="7.15" fill="#2c62ac"/>
<rect x="416.47" y="197.45" width="7.235" height="7.15" fill="#326cb6"/>
<rect x="423.7" y="197.45" width="7.235" height="7.15" fill="#326cb6"/>
<rect x="430.94" y="197.45" width="7.235" height="7.15" fill="#326cb6"/>
<rect x="438.18" y="197.45" width="7.235" height="7.15" fill="#3979bd"/>
<rect x="445.41" y="197.45" width="7.235" height="7.15" fill="#326cb6"/>
<rect x="452.64" y="197.45" width="7.235" height="7.15" fill="#579ecf"/>
<rect x="459.88" y="197.45" width="7.235" height="7.15" fill="#579ecf"/>
<rect x="467.12" y="197.45" width="7.235" height="7.15" fill="#326cb6"/>
<rect x="474.35" y="197.45" width="7.235" height="7.15" fill="#3979bd"/>
<rect x="481.59" y="197.45" width="7.235" height="7.15" fill="#448cc8"/>
<rect x="488.82" y="197.45" width="7.235" height="7.15" fill="#579ecf"/>
<rect x="496.06" y="197.45" width="7.235" height="7.15" fill="#64aad4"/>
<rect x="503.29" y="197.45" width="7.235" height="7.15" fill="#cf544b"/>
<rect x="510.52" y="197.45" width="7.235" height="7.15" fill="#cf544b"/>
<rect x="517.76" y="197.45" width="7.235" height="7.15" fill="#cf544b"/>
<rect x="525" y="197.45" width="7.235" height="7.15" fill="#cf544b"/>
<rect x="532.23" y="197.45" width="7.235" height="7.15" fill="#be3239"/>
<rect x="539.47" y="197.45" width="7.235" height="7.15" fill="#c54040"/>
<rect x="546.7" y="197.45" width="7.235" height="7.15" fill="#d96957"/>
<rect x="553.93" y="197.45" width="7.235" height="7.15" fill="#cf544b"/>
<rect x="561.17" y="197.45" width="7.235" height="7.15" fill="#cf544b"/>
<rect x="568.4" y="197.45" width="7.235" height="7.15" fill="#6e0822"/>
<rect x="575.64" y="197.45" width="7.235" height="7.15" fill="#6e0822"/>
<rect x="582.88" y="197.45" width="7.235" height="7.15" fill="#fad6c2"/>
<rect x="590.11" y="197.45" width="7.235" height="7.15" fill="#eb987c"/>
<rect x="597.35" y="197.45" width="7.235" height="7.15" fill="#f2b092"/>
<rect x="604.58" y="197.45" width="7.235" height="7.15" fill="#d96957"/>
<rect x="402" y="204.6" width="7.235" height="7.15" fill="#5198cd"/>
<rect x="409.24" y="204.6" width="7.235" height="7.15" fill="#2c62ac"/>
<rect x="416.47" y="204.6" width="7.235" height="7.15" fill="#3979bd"/>
<rect x="423.7" y="204.6" width="7.235" height="7.15" fill="#326cb6"/>
<rect x="430.94" y="204.6" width="7.235" height="7.15" fill="#326cb6"/>
<rect x="438.18" y="204.6" width="7.235" height="7.15" fill="#448cc8"/>
<rect x="445.41" y="204.6" width="7.235" height="7.15" fill="#326cb6"/>
<rect x="452.64" y="204.6" width="7.235" height="7.15" fill="#579ecf"/>
<rect x="459.88" y="204.6" width="7.235" height="7.15" fill="#579ecf"/>
<rect x="467.12" y="204.6" width="7.235" height="7.15" fill="#3979bd"/>
<rect x="474.35" y="204.6" width="7.235" height="7.15" fill="#448cc8"/>
<rect x="481.59" y="204.6" width="7.235" height="7.15" fill="#64aad4"/>
<rect x="488.82" y="204.6" width="7.235" height="7.15" fill="#579ecf"/>
<rect x="496.06" y="204.6" width="7.235" height="7.15" fill="#64aad4"/>
<rect x="503.29" y="204.6" width="7.235" height="7.15" fill="#cf544b"/>
<rect x="510.52" y="204.6" width="7.235" height="7.15" fill="#cf544b"/>
<rect x="517.76" y="204.6" width="7.235" height="7.15" fill="#cf544b"/>
<rect x="525" y="204.6" width="7.235" height="7.15" fill="#d66252"/>
<rect x="532.23" y="204.6" width="7.235" height="7.15" fill="#c84744"/>
<rect x="539.47" y="204.6" width="7.235" height="7.15" fill="#c54040"/>
<rect x="546.7" y="204.6" width="7.235" height="7.15" fill="#d96957"/>
<rect x="553.93" y="204.6" width="7.235" height="7.15" fill="#cf544b"/>
<rect x="561.17" y="204.6" width="7.235" height="7.15" fill="#d96957"/>
<rect x="568.4" y="204.6" width="7.235" height="7.15" fill="#6e0822"/>
<rect x="575.64" y="204.6" width="7.235" height="7.15" fill="#6e0822"/>
<rect x="582.88" y="204.6" width="7.235" height="7.15" fill="#fad6c2"/>
<rect x="590.11" y="204.6" width="7.235" height="7.15" fill="#eb987c"/>
<rect x="597.35" y="204.6" width="7.235" height="7.15" fill="#e68b71"/>
<rect x="604.58" y="204.6" width="7.235" height="7.15" fill="#d96957"/>
<rect x="402" y="211.75" width="7.235" height="7.15" fill="#64aad4"/>
<rect x="409.24" y="211.75" width="7.235" height="7.15" fill="#64aad4"/>
<rect x="416.47" y="211.75" width="7.235" height="7.15" fill="#64aad4"/>
<rect x="423.7" y="211.75" width="7.235" height="7.15" fill="#afd5e6"/>
<rect x="430.94" y="211.75" width="7.235" height="7.15" fill="#7cb9db"/>
<rect x="438.18" y="211.75" width="7.235" height="7.15" fill="#579ecf"/>
<rect x="445.41" y="211.75" width="7.235" height="7.15" fill="#a0d0e5"/>
<rect x="452.64" y="211.75" width="7.235" height="7.15" fill="#a0d0e5"/>
<rect x="459.88" y="211.75" width="7.235" height="7.15" fill="#e0e0e0"/>
<rect x="467.12" y="211.75" width="7.235" height="7.15" fill="#e0e0e0"/>
<rect x="474.35" y="211.75" width="7.235" height="7.15" fill="#e0e0e0"/>
<rect x="481.59" y="211.75" width="7.235" height="7.15" fill="#f5dbcc"/>
<rect x="488.82" y="211.75" width="7.235" height="7.15" fill="#c6dce8"/>
<rect x="496.06" y="211.75" width="7.235" height="7.15" fill="#d2dee6"/>
<rect x="503.29" y="211.75" width="7.235" height="7.15" fill="#f5bea4"/>
<rect x="510.52" y="211.75" width="7.235" height="7.15" fill="#eb987c"/>
<rect x="517.76" y="211.75" width="7.235" height="7.15" fill="#d2dee6"/>
<rect x="525" y="211.75" width="7.235" height="7.15" fill="#c6dce8"/>
<rect x="532.23" y="211.75" width="7.235" height="7.15" fill="#f5dbcc"/>
<rect x="539.47" y="211.75" width="7.235" height="7.15" fill="#fad6c2"/>
<rect x="546.7" y="211.75" width="7.235" height="7.15" fill="#e8e0db"/>
<rect x="553.93" y="211.75" width="7.235" height="7.15" fill="#eb987c"/>
<rect x="561.17" y="211.75" width="7.235" height="7.15" fill="#e8e0db"/>
<rect x="568.4" y="211.75" width="7.235" height="7.15" fill="#fad6c2"/>
<rect x="575.64" y="211.75" width="7.235" height="7.15" fill="#fad6c2"/>
<rect x="582.88" y="211.75" width="7.235" height="7.15" fill="#6e0822"/>
<rect x="590.11" y="211.75" width="7.235" height="7.15" fill="#eb987c"/>
<rect x="597.35" y="211.75" width="7.235" height="7.15" fill="#eb987c"/>
<rect x="604.58" y="211.75" width="7.235" height="7.15" fill="#e68b71"/>
<rect x="402" y="218.9" width="7.235" height="7.15" fill="#a0d0e5"/>
<rect x="409.24" y="218.9" width="7.235" height="7.15" fill="#3d7fc1"/>
<rect x="416.47" y="218.9" width="7.235" height="7.15" fill="#448cc8"/>
<rect x="423.7" y="218.9" width="7.235" height="7.15" fill="#7cb9db"/>
<rect x="430.94" y="218.9" width="7.235" height="7.15" fill="#579ecf"/>
<rect x="438.18" y="218.9" width="7.235" height="7.15" fill="#448cc8"/>
<rect x="445.41" y="218.9" width="7.235" height="7.15" fill="#448cc8"/>
<rect x="452.64" y="218.9" width="7.235" height="7.15" fill="#448cc8"/>
<rect x="459.88" y="218.9" width="7.235" height="7.15" fill="#64aad4"/>
<rect x="467.12" y="218.9" width="7.235" height="7.15" fill="#fad6c2"/>
<rect x="474.35" y="218.9" width="7.235" height="7.15" fill="#a0d0e5"/>
<rect x="481.59" y="218.9" width="7.235" height="7.15" fill="#afd5e6"/>
<rect x="488.82" y="218.9" width="7.235" height="7.15" fill="#afd5e6"/>
<rect x="496.06" y="218.9" width="7.235" height="7.15" fill="#d2dee6"/>
<rect x="503.29" y="218.9" width="7.235" height="7.15" fill="#de7662"/>
<rect x="510.52" y="218.9" width="7.235" height="7.15" fill="#cf544b"/>
<rect x="517.76" y="218.9" width="7.235" height="7.15" fill="#f5bea4"/>
<rect x="525" y="218.9" width="7.235" height="7.15" fill="#f5bea4"/>
<rect x="532.23" y="218.9" width="7.235" height="7.15" fill="#f5bea4"/>
<rect x="539.47" y="218.9" width="7.235" height="7.15" fill="#de7662"/>
<rect x="546.7" y="218.9" width="7.235" height="7.15" fill="#f2b092"/>
<rect x="553.93" y="218.9" width="7.235" height="7.15" fill="#eb987c"/>
<rect x="561.17" y="218.9" width="7.235" height="7.15" fill="#f5bea4"/>
<rect x="568.4" y="218.9" width="7.235" height="7.15" fill="#eb987c"/>
<rect x="575.64" y="218.9" width="7.235" height="7.15" fill="#eb987c"/>
<rect x="582.88" y="218.9" width="7.235" height="7.15" fill="#de7662"/>
<rect x="590.11" y="218.9" width="7.235" height="7.15" fill="#6e0822"/>
<rect x="597.35" y="218.9" width="7.235" height="7.15" fill="#cf544b"/>
<rect x="604.58" y="218.9" width="7.235" height="7.15" fill="#c54040"/>
<rect x="402" y="226.05" width="7.235" height="7.15" fill="#579ecf"/>
<rect x="409.24" y="226.05" width="7.235" height="7.15" fill="#3d7fc1"/>
<rect x="416.47" y="226.05" width="7.235" height="7.15" fill="#448cc8"/>
<rect x="423.7" y="226.05" width="7.235" height="7.15" fill="#64aad4"/>
<rect x="430.94" y="226.05" width="7.235" height="7.15" fill="#448cc8"/>
<rect x="438.18" y="226.05" width="7.235" height="7.15" fill="#172e64"/>
<rect x="445.41" y="226.05" width="7.235" height="7.15" fill="#448cc8"/>
<rect x="452.64" y="226.05" width="7.235" height="7.15" fill="#64aad4"/>
<rect x="459.88" y="226.05" width="7.235" height="7.15" fill="#5198cd"/>
<rect x="467.12" y="226.05" width="7.235" height="7.15" fill="#7cb9db"/>
<rect x="474.35" y="226.05" width="7.235" height="7.15" fill="#afd5e6"/>
<rect x="481.59" y="226.05" width="7.235" height="7.15" fill="#e0e0e0"/>
<rect x="488.82" y="226.05" width="7.235" height="7.15" fill="#afd5e6"/>
<rect x="496.06" y="226.05" width="7.235" height="7.15" fill="#e8e0db"/>
<rect x="503.29" y="226.05" width="7.235" height="7.15" fill="#de7662"/>
<rect x="510.52" y="226.05" width="7.235" height="7.15" fill="#de7662"/>
<rect x="517.76" y="226.05" width="7.235" height="7.15" fill="#f7d9c9"/>
<rect x="525" y="226.05" width="7.235" height="7.15" fill="#eb987c"/>
<rect x="532.23" y="226.05" width="7.235" height="7.15" fill="#eb987c"/>
<rect x="539.47" y="226.05" width="7.235" height="7.15" fill="#e3846c"/>
<rect x="546.7" y="226.05" width="7.235" height="7.15" fill="#f5bea4"/>
<rect x="553.93" y="226.05" width="7.235" height="7.15" fill="#f2b092"/>
<rect x="561.17" y="226.05" width="7.235" height="7.15" fill="#eb987c"/>
<rect x="568.4" y="226.05" width="7.235" height="7.15" fill="#f2b092"/>
<rect x="575.64" y="226.05" width="7.235" height="7.15" fill="#e68b71"/>
<rect x="582.88" y="226.05" width="7.235" height="7.15" fill="#eb987c"/>
<rect x="590.11" y="226.05" width="7.235" height="7.15" fill="#cf544b"/>
<rect x="597.35" y="226.05" width="7.235" height="7.15" fill="#6e0822"/>
<rect x="604.58" y="226.05" width="7.235" height="7.15" fill="#a61a2c"/>
<rect x="402" y="233.2" width="7.235" height="7.15" fill="#579ecf"/>
<rect x="409.24" y="233.2" width="7.235" height="7.15" fill="#326cb6"/>
<rect x="416.47" y="233.2" width="7.235" height="7.15" fill="#3d7fc1"/>
<rect x="423.7" y="233.2" width="7.235" height="7.15" fill="#3979bd"/>
<rect x="430.94" y="233.2" width="7.235" height="7.15" fill="#3979bd"/>
<rect x="438.18" y="233.2" width="7.235" height="7.15" fill="#204789"/>
<rect x="445.41" y="233.2" width="7.235" height="7.15" fill="#326cb6"/>
<rect x="452.64" y="233.2" width="7.235" height="7.15" fill="#448cc8"/>
<rect x="459.88" y="233.2" width="7.235" height="7.15" fill="#448cc8"/>
<rect x="467.12" y="233.2" width="7.235" height="7.15" fill="#579ecf"/>
<rect x="474.35" y="233.2" width="7.235" height="7.15" fill="#a0d0e5"/>
<rect x="481.59" y="233.2" width="7.235" height="7.15" fill="#f5bea4"/>
<rect x="488.82" y="233.2" width="7.235" height="7.15" fill="#a0d0e5"/>
<rect x="496.06" y="233.2" width="7.235" height="7.15" fill="#e8e0db"/>
<rect x="503.29" y="233.2" width="7.235" height="7.15" fill="#d66252"/>
<rect x="510.52" y="233.2" width="7.235" height="7.15" fill="#cf544b"/>
<rect x="517.76" y="233.2" width="7.235" height="7.15" fill="#eb987c"/>
<rect x="525" y="233.2" width="7.235" height="7.15" fill="#e3846c"/>
<rect x="532.23" y="233.2" width="7.235" height="7.15" fill="#de7662"/>
<rect x="539.47" y="233.2" width="7.235" height="7.15" fill="#de7662"/>
<rect x="546.7" y="233.2" width="7.235" height="7.15" fill="#f5bea4"/>
<rect x="553.93" y="233.2" width="7.235" height="7.15" fill="#d96957"/>
<rect x="561.17" y="233.2" width="7.235" height="7.15" fill="#de7662"/>
<rect x="568.4" y="233.2" width="7.235" height="7.15" fill="#d96957"/>
<rect x="575.64" y="233.2" width="7.235" height="7.15" fill="#d96957"/>
<rect x="582.88" y="233.2" width="7.235" height="7.15" fill="#e68b71"/>
<rect x="590.11" y="233.2" width="7.235" height="7.15" fill="#c54040"/>
<rect x="597.35" y="233.2" width="7.235" height="7.15" fill="#a61a2c"/>
<rect x="604.58" y="233.2" width="7.235" height="7.15" fill="#6e0822"/>
</g>
<g class="s" font-size="4.4" fill="#fff" text-anchor="middle">
<text x="405.62" y="38.28">**</text>
<text x="412.85" y="38.28">***</text>
<text x="420.09" y="38.28">***</text>
<text x="427.32" y="38.28">**</text>
<text x="434.56" y="38.28">**</text>
<text x="441.79" y="38.28">**</text>
<text x="449.03" y="38.28">**</text>
<text x="456.26" y="38.28">*</text>
<text x="470.73" y="38.28">**</text>
<text x="492.44" y="38.28">*</text>
<text x="499.67" y="38.28">*</text>
<text x="506.91" y="38.28">**</text>
<text x="514.14" y="38.28">**</text>
<text x="521.38" y="38.28">**</text>
<text x="528.61" y="38.28">**</text>
<text x="535.85" y="38.28">**</text>
<text x="543.08" y="38.28">**</text>
<text x="557.55" y="38.28">**</text>
<text x="564.79" y="38.28">**</text>
<text x="572.02" y="38.28">**</text>
<text x="579.26" y="38.28">**</text>
<text x="586.49" y="38.28">*</text>
<text x="600.96" y="38.28">**</text>
<text x="608.2" y="38.28">**</text>
<text x="405.62" y="45.43">***</text>
<text x="412.85" y="45.43">**</text>
<text x="420.09" y="45.43">***</text>
<text x="427.32" y="45.43">***</text>
<text x="434.56" y="45.43">***</text>
<text x="441.79" y="45.43">**</text>
<text x="449.03" y="45.43">**</text>
<text x="456.26" y="45.43">**</text>
<text x="470.73" y="45.43">**</text>
<text x="477.97" y="45.43">**</text>
<text x="485.2" y="45.43">*</text>
<text x="492.44" y="45.43">**</text>
<text x="499.67" y="45.43">**</text>
<text x="506.91" y="45.43">***</text>
<text x="514.14" y="45.43">***</text>
<text x="521.38" y="45.43">***</text>
<text x="528.61" y="45.43">**</text>
<text x="535.85" y="45.43">***</text>
<text x="543.08" y="45.43">***</text>
<text x="550.32" y="45.43">**</text>
<text x="557.55" y="45.43">**</text>
<text x="564.79" y="45.43">**</text>
<text x="572.02" y="45.43">**</text>
<text x="579.26" y="45.43">**</text>
<text x="586.49" y="45.43">*</text>
<text x="593.73" y="45.43">**</text>
<text x="600.96" y="45.43">**</text>
<text x="608.2" y="45.43">**</text>
<text x="405.62" y="52.58">***</text>
<text x="412.85" y="52.58">***</text>
<text x="420.09" y="52.58">**</text>
<text x="427.32" y="52.58">***</text>
<text x="434.56" y="52.58">***</text>
<text x="441.79" y="52.58">**</text>
<text x="449.03" y="52.58">**</text>
<text x="456.26" y="52.58">**</text>
<text x="470.73" y="52.58">**</text>
<text x="477.97" y="52.58">**</text>
<text x="485.2" y="52.58">*</text>
<text x="492.44" y="52.58">**</text>
<text x="499.67" y="52.58">**</text>
<text x="506.91" y="52.58">***</text>
<text x="514.14" y="52.58">**</text>
<text x="521.38" y="52.58">**</text>
<text x="528.61" y="52.58">**</text>
<text x="535.85" y="52.58">**</text>
<text x="543.08" y="52.58">***</text>
<text x="550.32" y="52.58">*</text>
<text x="557.55" y="52.58">**</text>
<text x="564.79" y="52.58">**</text>
<text x="572.02" y="52.58">**</text>
<text x="579.26" y="52.58">**</text>
<text x="586.49" y="52.58">*</text>
<text x="593.73" y="52.58">**</text>
<text x="600.96" y="52.58">**</text>
<text x="608.2" y="52.58">**</text>
<text x="405.62" y="59.73">**</text>
<text x="412.85" y="59.73">***</text>
<text x="420.09" y="59.73">***</text>
<text x="427.32" y="59.73">**</text>
<text x="434.56" y="59.73">***</text>
<text x="441.79" y="59.73">**</text>
<text x="449.03" y="59.73">***</text>
<text x="456.26" y="59.73">**</text>
<text x="463.5" y="59.73">**</text>
<text x="470.73" y="59.73">**</text>
<text x="477.97" y="59.73">**</text>
<text x="485.2" y="59.73">**</text>
<text x="492.44" y="59.73">**</text>
<text x="499.67" y="59.73">**</text>
<text x="506.91" y="59.73">**</text>
<text x="514.14" y="59.73">**</text>
<text x="521.38" y="59.73">**</text>
<text x="528.61" y="59.73">**</text>
<text x="535.85" y="59.73">***</text>
<text x="543.08" y="59.73">***</text>
<text x="550.32" y="59.73">*</text>
<text x="557.55" y="59.73">**</text>
<text x="564.79" y="59.73">**</text>
<text x="572.02" y="59.73">**</text>
<text x="579.26" y="59.73">**</text>
<text x="593.73" y="59.73">*</text>
<text x="600.96" y="59.73">*</text>
<text x="608.2" y="59.73">**</text>
<text x="405.62" y="66.88">**</text>
<text x="412.85" y="66.88">***</text>
<text x="420.09" y="66.88">***</text>
<text x="427.32" y="66.88">***</text>
<text x="434.56" y="66.88">**</text>
<text x="441.79" y="66.88">**</text>
<text x="449.03" y="66.88">**</text>
<text x="456.26" y="66.88">**</text>
<text x="463.5" y="66.88">**</text>
<text x="470.73" y="66.88">**</text>
<text x="477.97" y="66.88">**</text>
<text x="485.2" y="66.88">*</text>
<text x="492.44" y="66.88">**</text>
<text x="499.67" y="66.88">**</text>
<text x="506.91" y="66.88">***</text>
<text x="514.14" y="66.88">***</text>
<text x="521.38" y="66.88">***</text>
<text x="528.61" y="66.88">**</text>
<text x="535.85" y="66.88">***</text>
<text x="543.08" y="66.88">***</text>
<text x="550.32" y="66.88">**</text>
<text x="557.55" y="66.88">**</text>
<text x="564.79" y="66.88">**</text>
<text x="572.02" y="66.88">**</text>
<text x="579.26" y="66.88">**</text>
<text x="586.49" y="66.88">*</text>
<text x="593.73" y="66.88">**</text>
<text x="600.96" y="66.88">**</text>
<text x="608.2" y="66.88">**</text>
<text x="405.62" y="74.03">*</text>
<text x="412.85" y="74.03">**</text>
<text x="420.09" y="74.03">**</text>
<text x="427.32" y="74.03">**</text>
<text x="434.56" y="74.03">**</text>
<text x="441.79" y="74.03">**</text>
<text x="449.03" y="74.03">**</text>
<text x="456.26" y="74.03">**</text>
<text x="463.5" y="74.03">**</text>
<text x="470.73" y="74.03">**</text>
<text x="477.97" y="74.03">**</text>
<text x="492.44" y="74.03">*</text>
<text x="506.91" y="74.03">**</text>
<text x="514.14" y="74.03">**</text>
<text x="521.38" y="74.03">**</text>
<text x="528.61" y="74.03">**</text>
<text x="535.85" y="74.03">**</text>
<text x="543.08" y="74.03">**</text>
<text x="550.32" y="74.03">**</text>
<text x="557.55" y="74.03">**</text>
<text x="564.79" y="74.03">**</text>
<text x="572.02" y="74.03">**</text>
<text x="579.26" y="74.03">**</text>
<text x="586.49" y="74.03">**</text>
<text x="593.73" y="74.03">**</text>
<text x="600.96" y="74.03">***</text>
<text x="608.2" y="74.03">**</text>
<text x="405.62" y="81.17">*</text>
<text x="412.85" y="81.17">**</text>
<text x="420.09" y="81.17">**</text>
<text x="427.32" y="81.17">***</text>
<text x="434.56" y="81.17">**</text>
<text x="441.79" y="81.17">**</text>
<text x="449.03" y="81.17">**</text>
<text x="456.26" y="81.17">***</text>
<text x="463.5" y="81.17">**</text>
<text x="470.73" y="81.17">**</text>
<text x="477.97" y="81.17">**</text>
<text x="485.2" y="81.17">**</text>
<text x="492.44" y="81.17">**</text>
<text x="506.91" y="81.17">**</text>
<text x="514.14" y="81.17">**</text>
<text x="521.38" y="81.17">**</text>
<text x="528.61" y="81.17">**</text>
<text x="535.85" y="81.17">**</text>
<text x="543.08" y="81.17">**</text>
<text x="550.32" y="81.17">**</text>
<text x="557.55" y="81.17">**</text>
<text x="564.79" y="81.17">**</text>
<text x="572.02" y="81.17">**</text>
<text x="579.26" y="81.17">**</text>
<text x="593.73" y="81.17">**</text>
<text x="600.96" y="81.17">**</text>
<text x="608.2" y="81.17">**</text>
<text x="405.62" y="88.33">*</text>
<text x="412.85" y="88.33">**</text>
<text x="420.09" y="88.33">**</text>
<text x="427.32" y="88.33">**</text>
<text x="434.56" y="88.33">**</text>
<text x="441.79" y="88.33">**</text>
<text x="449.03" y="88.33">***</text>
<text x="456.26" y="88.33">**</text>
<text x="463.5" y="88.33">**</text>
<text x="470.73" y="88.33">**</text>
<text x="477.97" y="88.33">**</text>
<text x="485.2" y="88.33">**</text>
<text x="492.44" y="88.33">**</text>
<text x="499.67" y="88.33">**</text>
<text x="506.91" y="88.33">**</text>
<text x="514.14" y="88.33">**</text>
<text x="521.38" y="88.33">**</text>
<text x="528.61" y="88.33">**</text>
<text x="535.85" y="88.33">**</text>
<text x="543.08" y="88.33">**</text>
<text x="550.32" y="88.33">**</text>
<text x="557.55" y="88.33">**</text>
<text x="564.79" y="88.33">**</text>
<text x="572.02" y="88.33">**</text>
<text x="579.26" y="88.33">**</text>
<text x="593.73" y="88.33">**</text>
<text x="600.96" y="88.33">*</text>
<text x="608.2" y="88.33">**</text>
<text x="427.32" y="95.48">**</text>
<text x="434.56" y="95.48">**</text>
<text x="441.79" y="95.48">**</text>
<text x="449.03" y="95.48">**</text>
<text x="456.26" y="95.48">**</text>
<text x="463.5" y="95.48">**</text>
<text x="470.73" y="95.48">*</text>
<text x="477.97" y="95.48">*</text>
<text x="506.91" y="95.48">**</text>
<text x="514.14" y="95.48">**</text>
<text x="521.38" y="95.48">**</text>
<text x="528.61" y="95.48">**</text>
<text x="535.85" y="95.48">**</text>
<text x="543.08" y="95.48">**</text>
<text x="557.55" y="95.48">**</text>
<text x="564.79" y="95.48">**</text>
<text x="572.02" y="95.48">**</text>
<text x="579.26" y="95.48">**</text>
<text x="593.73" y="95.48">*</text>
<text x="600.96" y="95.48">**</text>
<text x="608.2" y="95.48">**</text>
<text x="405.62" y="102.62">**</text>
<text x="412.85" y="102.62">**</text>
<text x="420.09" y="102.62">**</text>
<text x="427.32" y="102.62">**</text>
<text x="434.56" y="102.62">**</text>
<text x="441.79" y="102.62">**</text>
<text x="449.03" y="102.62">**</text>
<text x="456.26" y="102.62">**</text>
<text x="463.5" y="102.62">*</text>
<text x="470.73" y="102.62">**</text>
<text x="477.97" y="102.62">**</text>
<text x="485.2" y="102.62">**</text>
<text x="492.44" y="102.62">**</text>
<text x="499.67" y="102.62">**</text>
<text x="506.91" y="102.62">**</text>
<text x="514.14" y="102.62">**</text>
<text x="521.38" y="102.62">***</text>
<text x="528.61" y="102.62">**</text>
<text x="535.85" y="102.62">**</text>
<text x="543.08" y="102.62">**</text>
<text x="550.32" y="102.62">**</text>
<text x="557.55" y="102.62">**</text>
<text x="564.79" y="102.62">**</text>
<text x="572.02" y="102.62">**</text>
<text x="579.26" y="102.62">**</text>
<text x="600.96" y="102.62">*</text>
<text x="608.2" y="102.62">**</text>
<text x="412.85" y="109.78">**</text>
<text x="420.09" y="109.78">**</text>
<text x="427.32" y="109.78">**</text>
<text x="434.56" y="109.78">**</text>
<text x="441.79" y="109.78">**</text>
<text x="449.03" y="109.78">**</text>
<text x="456.26" y="109.78">**</text>
<text x="463.5" y="109.78">*</text>
<text x="470.73" y="109.78">**</text>
<text x="477.97" y="109.78">**</text>
<text x="485.2" y="109.78">**</text>
<text x="492.44" y="109.78">**</text>
<text x="499.67" y="109.78">**</text>
<text x="506.91" y="109.78">**</text>
<text x="514.14" y="109.78">**</text>
<text x="521.38" y="109.78">**</text>
<text x="528.61" y="109.78">**</text>
<text x="535.85" y="109.78">**</text>
<text x="543.08" y="109.78">**</text>
<text x="550.32" y="109.78">**</text>
<text x="557.55" y="109.78">**</text>
<text x="564.79" y="109.78">**</text>
<text x="572.02" y="109.78">**</text>
<text x="579.26" y="109.78">**</text>
<text x="412.85" y="116.93">*</text>
<text x="420.09" y="116.93">*</text>
<text x="427.32" y="116.93">**</text>
<text x="434.56" y="116.93">**</text>
<text x="441.79" y="116.93">*</text>
<text x="449.03" y="116.93">**</text>
<text x="456.26" y="116.93">**</text>
<text x="470.73" y="116.93">**</text>
<text x="477.97" y="116.93">**</text>
<text x="485.2" y="116.93">**</text>
<text x="492.44" y="116.93">**</text>
<text x="499.67" y="116.93">**</text>
<text x="506.91" y="116.93">**</text>
<text x="514.14" y="116.93">**</text>
<text x="521.38" y="116.93">**</text>
<text x="528.61" y="116.93">**</text>
<text x="535.85" y="116.93">**</text>
<text x="543.08" y="116.93">**</text>
<text x="550.32" y="116.93">**</text>
<text x="557.55" y="116.93">**</text>
<text x="564.79" y="116.93">*</text>
<text x="572.02" y="116.93">**</text>
<text x="579.26" y="116.93">*</text>
<text x="608.2" y="116.93">*</text>
<text x="405.62" y="124.08">*</text>
<text x="412.85" y="124.08">**</text>
<text x="420.09" y="124.08">**</text>
<text x="427.32" y="124.08">**</text>
<text x="434.56" y="124.08">**</text>
<text x="441.79" y="124.08">*</text>
<text x="449.03" y="124.08">**</text>
<text x="456.26" y="124.08">**</text>
<text x="470.73" y="124.08">**</text>
<text x="477.97" y="124.08">**</text>
<text x="485.2" y="124.08">**</text>
<text x="492.44" y="124.08">**</text>
<text x="499.67" y="124.08">**</text>
<text x="506.91" y="124.08">**</text>
<text x="514.14" y="124.08">**</text>
<text x="521.38" y="124.08">**</text>
<text x="528.61" y="124.08">**</text>
<text x="535.85" y="124.08">**</text>
<text x="543.08" y="124.08">**</text>
<text x="550.32" y="124.08">**</text>
<text x="557.55" y="124.08">**</text>
<text x="564.79" y="124.08">**</text>
<text x="572.02" y="124.08">**</text>
<text x="579.26" y="124.08">**</text>
<text x="405.62" y="131.22">*</text>
<text x="412.85" y="131.22">**</text>
<text x="420.09" y="131.22">**</text>
<text x="427.32" y="131.22">**</text>
<text x="434.56" y="131.22">**</text>
<text x="456.26" y="131.22">**</text>
<text x="470.73" y="131.22">**</text>
<text x="477.97" y="131.22">**</text>
<text x="485.2" y="131.22">**</text>
<text x="492.44" y="131.22">**</text>
<text x="499.67" y="131.22">**</text>
<text x="506.91" y="131.22">**</text>
<text x="514.14" y="131.22">**</text>
<text x="521.38" y="131.22">**</text>
<text x="528.61" y="131.22">**</text>
<text x="535.85" y="131.22">**</text>
<text x="543.08" y="131.22">**</text>
<text x="550.32" y="131.22">*</text>
<text x="557.55" y="131.22">**</text>
<text x="564.79" y="131.22">*</text>
<text x="572.02" y="131.22">*</text>
<text x="579.26" y="131.22">*</text>
<text x="405.62" y="138.38">**</text>
<text x="412.85" y="138.38">***</text>
<text x="420.09" y="138.38">***</text>
<text x="427.32" y="138.38">**</text>
<text x="434.56" y="138.38">***</text>
<text x="441.79" y="138.38">**</text>
<text x="449.03" y="138.38">**</text>
<text x="456.26" y="138.38">**</text>
<text x="463.5" y="138.38">**</text>
<text x="470.73" y="138.38">**</text>
<text x="477.97" y="138.38">**</text>
<text x="485.2" y="138.38">**</text>
<text x="492.44" y="138.38">**</text>
<text x="499.67" y="138.38">**</text>
<text x="506.91" y="138.38">**</text>
<text x="514.14" y="138.38">***</text>
<text x="521.38" y="138.38">**</text>
<text x="528.61" y="138.38">**</text>
<text x="535.85" y="138.38">***</text>
<text x="543.08" y="138.38">***</text>
<text x="550.32" y="138.38">**</text>
<text x="557.55" y="138.38">**</text>
<text x="564.79" y="138.38">**</text>
<text x="572.02" y="138.38">**</text>
<text x="579.26" y="138.38">**</text>
<text x="593.73" y="138.38">**</text>
<text x="600.96" y="138.38">**</text>
<text x="608.2" y="138.38">**</text>
<text x="405.62" y="145.52">**</text>
<text x="412.85" y="145.52">***</text>
<text x="420.09" y="145.52">**</text>
<text x="427.32" y="145.52">**</text>
<text x="434.56" y="145.52">***</text>
<text x="441.79" y="145.52">**</text>
<text x="449.03" y="145.52">**</text>
<text x="456.26" y="145.52">**</text>
<text x="463.5" y="145.52">**</text>
<text x="470.73" y="145.52">**</text>
<text x="477.97" y="145.52">**</text>
<text x="485.2" y="145.52">**</text>
<text x="492.44" y="145.52">**</text>
<text x="499.67" y="145.52">**</text>
<text x="506.91" y="145.52">***</text>
<text x="514.14" y="145.52">**</text>
<text x="521.38" y="145.52">**</text>
<text x="528.61" y="145.52">**</text>
<text x="535.85" y="145.52">***</text>
<text x="543.08" y="145.52">***</text>
<text x="550.32" y="145.52">**</text>
<text x="557.55" y="145.52">**</text>
<text x="564.79" y="145.52">**</text>
<text x="572.02" y="145.52">**</text>
<text x="579.26" y="145.52">**</text>
<text x="586.49" y="145.52">**</text>
<text x="593.73" y="145.52">**</text>
<text x="600.96" y="145.52">**</text>
<text x="608.2" y="145.52">**</text>
<text x="405.62" y="152.68">**</text>
<text x="412.85" y="152.68">***</text>
<text x="420.09" y="152.68">**</text>
<text x="427.32" y="152.68">**</text>
<text x="434.56" y="152.68">***</text>
<text x="441.79" y="152.68">**</text>
<text x="449.03" y="152.68">**</text>
<text x="456.26" y="152.68">**</text>
<text x="463.5" y="152.68">**</text>
<text x="470.73" y="152.68">***</text>
<text x="477.97" y="152.68">**</text>
<text x="485.2" y="152.68">**</text>
<text x="492.44" y="152.68">**</text>
<text x="499.67" y="152.68">**</text>
<text x="506.91" y="152.68">**</text>
<text x="514.14" y="152.68">**</text>
<text x="521.38" y="152.68">**</text>
<text x="528.61" y="152.68">**</text>
<text x="535.85" y="152.68">***</text>
<text x="543.08" y="152.68">***</text>
<text x="550.32" y="152.68">**</text>
<text x="557.55" y="152.68">**</text>
<text x="564.79" y="152.68">**</text>
<text x="572.02" y="152.68">**</text>
<text x="579.26" y="152.68">**</text>
<text x="593.73" y="152.68">*</text>
<text x="608.2" y="152.68">**</text>
<text x="405.62" y="159.82">**</text>
<text x="412.85" y="159.82">**</text>
<text x="420.09" y="159.82">**</text>
<text x="427.32" y="159.82">**</text>
<text x="434.56" y="159.82">**</text>
<text x="441.79" y="159.82">**</text>
<text x="449.03" y="159.82">**</text>
<text x="456.26" y="159.82">**</text>
<text x="463.5" y="159.82">**</text>
<text x="470.73" y="159.82">**</text>
<text x="477.97" y="159.82">**</text>
<text x="485.2" y="159.82">**</text>
<text x="492.44" y="159.82">**</text>
<text x="499.67" y="159.82">**</text>
<text x="506.91" y="159.82">**</text>
<text x="514.14" y="159.82">**</text>
<text x="521.38" y="159.82">**</text>
<text x="528.61" y="159.82">**</text>
<text x="535.85" y="159.82">***</text>
<text x="543.08" y="159.82">***</text>
<text x="550.32" y="159.82">**</text>
<text x="557.55" y="159.82">**</text>
<text x="564.79" y="159.82">**</text>
<text x="572.02" y="159.82">**</text>
<text x="579.26" y="159.82">**</text>
<text x="593.73" y="159.82">*</text>
<text x="600.96" y="159.82">**</text>
<text x="608.2" y="159.82">**</text>
<text x="405.62" y="166.97">**</text>
<text x="412.85" y="166.97">***</text>
<text x="420.09" y="166.97">**</text>
<text x="427.32" y="166.97">***</text>
<text x="434.56" y="166.97">***</text>
<text x="441.79" y="166.97">**</text>
<text x="449.03" y="166.97">**</text>
<text x="456.26" y="166.97">**</text>
<text x="463.5" y="166.97">**</text>
<text x="470.73" y="166.97">**</text>
<text x="477.97" y="166.97">**</text>
<text x="485.2" y="166.97">**</text>
<text x="492.44" y="166.97">**</text>
<text x="499.67" y="166.97">**</text>
<text x="506.91" y="166.97">***</text>
<text x="514.14" y="166.97">***</text>
<text x="521.38" y="166.97">***</text>
<text x="528.61" y="166.97">***</text>
<text x="535.85" y="166.97">**</text>
<text x="543.08" y="166.97">***</text>
<text x="550.32" y="166.97">***</text>
<text x="557.55" y="166.97">**</text>
<text x="564.79" y="166.97">**</text>
<text x="572.02" y="166.97">***</text>
<text x="579.26" y="166.97">**</text>
<text x="593.73" y="166.97">*</text>
<text x="600.96" y="166.97">**</text>
<text x="608.2" y="166.97">**</text>
<text x="405.62" y="174.12">**</text>
<text x="412.85" y="174.12">***</text>
<text x="420.09" y="174.12">***</text>
<text x="427.32" y="174.12">***</text>
<text x="434.56" y="174.12">***</text>
<text x="441.79" y="174.12">**</text>
<text x="449.03" y="174.12">**</text>
<text x="456.26" y="174.12">**</text>
<text x="463.5" y="174.12">**</text>
<text x="470.73" y="174.12">**</text>
<text x="477.97" y="174.12">**</text>
<text x="485.2" y="174.12">**</text>
<text x="492.44" y="174.12">**</text>
<text x="499.67" y="174.12">**</text>
<text x="506.91" y="174.12">***</text>
<text x="514.14" y="174.12">***</text>
<text x="521.38" y="174.12">***</text>
<text x="528.61" y="174.12">***</text>
<text x="535.85" y="174.12">***</text>
<text x="543.08" y="174.12">**</text>
<text x="550.32" y="174.12">***</text>
<text x="557.55" y="174.12">**</text>
<text x="564.79" y="174.12">**</text>
<text x="572.02" y="174.12">***</text>
<text x="579.26" y="174.12">***</text>
<text x="593.73" y="174.12">**</text>
<text x="600.96" y="174.12">**</text>
<text x="608.2" y="174.12">**</text>
<text x="412.85" y="181.28">**</text>
<text x="420.09" y="181.28">*</text>
<text x="427.32" y="181.28">*</text>
<text x="434.56" y="181.28">**</text>
<text x="441.79" y="181.28">**</text>
<text x="449.03" y="181.28">**</text>
<text x="456.26" y="181.28">**</text>
<text x="470.73" y="181.28">**</text>
<text x="477.97" y="181.28">**</text>
<text x="485.2" y="181.28">**</text>
<text x="492.44" y="181.28">**</text>
<text x="499.67" y="181.28">*</text>
<text x="506.91" y="181.28">**</text>
<text x="514.14" y="181.28">**</text>
<text x="521.38" y="181.28">**</text>
<text x="528.61" y="181.28">**</text>
<text x="535.85" y="181.28">**</text>
<text x="543.08" y="181.28">**</text>
<text x="550.32" y="181.28">**</text>
<text x="557.55" y="181.28">**</text>
<text x="564.79" y="181.28">*</text>
<text x="572.02" y="181.28">**</text>
<text x="579.26" y="181.28">**</text>
<text x="593.73" y="181.28">**</text>
<text x="600.96" y="181.28">*</text>
<text x="608.2" y="181.28">*</text>
<text x="405.62" y="188.42">**</text>
<text x="412.85" y="188.42">**</text>
<text x="420.09" y="188.42">**</text>
<text x="427.32" y="188.42">**</text>
<text x="434.56" y="188.42">**</text>
<text x="441.79" y="188.42">**</text>
<text x="449.03" y="188.42">**</text>
<text x="456.26" y="188.42">**</text>
<text x="463.5" y="188.42">**</text>
<text x="470.73" y="188.42">**</text>
<text x="477.97" y="188.42">**</text>
<text x="485.2" y="188.42">**</text>
<text x="492.44" y="188.42">**</text>
<text x="499.67" y="188.42">**</text>
<text x="506.91" y="188.42">**</text>
<text x="514.14" y="188.42">**</text>
<text x="521.38" y="188.42">**</text>
<text x="528.61" y="188.42">**</text>
<text x="535.85" y="188.42">**</text>
<text x="543.08" y="188.42">**</text>
<text x="550.32" y="188.42">**</text>
<text x="557.55" y="188.42">**</text>
<text x="564.79" y="188.42">**</text>
<text x="572.02" y="188.42">**</text>
<text x="579.26" y="188.42">**</text>
<text x="586.49" y="188.42">**</text>
<text x="593.73" y="188.42">**</text>
<text x="600.96" y="188.42">**</text>
<text x="608.2" y="188.42">**</text>
<text x="405.62" y="195.57">**</text>
<text x="412.85" y="195.57">**</text>
<text x="420.09" y="195.57">**</text>
<text x="427.32" y="195.57">**</text>
<text x="434.56" y="195.57">**</text>
<text x="441.79" y="195.57">**</text>
<text x="449.03" y="195.57">**</text>
<text x="456.26" y="195.57">**</text>
<text x="463.5" y="195.57">**</text>
<text x="470.73" y="195.57">**</text>
<text x="477.97" y="195.57">**</text>
<text x="485.2" y="195.57">*</text>
<text x="492.44" y="195.57">**</text>
<text x="499.67" y="195.57">*</text>
<text x="506.91" y="195.57">**</text>
<text x="514.14" y="195.57">**</text>
<text x="521.38" y="195.57">**</text>
<text x="528.61" y="195.57">**</text>
<text x="535.85" y="195.57">**</text>
<text x="543.08" y="195.57">**</text>
<text x="550.32" y="195.57">*</text>
<text x="557.55" y="195.57">**</text>
<text x="564.79" y="195.57">**</text>
<text x="572.02" y="195.57">**</text>
<text x="579.26" y="195.57">**</text>
<text x="593.73" y="195.57">*</text>
<text x="600.96" y="195.57">**</text>
<text x="608.2" y="195.57">**</text>
<text x="405.62" y="202.72">**</text>
<text x="412.85" y="202.72">**</text>
<text x="420.09" y="202.72">**</text>
<text x="427.32" y="202.72">**</text>
<text x="434.56" y="202.72">**</text>
<text x="441.79" y="202.72">**</text>
<text x="449.03" y="202.72">**</text>
<text x="456.26" y="202.72">**</text>
<text x="463.5" y="202.72">**</text>
<text x="470.73" y="202.72">**</text>
<text x="477.97" y="202.72">**</text>
<text x="485.2" y="202.72">**</text>
<text x="492.44" y="202.72">**</text>
<text x="499.67" y="202.72">*</text>
<text x="506.91" y="202.72">**</text>
<text x="514.14" y="202.72">**</text>
<text x="521.38" y="202.72">**</text>
<text x="528.61" y="202.72">**</text>
<text x="535.85" y="202.72">***</text>
<text x="543.08" y="202.72">***</text>
<text x="550.32" y="202.72">**</text>
<text x="557.55" y="202.72">**</text>
<text x="564.79" y="202.72">**</text>
<text x="572.02" y="202.72">**</text>
<text x="579.26" y="202.72">***</text>
<text x="593.73" y="202.72">**</text>
<text x="600.96" y="202.72">**</text>
<text x="608.2" y="202.72">**</text>
<text x="405.62" y="209.88">**</text>
<text x="412.85" y="209.88">**</text>
<text x="420.09" y="209.88">**</text>
<text x="427.32" y="209.88">**</text>
<text x="434.56" y="209.88">**</text>
<text x="441.79" y="209.88">**</text>
<text x="449.03" y="209.88">**</text>
<text x="456.26" y="209.88">**</text>
<text x="463.5" y="209.88">**</text>
<text x="470.73" y="209.88">**</text>
<text x="477.97" y="209.88">**</text>
<text x="485.2" y="209.88">*</text>
<text x="492.44" y="209.88">**</text>
<text x="499.67" y="209.88">*</text>
<text x="506.91" y="209.88">**</text>
<text x="514.14" y="209.88">**</text>
<text x="521.38" y="209.88">**</text>
<text x="528.61" y="209.88">**</text>
<text x="535.85" y="209.88">**</text>
<text x="543.08" y="209.88">***</text>
<text x="550.32" y="209.88">**</text>
<text x="557.55" y="209.88">**</text>
<text x="564.79" y="209.88">**</text>
<text x="572.02" y="209.88">***</text>
<text x="579.26" y="209.88">**</text>
<text x="593.73" y="209.88">**</text>
<text x="600.96" y="209.88">**</text>
<text x="608.2" y="209.88">**</text>
<text x="405.62" y="217.03">*</text>
<text x="412.85" y="217.03">*</text>
<text x="420.09" y="217.03">*</text>
<text x="434.56" y="217.03">*</text>
<text x="441.79" y="217.03">**</text>
<text x="506.91" y="217.03">*</text>
<text x="514.14" y="217.03">**</text>
<text x="557.55" y="217.03">**</text>
<text x="586.49" y="217.03">**</text>
<text x="593.73" y="217.03">**</text>
<text x="600.96" y="217.03">**</text>
<text x="608.2" y="217.03">**</text>
<text x="412.85" y="224.18">**</text>
<text x="420.09" y="224.18">**</text>
<text x="427.32" y="224.18">*</text>
<text x="434.56" y="224.18">**</text>
<text x="441.79" y="224.18">**</text>
<text x="449.03" y="224.18">**</text>
<text x="456.26" y="224.18">**</text>
<text x="463.5" y="224.18">*</text>
<text x="506.91" y="224.18">**</text>
<text x="514.14" y="224.18">**</text>
<text x="521.38" y="224.18">*</text>
<text x="528.61" y="224.18">*</text>
<text x="535.85" y="224.18">*</text>
<text x="543.08" y="224.18">**</text>
<text x="550.32" y="224.18">**</text>
<text x="557.55" y="224.18">**</text>
<text x="564.79" y="224.18">*</text>
<text x="572.02" y="224.18">**</text>
<text x="579.26" y="224.18">**</text>
<text x="586.49" y="224.18">**</text>
<text x="593.73" y="224.18">**</text>
<text x="600.96" y="224.18">**</text>
<text x="608.2" y="224.18">***</text>
<text x="405.62" y="231.32">**</text>
<text x="412.85" y="231.32">**</text>
<text x="420.09" y="231.32">**</text>
<text x="427.32" y="231.32">*</text>
<text x="434.56" y="231.32">**</text>
<text x="441.79" y="231.32">***</text>
<text x="449.03" y="231.32">**</text>
<text x="456.26" y="231.32">*</text>
<text x="463.5" y="231.32">**</text>
<text x="470.73" y="231.32">*</text>
<text x="506.91" y="231.32">**</text>
<text x="514.14" y="231.32">**</text>
<text x="528.61" y="231.32">**</text>
<text x="535.85" y="231.32">**</text>
<text x="543.08" y="231.32">**</text>
<text x="550.32" y="231.32">*</text>
<text x="557.55" y="231.32">**</text>
<text x="564.79" y="231.32">**</text>
<text x="572.02" y="231.32">**</text>
<text x="579.26" y="231.32">**</text>
<text x="586.49" y="231.32">**</text>
<text x="593.73" y="231.32">**</text>
<text x="600.96" y="231.32">**</text>
<text x="608.2" y="231.32">***</text>
<text x="405.62" y="238.47">**</text>
<text x="412.85" y="238.47">**</text>
<text x="420.09" y="238.47">**</text>
<text x="427.32" y="238.47">**</text>
<text x="434.56" y="238.47">**</text>
<text x="441.79" y="238.47">**</text>
<text x="449.03" y="238.47">**</text>
<text x="456.26" y="238.47">**</text>
<text x="463.5" y="238.47">**</text>
<text x="470.73" y="238.47">**</text>
<text x="485.2" y="238.47">*</text>
<text x="506.91" y="238.47">**</text>
<text x="514.14" y="238.47">**</text>
<text x="521.38" y="238.47">**</text>
<text x="528.61" y="238.47">**</text>
<text x="535.85" y="238.47">**</text>
<text x="543.08" y="238.47">**</text>
<text x="550.32" y="238.47">*</text>
<text x="557.55" y="238.47">**</text>
<text x="564.79" y="238.47">**</text>
<text x="572.02" y="238.47">**</text>
<text x="579.26" y="238.47">**</text>
<text x="586.49" y="238.47">**</text>
<text x="593.73" y="238.47">***</text>
<text x="600.96" y="238.47">***</text>
<text x="608.2" y="238.47">**</text>
</g>
<text class="s" x="613.8" y="38.08" font-size="4.1" fill="#222" transform="rotate(0.03 613.8 38.08)">Indirect bilirubin</text>
<text class="s" x="407.12" y="242.4" font-size="4.1" text-anchor="end" fill="#222" transform="rotate(-89.97 407.12 242.4)">Indirect bilirubin</text>
<text class="s" x="613.8" y="45.23" font-size="4.1" fill="#222" transform="rotate(0.03 613.8 45.23)">Direct bilirubin</text>
<text class="s" x="414.35" y="242.4" font-size="4.1" text-anchor="end" fill="#222" transform="rotate(-89.97 414.35 242.4)">Direct bilirubin</text>
<text class="s" x="613.8" y="52.38" font-size="4.1" fill="#222" transform="rotate(0.03 613.8 52.38)">Total bilirubin</text>
<text class="s" x="421.59" y="242.4" font-size="4.1" text-anchor="end" fill="#222" transform="rotate(-89.97 421.59 242.4)">Total bilirubin</text>
<text class="s" x="613.8" y="59.53" font-size="4.1" fill="#222" transform="rotate(0.03 613.8 59.53)">Adenosine deaminase</text>
<text class="s" x="428.82" y="242.4" font-size="4.1" text-anchor="end" fill="#222" transform="rotate(-89.97 428.82 242.4)">Adenosine deaminase</text>
<text class="s" x="613.8" y="66.68" font-size="4.1" fill="#222" transform="rotate(0.03 613.8 66.68)">Total bile acid</text>
<text class="s" x="436.06" y="242.4" font-size="4.1" text-anchor="end" fill="#222" transform="rotate(-89.97 436.06 242.4)">Total bile acid</text>
<text class="s" x="613.8" y="73.83" font-size="4.1" fill="#222" transform="rotate(0.03 613.8 73.83)">chi 3−like 1</text>
<text class="s" x="443.29" y="242.4" font-size="4.1" text-anchor="end" fill="#222" transform="rotate(-89.97 443.29 242.4)">chi 3−like 1</text>
<text class="s" x="613.8" y="80.97" font-size="4.1" fill="#222" transform="rotate(0.03 613.8 80.97)">AST</text>
<text class="s" x="450.53" y="242.4" font-size="4.1" text-anchor="end" fill="#222" transform="rotate(-89.97 450.53 242.4)">AST</text>
<text class="s" x="613.8" y="88.12" font-size="4.1" fill="#222" transform="rotate(0.03 613.8 88.12)">Glutamyl transpeptidase</text>
<text class="s" x="457.76" y="242.4" font-size="4.1" text-anchor="end" fill="#222" transform="rotate(-89.97 457.76 242.4)">Glutamyl transpeptidase</text>
<text class="s" x="613.8" y="95.28" font-size="4.1" fill="#222" transform="rotate(0.03 613.8 95.28)">Uric acid</text>
<text class="s" x="465" y="242.4" font-size="4.1" text-anchor="end" fill="#222" transform="rotate(-89.97 465 242.4)">Uric acid</text>
<text class="s" x="613.8" y="102.42" font-size="4.1" fill="#222" transform="rotate(0.03 613.8 102.42)">MMP2</text>
<text class="s" x="472.23" y="242.4" font-size="4.1" text-anchor="end" fill="#222" transform="rotate(-89.97 472.23 242.4)">MMP2</text>
<text class="s" x="613.8" y="109.58" font-size="4.1" fill="#222" transform="rotate(0.03 613.8 109.58)">Scd163</text>
<text class="s" x="479.47" y="242.4" font-size="4.1" text-anchor="end" fill="#222" transform="rotate(-89.97 479.47 242.4)">Scd163</text>
<text class="s" x="613.8" y="116.73" font-size="4.1" fill="#222" transform="rotate(0.03 613.8 116.73)">Pentraxin3</text>
<text class="s" x="486.7" y="242.4" font-size="4.1" text-anchor="end" fill="#222" transform="rotate(-89.97 486.7 242.4)">Pentraxin3</text>
<text class="s" x="613.8" y="123.88" font-size="4.1" fill="#222" transform="rotate(0.03 613.8 123.88)">TNFsf13b</text>
<text class="s" x="493.94" y="242.4" font-size="4.1" text-anchor="end" fill="#222" transform="rotate(-89.97 493.94 242.4)">TNFsf13b</text>
<text class="s" x="613.8" y="131.03" font-size="4.1" fill="#222" transform="rotate(0.03 613.8 131.03)">TNFsf14</text>
<text class="s" x="501.17" y="242.4" font-size="4.1" text-anchor="end" fill="#222" transform="rotate(-89.97 501.17 242.4)">TNFsf14</text>
<text class="s" x="613.8" y="138.18" font-size="4.1" fill="#222" transform="rotate(0.03 613.8 138.18)">Osteocalcin</text>
<text class="s" x="508.41" y="242.4" font-size="4.1" text-anchor="end" fill="#222" transform="rotate(-89.97 508.41 242.4)">Osteocalcin</text>
<text class="s" x="613.8" y="145.32" font-size="4.1" fill="#222" transform="rotate(0.03 613.8 145.32)">TNFsf12</text>
<text class="s" x="515.64" y="242.4" font-size="4.1" text-anchor="end" fill="#222" transform="rotate(-89.97 515.64 242.4)">TNFsf12</text>
<text class="s" x="613.8" y="152.48" font-size="4.1" fill="#222" transform="rotate(0.03 613.8 152.48)">Platelet</text>
<text class="s" x="522.88" y="242.4" font-size="4.1" text-anchor="end" fill="#222" transform="rotate(-89.97 522.88 242.4)">Platelet</text>
<text class="s" x="613.8" y="159.62" font-size="4.1" fill="#222" transform="rotate(0.03 613.8 159.62)">Hemoglobin</text>
<text class="s" x="530.11" y="242.4" font-size="4.1" text-anchor="end" fill="#222" transform="rotate(-89.97 530.11 242.4)">Hemoglobin</text>
<text class="s" x="613.8" y="166.78" font-size="4.1" fill="#222" transform="rotate(0.03 613.8 166.78)">Albumin</text>
<text class="s" x="537.35" y="242.4" font-size="4.1" text-anchor="end" fill="#222" transform="rotate(-89.97 537.35 242.4)">Albumin</text>
<text class="s" x="613.8" y="173.93" font-size="4.1" fill="#222" transform="rotate(0.03 613.8 173.93)">Cholinesterase</text>
<text class="s" x="544.58" y="242.4" font-size="4.1" text-anchor="end" fill="#222" transform="rotate(-89.97 544.58 242.4)">Cholinesterase</text>
<text class="s" x="613.8" y="181.08" font-size="4.1" fill="#222" transform="rotate(0.03 613.8 181.08)">Total protein</text>
<text class="s" x="551.82" y="242.4" font-size="4.1" text-anchor="end" fill="#222" transform="rotate(-89.97 551.82 242.4)">Total protein</text>
<text class="s" x="613.8" y="188.22" font-size="4.1" fill="#222" transform="rotate(0.03 613.8 188.22)">Bifidobacterium</text>
<text class="s" x="559.05" y="242.4" font-size="4.1" text-anchor="end" fill="#222" transform="rotate(-89.97 559.05 242.4)">Bifidobacterium</text>
<text class="s" x="613.8" y="195.38" font-size="4.1" fill="#222" transform="rotate(0.03 613.8 195.38)">HDL</text>
<text class="s" x="566.29" y="242.4" font-size="4.1" text-anchor="end" fill="#222" transform="rotate(-89.97 566.29 242.4)">HDL</text>
<text class="s" x="613.8" y="202.53" font-size="4.1" fill="#222" transform="rotate(0.03 613.8 202.53)">Cholesterol</text>
<text class="s" x="573.52" y="242.4" font-size="4.1" text-anchor="end" fill="#222" transform="rotate(-89.97 573.52 242.4)">Cholesterol</text>
<text class="s" x="613.8" y="209.68" font-size="4.1" fill="#222" transform="rotate(0.03 613.8 209.68)">LDL</text>
<text class="s" x="580.76" y="242.4" font-size="4.1" text-anchor="end" fill="#222" transform="rotate(-89.97 580.76 242.4)">LDL</text>
<text class="s" x="613.8" y="216.83" font-size="4.1" fill="#222" transform="rotate(0.03 613.8 216.83)">sIL6ra</text>
<text class="s" x="587.99" y="242.4" font-size="4.1" text-anchor="end" fill="#222" transform="rotate(-89.97 587.99 242.4)">sIL6ra</text>
<text class="s" x="613.8" y="223.98" font-size="4.1" fill="#222" transform="rotate(0.03 613.8 223.98)">MMP3</text>
<text class="s" x="595.23" y="242.4" font-size="4.1" text-anchor="end" fill="#222" transform="rotate(-89.97 595.23 242.4)">MMP3</text>
<text class="s" x="613.8" y="231.12" font-size="4.1" fill="#222" transform="rotate(0.03 613.8 231.12)">IL26</text>
<text class="s" x="602.46" y="242.4" font-size="4.1" text-anchor="end" fill="#222" transform="rotate(-89.97 602.46 242.4)">IL26</text>
<text class="s" x="613.8" y="238.28" font-size="4.1" fill="#222" transform="rotate(0.03 613.8 238.28)">Tslp</text>
<text class="s" x="609.7" y="242.4" font-size="4.1" text-anchor="end" fill="#222" transform="rotate(-89.97 609.7 242.4)">Tslp</text>
<defs><linearGradient id="cb" x1="0" y1="0" x2="0" y2="1">
<stop offset="0" stop-color="#67001f"/>
<stop offset="0.1" stop-color="#b2182b"/>
<stop offset="0.2" stop-color="#d6604d"/>
<stop offset="0.3" stop-color="#f4a582"/>
<stop offset="0.4" stop-color="#fddbc7"/>
<stop offset="0.5" stop-color="#f7f7f7"/>
<stop offset="0.6" stop-color="#d1e5f0"/>
<stop offset="0.7" stop-color="#92c5de"/>
<stop offset="0.8" stop-color="#4393c3"/>
<stop offset="0.9" stop-color="#2166ac"/>
<stop offset="1" stop-color="#053061"/>
</linearGradient></defs>
<rect x="662" y="32.5" width="5" height="77.2" fill="url(#cb)" stroke="none" stroke-width="0.5" />
<text class="r" x="669" y="34.8" font-size="5.5" fill="#222" transform="rotate(0.03 669 34.8)">1</text>
<text class="r" x="669" y="57.8" font-size="5.5" fill="#222" transform="rotate(0.03 669 57.8)">0.5</text>
<text class="r" x="669" y="80.4" font-size="5.5" fill="#222" transform="rotate(0.03 669 80.4)">0</text>
<text class="r" x="669" y="103.2" font-size="5.5" fill="#222" transform="rotate(0.03 669 103.2)">−0.5</text>
<path d="M412.85 33V30.78H420.09V33" fill="none" stroke="#222" stroke-width="0.6" />
<path d="M427.32 33V29.94H434.56V33" fill="none" stroke="#222" stroke-width="0.6" />
<path d="M416.47 30.78V27.72H430.94V29.94" fill="none" stroke="#222" stroke-width="0.6" />
<path d="M449.03 33V29.11H456.26V33" fill="none" stroke="#222" stroke-width="0.6" />
<path d="M441.79 33V27.44H452.64V29.11" fill="none" stroke="#222" stroke-width="0.6" />
<path d="M423.71 27.72V26.47H447.22V27.44" fill="none" stroke="#222" stroke-width="0.6" />
<path d="M405.62 33V25.47H435.46V26.47" fill="none" stroke="#222" stroke-width="0.6" />
<path d="M470.73 33V29.66H477.97V33" fill="none" stroke="#222" stroke-width="0.6" />
<path d="M492.44 33V29.66H499.67V33" fill="none" stroke="#222" stroke-width="0.6" />
<path d="M485.2 33V28H496.06V29.66" fill="none" stroke="#222" stroke-width="0.6" />
<path d="M474.35 29.66V27.16H490.63V28" fill="none" stroke="#222" stroke-width="0.6" />
<path d="M463.5 33V25.77H482.49V27.16" fill="none" stroke="#222" stroke-width="0.6" />
<path d="M420.54 25.47V24.47H472.99V25.77" fill="none" stroke="#222" stroke-width="0.6" />
<path d="M506.91 33V29.11H514.14V33" fill="none" stroke="#222" stroke-width="0.6" />
<path d="M535.85 33V30.5H543.08V33" fill="none" stroke="#222" stroke-width="0.6" />
<path d="M528.61 33V28.55H539.46V30.5" fill="none" stroke="#222" stroke-width="0.6" />
<path d="M521.38 33V27.44H534.04V28.55" fill="none" stroke="#222" stroke-width="0.6" />
<path d="M510.53 29.11V26.88H527.71V27.44" fill="none" stroke="#222" stroke-width="0.6" />
<path d="M572.02 33V31.89H579.26V33" fill="none" stroke="#222" stroke-width="0.6" />
<path d="M564.79 33V28H575.64V31.89" fill="none" stroke="#222" stroke-width="0.6" />
<path d="M557.55 33V27.16H570.21V28" fill="none" stroke="#222" stroke-width="0.6" />
<path d="M550.32 33V26.05H563.88V27.16" fill="none" stroke="#222" stroke-width="0.6" />
<path d="M519.12 26.88V25.77H557.1V26.05" fill="none" stroke="#222" stroke-width="0.6" />
<path d="M600.96 33V29.66H608.2V33" fill="none" stroke="#222" stroke-width="0.6" />
<path d="M593.73 33V27.44H604.58V29.66" fill="none" stroke="#222" stroke-width="0.6" />
<path d="M586.49 33V25.3H599.15V27.44" fill="none" stroke="#222" stroke-width="0.6" />
<path d="M538.11 25.77V20.3H592.82V25.3" fill="none" stroke="#222" stroke-width="0.6" />
<path d="M446.77 24.47V5.2H565.47V20.3" fill="none" stroke="#222" stroke-width="0.6" />
<path d="M402 43.73H399.83V50.88H402" fill="none" stroke="#222" stroke-width="0.6" />
<path d="M402 58.03H399.02V65.18H402" fill="none" stroke="#222" stroke-width="0.6" />
<path d="M399.83 47.3H396.85V61.6H399.02" fill="none" stroke="#222" stroke-width="0.6" />
<path d="M402 79.47H398.21V86.62H402" fill="none" stroke="#222" stroke-width="0.6" />
<path d="M402 72.33H396.58V83.05H398.21" fill="none" stroke="#222" stroke-width="0.6" />
<path d="M396.85 54.45H395.63V77.69H396.58" fill="none" stroke="#222" stroke-width="0.6" />
<path d="M402 36.58H394.66V66.07H395.63" fill="none" stroke="#222" stroke-width="0.6" />
<path d="M402 100.92H398.75V108.08H402" fill="none" stroke="#222" stroke-width="0.6" />
<path d="M402 122.38H398.75V129.53H402" fill="none" stroke="#222" stroke-width="0.6" />
<path d="M402 115.23H397.12V125.95H398.75" fill="none" stroke="#222" stroke-width="0.6" />
<path d="M398.75 104.5H396.31V120.59H397.12" fill="none" stroke="#222" stroke-width="0.6" />
<path d="M402 93.78H394.95V112.54H396.31" fill="none" stroke="#222" stroke-width="0.6" />
<path d="M394.66 51.32H393.68V103.16H394.95" fill="none" stroke="#222" stroke-width="0.6" />
<path d="M402 136.68H398.21V143.82H402" fill="none" stroke="#222" stroke-width="0.6" />
<path d="M402 165.28H399.56V172.43H402" fill="none" stroke="#222" stroke-width="0.6" />
<path d="M402 158.12H397.66V168.85H399.56" fill="none" stroke="#222" stroke-width="0.6" />
<path d="M402 150.98H396.58V163.49H397.66" fill="none" stroke="#222" stroke-width="0.6" />
<path d="M398.21 140.25H396.04V157.23H396.58" fill="none" stroke="#222" stroke-width="0.6" />
<path d="M402 201.03H400.92V208.18H402" fill="none" stroke="#222" stroke-width="0.6" />
<path d="M402 193.88H397.12V204.6H400.92" fill="none" stroke="#222" stroke-width="0.6" />
<path d="M402 186.72H396.31V199.24H397.12" fill="none" stroke="#222" stroke-width="0.6" />
<path d="M402 179.58H395.23V192.98H396.31" fill="none" stroke="#222" stroke-width="0.6" />
<path d="M396.04 148.74H394.95V186.28H395.23" fill="none" stroke="#222" stroke-width="0.6" />
<path d="M402 229.62H398.75V236.78H402" fill="none" stroke="#222" stroke-width="0.6" />
<path d="M402 222.48H396.58V233.2H398.75" fill="none" stroke="#222" stroke-width="0.6" />
<path d="M402 215.33H394.49V227.84H396.58" fill="none" stroke="#222" stroke-width="0.6" />
<path d="M394.95 167.51H389.62V221.58H394.49" fill="none" stroke="#222" stroke-width="0.6" />
<path d="M393.68 77.24H374.9V194.55H389.62" fill="none" stroke="#222" stroke-width="0.6" />
<text class="r" x="7.8" y="281.7" font-size="7.5" fill="#000" font-weight="bold" transform="rotate(0.03 7.8 281.7)">B</text>
<line x1="35.5" y1="284.6" x2="35.5" y2="411.8" stroke="#858585" stroke-width="0.7" />
<line x1="35.2" y1="411.5" x2="175.8" y2="411.5" stroke="#858585" stroke-width="0.7" />
<text class="s" x="32.9" y="325.1" font-size="5.7" text-anchor="end" fill="#4d4d4d" transform="rotate(0.03 32.9 325.1)">20</text>
<line x1="34.2" y1="323.1" x2="35.5" y2="323.1" stroke="#555" stroke-width="0.4" />
<text class="s" x="32.9" y="366.4" font-size="5.7" text-anchor="end" fill="#4d4d4d" transform="rotate(0.03 32.9 366.4)">10</text>
<line x1="34.2" y1="364.4" x2="35.5" y2="364.4" stroke="#555" stroke-width="0.4" />
<text class="s" x="32.9" y="407.8" font-size="5.7" text-anchor="end" fill="#4d4d4d" transform="rotate(0.03 32.9 407.8)">0</text>
<line x1="34.2" y1="405.8" x2="35.5" y2="405.8" stroke="#555" stroke-width="0.4" />
<text class="r" x="18.9" y="325.5" font-size="10.6" text-anchor="middle" fill="#111" font-style="italic" transform="rotate(-89.97 18.9 325.5)">g_Bifidobacterium</text>
<line x1="62.5" y1="372.72" x2="62.5" y2="390.29" stroke="#555" stroke-width="0.7" />
<rect x="45.3" y="390.29" width="33.5" height="15.09" fill="#C9EFC4" stroke="#444" stroke-width="0.6" />
<line x1="45.3" y1="401.25" x2="78.8" y2="401.25" stroke="#333" stroke-width="0.9" />
<rect x="89.1" y="404.97" width="33.5" height="1.65" fill="#666" stroke="#444" stroke-width="0.5" />
<rect x="132.8" y="403.94" width="33" height="2.69" fill="#777" stroke="#444" stroke-width="0.5" />
<path d="M56.9 291.26H58.7M57.8 290.36V292.16" fill="none" stroke="#86C283" stroke-width="0.5" />
<circle cx="57.8" cy="291.26" r="0.55" fill="#86C283" stroke="none" stroke-width="0.3" />
<path d="M66.3 311.11H68.1M67.2 310.21V312.01" fill="none" stroke="#86C283" stroke-width="0.5" />
<circle cx="67.2" cy="311.11" r="0.55" fill="#86C283" stroke="none" stroke-width="0.3" />
<path d="M57.5 341.71H59.3M58.4 340.81V342.61" fill="none" stroke="#86C283" stroke-width="0.5" />
<circle cx="58.4" cy="341.71" r="0.55" fill="#86C283" stroke="none" stroke-width="0.3" />
<path d="M56 359.9H57.8M56.9 359V360.8" fill="none" stroke="#86C283" stroke-width="0.5" />
<circle cx="56.9" cy="359.9" r="0.55" fill="#86C283" stroke="none" stroke-width="0.3" />
<path d="M63.9 372.72H65.7M64.8 371.82V373.62" fill="none" stroke="#86C283" stroke-width="0.5" />
<circle cx="64.8" cy="372.72" r="0.55" fill="#86C283" stroke="none" stroke-width="0.3" />
<path d="M66.3 384.3H68.1M67.2 383.4V385.2" fill="none" stroke="#86C283" stroke-width="0.5" />
<circle cx="67.2" cy="384.3" r="0.55" fill="#86C283" stroke="none" stroke-width="0.3" />
<path d="M56.6 388.85H58.4M57.5 387.95V389.75" fill="none" stroke="#86C283" stroke-width="0.5" />
<circle cx="57.5" cy="388.85" r="0.55" fill="#86C283" stroke="none" stroke-width="0.3" />
<path d="M66.8 389.26H68.6M67.7 388.36V390.16" fill="none" stroke="#86C283" stroke-width="0.5" />
<circle cx="67.7" cy="389.26" r="0.55" fill="#86C283" stroke="none" stroke-width="0.3" />
<path d="M61.9 394.22H63.7M62.8 393.32V395.12" fill="none" stroke="#86C283" stroke-width="0.5" />
<circle cx="62.8" cy="394.22" r="0.55" fill="#86C283" stroke="none" stroke-width="0.3" />
<path d="M60.4 398.77H62.2M61.3 397.87V399.67" fill="none" stroke="#86C283" stroke-width="0.5" />
<circle cx="61.3" cy="398.77" r="0.55" fill="#86C283" stroke="none" stroke-width="0.3" />
<path d="M59 402.91H60.8M59.9 402.01V403.81" fill="none" stroke="#86C283" stroke-width="0.5" />
<circle cx="59.9" cy="402.91" r="0.55" fill="#86C283" stroke="none" stroke-width="0.3" />
<path d="M62.1 392.15H63.9M63 391.25V393.05" fill="none" stroke="#86C283" stroke-width="0.5" />
<circle cx="63" cy="392.15" r="0.55" fill="#86C283" stroke="none" stroke-width="0.3" />
<path d="M64.1 404.15H65.9M65 403.25V405.05" fill="none" stroke="#86C283" stroke-width="0.5" />
<circle cx="65" cy="404.15" r="0.55" fill="#86C283" stroke="none" stroke-width="0.3" />
<path d="M57.1 404.97H58.9M58 404.07V405.87" fill="none" stroke="#86C283" stroke-width="0.5" />
<circle cx="58" cy="404.97" r="0.55" fill="#86C283" stroke="none" stroke-width="0.3" />
<path d="M60.1 405.39H61.9M61 404.49V406.29" fill="none" stroke="#86C283" stroke-width="0.5" />
<circle cx="61" cy="405.39" r="0.55" fill="#86C283" stroke="none" stroke-width="0.3" />
<path d="M65.1 404.97H66.9M66 404.07V405.87" fill="none" stroke="#86C283" stroke-width="0.5" />
<circle cx="66" cy="404.97" r="0.55" fill="#86C283" stroke="none" stroke-width="0.3" />
<path d="M55.6 402.08H57.4M56.5 401.18V402.98" fill="none" stroke="#86C283" stroke-width="0.5" />
<circle cx="56.5" cy="402.08" r="0.55" fill="#86C283" stroke="none" stroke-width="0.3" />
<path d="M63.1 400.42H64.9M64 399.52V401.32" fill="none" stroke="#86C283" stroke-width="0.5" />
<circle cx="64" cy="400.42" r="0.55" fill="#86C283" stroke="none" stroke-width="0.3" />
<path d="M59.1 397.12H60.9M60 396.22V398.02" fill="none" stroke="#86C283" stroke-width="0.5" />
<circle cx="60" cy="397.12" r="0.55" fill="#86C283" stroke="none" stroke-width="0.3" />
<path d="M61.1 405.8H62.9M62 404.9V406.7" fill="none" stroke="#86C283" stroke-width="0.5" />
<circle cx="62" cy="405.8" r="0.55" fill="#86C283" stroke="none" stroke-width="0.3" />
<path d="M67.1 401.67H68.9M68 400.77V402.56" fill="none" stroke="#86C283" stroke-width="0.5" />
<circle cx="68" cy="401.67" r="0.55" fill="#86C283" stroke="none" stroke-width="0.3" />
<path d="M100.7 380.99H102.5M101.6 380.09V381.89" fill="none" stroke="#D2694A" stroke-width="0.5" />
<circle cx="101.6" cy="380.99" r="0.55" fill="#D2694A" stroke="none" stroke-width="0.3" />
<path d="M99.2 391.74H101M100.1 390.84V392.64" fill="none" stroke="#D2694A" stroke-width="0.5" />
<circle cx="100.1" cy="391.74" r="0.55" fill="#D2694A" stroke="none" stroke-width="0.3" />
<path d="M102.2 395.05H104M103.1 394.15V395.95" fill="none" stroke="#D2694A" stroke-width="0.5" />
<circle cx="103.1" cy="395.05" r="0.55" fill="#D2694A" stroke="none" stroke-width="0.3" />
<path d="M108 402.08H109.8M108.9 401.18V402.98" fill="none" stroke="#D2694A" stroke-width="0.5" />
<circle cx="108.9" cy="402.08" r="0.55" fill="#D2694A" stroke="none" stroke-width="0.3" />
<path d="M105.7 404.15H107.5M106.6 403.25V405.05" fill="none" stroke="#D2694A" stroke-width="0.5" />
<circle cx="106.6" cy="404.15" r="0.55" fill="#D2694A" stroke="none" stroke-width="0.3" />
<path d="M100.6 405.72H102.4M101.5 404.82V406.62" fill="none" stroke="#D2694A" stroke-width="0.5" />
<circle cx="101.5" cy="405.72" r="0.55" fill="#D2694A" stroke="none" stroke-width="0.3" />
<path d="M101.5 405.51H103.3M102.4 404.61V406.41" fill="none" stroke="#D2694A" stroke-width="0.5" />
<circle cx="102.4" cy="405.51" r="0.55" fill="#D2694A" stroke="none" stroke-width="0.3" />
<path d="M102.4 405.3H104.2M103.3 404.4V406.2" fill="none" stroke="#D2694A" stroke-width="0.5" />
<circle cx="103.3" cy="405.3" r="0.55" fill="#D2694A" stroke="none" stroke-width="0.3" />
<path d="M103.3 405.72H105.1M104.2 404.82V406.62" fill="none" stroke="#D2694A" stroke-width="0.5" />
<circle cx="104.2" cy="405.72" r="0.55" fill="#D2694A" stroke="none" stroke-width="0.3" />
<path d="M104.2 405.51H106M105.1 404.61V406.41" fill="none" stroke="#D2694A" stroke-width="0.5" />
<circle cx="105.1" cy="405.51" r="0.55" fill="#D2694A" stroke="none" stroke-width="0.3" />
<path d="M105.1 405.3H106.9M106 404.4V406.2" fill="none" stroke="#D2694A" stroke-width="0.5" />
<circle cx="106" cy="405.3" r="0.55" fill="#D2694A" stroke="none" stroke-width="0.3" />
<path d="M106 405.72H107.8M106.9 404.82V406.62" fill="none" stroke="#D2694A" stroke-width="0.5" />
<circle cx="106.9" cy="405.72" r="0.55" fill="#D2694A" stroke="none" stroke-width="0.3" />
<path d="M106.9 405.51H108.7M107.8 404.61V406.41" fill="none" stroke="#D2694A" stroke-width="0.5" />
<circle cx="107.8" cy="405.51" r="0.55" fill="#D2694A" stroke="none" stroke-width="0.3" />
<path d="M107.8 405.3H109.6M108.7 404.4V406.2" fill="none" stroke="#D2694A" stroke-width="0.5" />
<circle cx="108.7" cy="405.3" r="0.55" fill="#D2694A" stroke="none" stroke-width="0.3" />
<path d="M108.7 405.72H110.5M109.6 404.82V406.62" fill="none" stroke="#D2694A" stroke-width="0.5" />
<circle cx="109.6" cy="405.72" r="0.55" fill="#D2694A" stroke="none" stroke-width="0.3" />
<path d="M109.6 405.51H111.4M110.5 404.61V406.41" fill="none" stroke="#D2694A" stroke-width="0.5" />
<circle cx="110.5" cy="405.51" r="0.55" fill="#D2694A" stroke="none" stroke-width="0.3" />
<path d="M110.5 405.3H112.3M111.4 404.4V406.2" fill="none" stroke="#D2694A" stroke-width="0.5" />
<circle cx="111.4" cy="405.3" r="0.55" fill="#D2694A" stroke="none" stroke-width="0.3" />
<path d="M144.2 337.16H146M145.1 336.26V338.06" fill="none" stroke="#C3CB78" stroke-width="0.5" />
<circle cx="145.1" cy="337.16" r="0.55" fill="#C3CB78" stroke="none" stroke-width="0.3" />
<path d="M145.1 381.82H146.9M146 380.92V382.72" fill="none" stroke="#C3CB78" stroke-width="0.5" />
<circle cx="146" cy="381.82" r="0.55" fill="#C3CB78" stroke="none" stroke-width="0.3" />
<path d="M149.5 399.18H151.3M150.4 398.28V400.08" fill="none" stroke="#C3CB78" stroke-width="0.5" />
<circle cx="150.4" cy="399.18" r="0.55" fill="#C3CB78" stroke="none" stroke-width="0.3" />
<path d="M143.6 400.42H145.4M144.5 399.52V401.32" fill="none" stroke="#C3CB78" stroke-width="0.5" />
<circle cx="144.5" cy="400.42" r="0.55" fill="#C3CB78" stroke="none" stroke-width="0.3" />
<path d="M147.1 403.32H148.9M148 402.42V404.22" fill="none" stroke="#C3CB78" stroke-width="0.5" />
<circle cx="148" cy="403.32" r="0.55" fill="#C3CB78" stroke="none" stroke-width="0.3" />
<path d="M142.9 405.3H144.7M143.8 404.4V406.2" fill="none" stroke="#C3CB78" stroke-width="0.5" />
<circle cx="143.8" cy="405.3" r="0.55" fill="#C3CB78" stroke="none" stroke-width="0.3" />
<path d="M143.9 404.97H145.7M144.8 404.07V405.87" fill="none" stroke="#C3CB78" stroke-width="0.5" />
<circle cx="144.8" cy="404.97" r="0.55" fill="#C3CB78" stroke="none" stroke-width="0.3" />
<path d="M144.9 404.64H146.7M145.8 403.74V405.54" fill="none" stroke="#C3CB78" stroke-width="0.5" />
<circle cx="145.8" cy="404.64" r="0.55" fill="#C3CB78" stroke="none" stroke-width="0.3" />
<path d="M145.9 405.3H147.7M146.8 404.4V406.2" fill="none" stroke="#C3CB78" stroke-width="0.5" />
<circle cx="146.8" cy="405.3" r="0.55" fill="#C3CB78" stroke="none" stroke-width="0.3" />
<path d="M146.9 404.97H148.7M147.8 404.07V405.87" fill="none" stroke="#C3CB78" stroke-width="0.5" />
<circle cx="147.8" cy="404.97" r="0.55" fill="#C3CB78" stroke="none" stroke-width="0.3" />
<path d="M147.9 404.64H149.7M148.8 403.74V405.54" fill="none" stroke="#C3CB78" stroke-width="0.5" />
<circle cx="148.8" cy="404.64" r="0.55" fill="#C3CB78" stroke="none" stroke-width="0.3" />
<path d="M148.9 405.3H150.7M149.8 404.4V406.2" fill="none" stroke="#C3CB78" stroke-width="0.5" />
<circle cx="149.8" cy="405.3" r="0.55" fill="#C3CB78" stroke="none" stroke-width="0.3" />
<path d="M149.9 404.97H151.7M150.8 404.07V405.87" fill="none" stroke="#C3CB78" stroke-width="0.5" />
<circle cx="150.8" cy="404.97" r="0.55" fill="#C3CB78" stroke="none" stroke-width="0.3" />
<path d="M150.9 404.64H152.7M151.8 403.74V405.54" fill="none" stroke="#C3CB78" stroke-width="0.5" />
<circle cx="151.8" cy="404.64" r="0.55" fill="#C3CB78" stroke="none" stroke-width="0.3" />
<path d="M151.9 405.3H153.7M152.8 404.4V406.2" fill="none" stroke="#C3CB78" stroke-width="0.5" />
<circle cx="152.8" cy="405.3" r="0.55" fill="#C3CB78" stroke="none" stroke-width="0.3" />
<path d="M152.9 404.97H154.7M153.8 404.07V405.87" fill="none" stroke="#C3CB78" stroke-width="0.5" />
<circle cx="153.8" cy="404.97" r="0.55" fill="#C3CB78" stroke="none" stroke-width="0.3" />
<path d="M153.9 404.64H155.7M154.8 403.74V405.54" fill="none" stroke="#C3CB78" stroke-width="0.5" />
<circle cx="154.8" cy="404.64" r="0.55" fill="#C3CB78" stroke="none" stroke-width="0.3" />
<text class="r" x="72.6" y="420.7" font-size="7" text-anchor="middle" fill="#222" transform="rotate(0.03 72.6 420.7)">HC(N=32)</text>
<text class="r" x="116.2" y="420.7" font-size="7" text-anchor="middle" fill="#222" transform="rotate(0.03 116.2 420.7)">ALD(N=35)</text>
<text class="r" x="160.6" y="420.7" font-size="7" text-anchor="middle" fill="#222" transform="rotate(0.03 160.6 420.7)">HBV(N=39)</text>
<text class="s" x="176" y="288.2" font-size="4.18" text-anchor="end" fill="#111" font-style="italic" transform="rotate(0.03 176 288.2)">FDR: 2.904e-05</text>
<text class="s" x="176" y="294.1" font-size="4.18" text-anchor="end" fill="#111" font-style="italic" transform="rotate(0.03 176 294.1)">Coefficient: -4.36e+00</text>
<text class="s" x="176" y="300.2" font-size="4.18" text-anchor="end" fill="#111" font-style="italic" transform="rotate(0.03 176 300.2)">Value: ALD</text>
<text class="r" x="197.6" y="298.7" font-size="7.2" fill="#000" font-weight="bold" transform="rotate(0.03 197.6 298.7)">D</text>
<text class="r" x="390.4" y="298.7" font-size="7.2" fill="#000" font-weight="bold" transform="rotate(0.03 390.4 298.7)">E</text>
<g stroke="none">
<path d="M196.4 323.3 C195.9 318.6 200 315.9 205 315.7 C207.6 315.6 209.6 316.3 211.3 317.2 C213.4 317.7 215 319 216.2 320.4 C216.6 321 216 321.6 215 322 C213.6 322.8 212.6 324.2 211 325.6 C209 326.9 206 327.1 203 327.1 C199.5 327.1 196.8 326 196.4 323.3 Z" fill="#1c1c1c"/>
<ellipse cx="209.5" cy="317" rx="1.35" ry="1.4" fill="#4a3232"/>
<ellipse cx="207.7" cy="316.5" rx="1.0" ry="1.0" fill="#2c2222"/>
<path d="M199.3 326.6 L199.9 327.7 L201.9 327.6 L201.3 326.6 Z M210 326 L210.9 327.4 L212.7 327 L211.6 325.5 Z" fill="#8a5a55"/>
</g>
<path d="M196.6 324 C192 325.2 186 324.6 177.4 325.2" fill="none" stroke="#2a2020" stroke-width="0.55" />
<rect x="224.5" y="314.6" width="28.9" height="5.9" fill="#8CC39B" stroke="none" stroke-width="0.5" />
<rect x="253.3" y="314.6" width="114.7" height="5.9" fill="#D5405C" stroke="none" stroke-width="0.5" />
<rect x="225.5" y="316.7" width="141.6" height="1.7" fill="#fff" stroke="none" stroke-width="0.5" />
<text class="r" x="224.6" y="329.5" font-size="6.3" text-anchor="middle" fill="#222" transform="rotate(0.03 224.6 329.5)">-2</text>
<line x1="224.6" y1="321.2" x2="224.6" y2="323.2" stroke="#999" stroke-width="0.4" />
<text class="r" x="238.9" y="329.5" font-size="6.3" text-anchor="middle" fill="#222" transform="rotate(0.03 238.9 329.5)">-1</text>
<line x1="238.9" y1="321.2" x2="238.9" y2="323.2" stroke="#999" stroke-width="0.4" />
<text class="r" x="253.2" y="329.5" font-size="6.3" text-anchor="middle" fill="#222" transform="rotate(0.03 253.2 329.5)">0</text>
<line x1="253.2" y1="321.2" x2="253.2" y2="323.2" stroke="#999" stroke-width="0.4" />
<text class="r" x="267.5" y="329.5" font-size="6.3" text-anchor="middle" fill="#222" transform="rotate(0.03 267.5 329.5)">1</text>
<line x1="267.5" y1="321.2" x2="267.5" y2="323.2" stroke="#999" stroke-width="0.4" />
<text class="r" x="281.8" y="329.5" font-size="6.3" text-anchor="middle" fill="#222" transform="rotate(0.03 281.8 329.5)">2</text>
<line x1="281.8" y1="321.2" x2="281.8" y2="323.2" stroke="#999" stroke-width="0.4" />
<text class="r" x="296.1" y="329.5" font-size="6.3" text-anchor="middle" fill="#222" transform="rotate(0.03 296.1 329.5)">3</text>
<line x1="296.1" y1="321.2" x2="296.1" y2="323.2" stroke="#999" stroke-width="0.4" />
<text class="r" x="310.4" y="329.5" font-size="6.3" text-anchor="middle" fill="#222" transform="rotate(0.03 310.4 329.5)">4</text>
<line x1="310.4" y1="321.2" x2="310.4" y2="323.2" stroke="#999" stroke-width="0.4" />
<text class="r" x="324.7" y="329.5" font-size="6.3" text-anchor="middle" fill="#222" transform="rotate(0.03 324.7 329.5)">5</text>
<line x1="324.7" y1="321.2" x2="324.7" y2="323.2" stroke="#999" stroke-width="0.4" />
<text class="r" x="339" y="329.5" font-size="6.3" text-anchor="middle" fill="#222" transform="rotate(0.03 339 329.5)">6</text>
<line x1="339" y1="321.2" x2="339" y2="323.2" stroke="#999" stroke-width="0.4" />
<text class="r" x="353.3" y="329.5" font-size="6.3" text-anchor="middle" fill="#222" transform="rotate(0.03 353.3 329.5)">7</text>
<line x1="353.3" y1="321.2" x2="353.3" y2="323.2" stroke="#999" stroke-width="0.4" />
<text class="r" x="367.6" y="329.5" font-size="6.3" text-anchor="middle" fill="#222" transform="rotate(0.03 367.6 329.5)">8</text>
<line x1="367.6" y1="321.2" x2="367.6" y2="323.2" stroke="#999" stroke-width="0.4" />
<text class="r" x="371.6" y="328.9" font-size="5.9" fill="#222" transform="rotate(0.03 371.6 328.9)">(weeks)</text>
<rect x="224.6" y="332.6" width="28.6" height="7.6" fill="#CFD7F7" stroke="none" stroke-width="0.5" />
<text class="r" x="238.9" y="337.4" font-size="3.2" text-anchor="middle" fill="#456" font-style="italic" transform="rotate(0.03 238.9 337.4)">LD Control</text>
<rect x="253.2" y="332.6" width="114.6" height="7.6" fill="#90C098" stroke="none" stroke-width="0.5" />
<text class="r" x="304" y="337.4" font-size="3.1" text-anchor="middle" fill="#333" font-style="italic" transform="rotate(0.03 304 337.4)">LD Control  PBS</text>
<text class="r" x="217.2" y="337.9" font-size="4.5" text-anchor="end" fill="#222" transform="rotate(0.03 217.2 337.9)">NC</text>
<rect x="224.6" y="343.7" width="14.2" height="7.2" fill="#CFD7F7" stroke="none" stroke-width="0.5" />
<rect x="238.8" y="343.7" width="14.4" height="7.2" fill="#F5E7A3" stroke="none" stroke-width="0.5" />
<text class="r" x="231.7" y="348.2" font-size="2.8" text-anchor="middle" fill="#456" font-style="italic" transform="rotate(0.03 231.7 348.2)">LD Control</text>
<text class="r" x="246" y="346.9" font-size="3.1" text-anchor="middle" fill="#654" font-style="italic" transform="rotate(0.03 246 346.9)">Alcohol</text>
<text class="r" x="246" y="349.8" font-size="3.1" text-anchor="middle" fill="#654" font-style="italic" transform="rotate(0.03 246 349.8)">adaptation</text>
<rect x="253.2" y="343.7" width="114.6" height="7.2" fill="#EDCAD9" stroke="none" stroke-width="0.5" />
<text class="r" x="304" y="348.3" font-size="3.1" text-anchor="middle" fill="#333" font-style="italic" transform="rotate(0.03 304 348.3)">LD Ethanol  PBS</text>
<text class="r" x="217.2" y="348.8" font-size="4.5" text-anchor="end" fill="#222" transform="rotate(0.03 217.2 348.8)">PC</text>
<rect x="224.6" y="355" width="14.2" height="7.1" fill="#CFD7F7" stroke="none" stroke-width="0.5" />
<rect x="238.8" y="355" width="14.4" height="7.1" fill="#F5E7A3" stroke="none" stroke-width="0.5" />
<text class="r" x="231.7" y="359.45" font-size="2.8" text-anchor="middle" fill="#456" font-style="italic" transform="rotate(0.03 231.7 359.45)">LD Control</text>
<text class="r" x="246" y="358.15" font-size="3.1" text-anchor="middle" fill="#654" font-style="italic" transform="rotate(0.03 246 358.15)">Alcohol</text>
<text class="r" x="246" y="361.05" font-size="3.1" text-anchor="middle" fill="#654" font-style="italic" transform="rotate(0.03 246 361.05)">adaptation</text>
<rect x="253.2" y="355" width="114.6" height="7.1" fill="#7FAFD3" stroke="none" stroke-width="0.5" />
<text class="r" x="304" y="359.55" font-size="3.1" text-anchor="middle" fill="#333" font-style="italic" transform="rotate(0.03 304 359.55)">LD Ethanol  B. pseudocatenulatum</text>
<text class="r" x="178" y="360.15" font-size="5.1" fill="#222" font-style="italic" transform="rotate(0.03 178 360.15)">B. pseudocatenulatum</text>
<rect x="224.6" y="365.1" width="14.2" height="7" fill="#CFD7F7" stroke="none" stroke-width="0.5" />
<rect x="238.8" y="365.1" width="14.4" height="7" fill="#F5E7A3" stroke="none" stroke-width="0.5" />
<text class="r" x="231.7" y="369.5" font-size="2.8" text-anchor="middle" fill="#456" font-style="italic" transform="rotate(0.03 231.7 369.5)">LD Control</text>
<text class="r" x="246" y="368.2" font-size="3.1" text-anchor="middle" fill="#654" font-style="italic" transform="rotate(0.03 246 368.2)">Alcohol</text>
<text class="r" x="246" y="371.1" font-size="3.1" text-anchor="middle" fill="#654" font-style="italic" transform="rotate(0.03 246 371.1)">adaptation</text>
<rect x="253.2" y="365.1" width="114.6" height="7" fill="#DADADA" stroke="none" stroke-width="0.5" />
<text class="r" x="304" y="369.6" font-size="3.1" text-anchor="middle" fill="#333" font-style="italic" transform="rotate(0.03 304 369.6)">LD Ethanol  B. longum</text>
<text class="r" x="178" y="370.2" font-size="5.1" fill="#222" font-style="italic" transform="rotate(0.03 178 370.2)">B.longum</text>
<rect x="224.6" y="375.9" width="14.2" height="7" fill="#CFD7F7" stroke="none" stroke-width="0.5" />
<rect x="238.8" y="375.9" width="14.4" height="7" fill="#F5E7A3" stroke="none" stroke-width="0.5" />
<text class="r" x="231.7" y="380.3" font-size="2.8" text-anchor="middle" fill="#456" font-style="italic" transform="rotate(0.03 231.7 380.3)">LD Control</text>
<text class="r" x="246" y="379" font-size="3.1" text-anchor="middle" fill="#654" font-style="italic" transform="rotate(0.03 246 379)">Alcohol</text>
<text class="r" x="246" y="381.9" font-size="3.1" text-anchor="middle" fill="#654" font-style="italic" transform="rotate(0.03 246 381.9)">adaptation</text>
<rect x="253.2" y="375.9" width="114.6" height="7" fill="#F1D68E" stroke="none" stroke-width="0.5" />
<text class="r" x="304" y="380.4" font-size="3.1" text-anchor="middle" fill="#333" font-style="italic" transform="rotate(0.03 304 380.4)">LD Ethanol  B. adolescentis</text>
<text class="r" x="178" y="381" font-size="5.1" fill="#222" font-style="italic" transform="rotate(0.03 178 381)">B. adolescentis</text>
<line x1="367.9" y1="332" x2="367.9" y2="384.5" stroke="#5d8a3a" stroke-width="0.6" stroke-dasharray="1.2 0.8"/>
<line x1="245.3" y1="384" x2="245.3" y2="417" stroke="#4d6b2a" stroke-width="0.6" stroke-dasharray="1.2 0.8"/>
<path d="M222.5 432.3H255.2V424H272.9V415.3H290.9V406.7H307.6V397.7H331.7V432.3H255.2" fill="none" stroke="#111" stroke-width="0.9" />
<text class="r" x="238.5" y="430.8" font-size="2.7" text-anchor="middle" fill="#222" font-weight="bold" transform="rotate(0.03 238.5 430.8)">Ready for LD control Diet</text>
<text class="r" x="263.1" y="415.5" font-size="2.8" text-anchor="middle" fill="#111" font-weight="bold" transform="rotate(0.03 263.1 415.5)">Ethanol</text>
<text class="r" x="263.1" y="418.7" font-size="2.8" text-anchor="middle" fill="#111" font-weight="bold" transform="rotate(0.03 263.1 418.7)">1.0% (vol/vol)</text>
<text class="r" x="263.1" y="421.9" font-size="2.8" text-anchor="middle" fill="#111" font-weight="bold" transform="rotate(0.03 263.1 421.9)">2 days</text>
<text class="r" x="280.1" y="406.8" font-size="2.8" text-anchor="middle" fill="#111" font-weight="bold" transform="rotate(0.03 280.1 406.8)">Ethanol</text>
<text class="r" x="280.1" y="410" font-size="2.8" text-anchor="middle" fill="#111" font-weight="bold" transform="rotate(0.03 280.1 410)">2.0% (vol/vol)</text>
<text class="r" x="280.1" y="413.2" font-size="2.8" text-anchor="middle" fill="#111" font-weight="bold" transform="rotate(0.03 280.1 413.2)">2 days</text>
<text class="r" x="296.8" y="398.4" font-size="2.8" text-anchor="middle" fill="#111" font-weight="bold" transform="rotate(0.03 296.8 398.4)">Ethanol</text>
<text class="r" x="296.8" y="401.6" font-size="2.8" text-anchor="middle" fill="#111" font-weight="bold" transform="rotate(0.03 296.8 401.6)">3.0% (vol/vol)</text>
<text class="r" x="296.8" y="404.8" font-size="2.8" text-anchor="middle" fill="#111" font-weight="bold" transform="rotate(0.03 296.8 404.8)">2 days</text>
<text class="r" x="320" y="389.4" font-size="2.8" text-anchor="middle" fill="#111" font-weight="bold" transform="rotate(0.03 320 389.4)">Ethanol</text>
<text class="r" x="320" y="392.6" font-size="2.8" text-anchor="middle" fill="#111" font-weight="bold" transform="rotate(0.03 320 392.6)">5.0% (vol/vol)</text>
<text class="r" x="320" y="395.8" font-size="2.8" text-anchor="middle" fill="#111" font-weight="bold" transform="rotate(0.03 320 395.8)">From week 0 onward</text>
<text class="r" x="305.5" y="421.8" font-size="3.8" text-anchor="middle" fill="#222" font-weight="bold" transform="rotate(0.03 305.5 421.8)">Adaptive Feeding Process</text>
<text class="r" x="367.2" y="399.5" font-size="3.9" text-anchor="middle" fill="#111" font-weight="bold" transform="rotate(0.03 367.2 399.5)">A single dose of Ethanol/Maltodextrin</text>
<text class="r" x="367.2" y="404.2" font-size="3.9" text-anchor="middle" fill="#111" font-weight="bold" transform="rotate(0.03 367.2 404.2)">(5 g/kg body weight)</text>
<text class="r" x="367.2" y="408.8" font-size="3.9" text-anchor="middle" fill="#111" font-weight="bold" font-style="italic" transform="rotate(0.03 367.2 408.8)">9 hours later sacrificed</text>
<rect x="426.5" y="355.05" width="19.4" height="12.25" fill="#8FC796" stroke="#000" stroke-width="0.6" />
<line x1="436.2" y1="354.57" x2="436.2" y2="355.52" stroke="#000" stroke-width="0.5" />
<line x1="433.9" y1="354.57" x2="438.5" y2="354.57" stroke="#000" stroke-width="0.5" />
<line x1="433.9" y1="355.52" x2="438.5" y2="355.52" stroke="#000" stroke-width="0.5" />
<line x1="432" y1="355.05" x2="440.4" y2="355.05" stroke="#000" stroke-width="0.5" />
<circle cx="437.76" cy="356.7" r="1.15" fill="#000" stroke="none" stroke-width="0.3" />
<circle cx="428.03" cy="356.23" r="1.15" fill="#000" stroke="none" stroke-width="0.3" />
<circle cx="430.75" cy="355.75" r="1.15" fill="#000" stroke="none" stroke-width="0.3" />
<circle cx="444.09" cy="355.28" r="1.15" fill="#000" stroke="none" stroke-width="0.3" />
<circle cx="442.04" cy="354.81" r="1.15" fill="#000" stroke="none" stroke-width="0.3" />
<circle cx="439.92" cy="354.34" r="1.15" fill="#000" stroke="none" stroke-width="0.3" />
<circle cx="434.65" cy="353.86" r="1.15" fill="#000" stroke="none" stroke-width="0.3" />
<circle cx="433.05" cy="352.98" r="1.15" fill="#000" stroke="none" stroke-width="0.3" />
<line x1="436.2" y1="367.3" x2="436.2" y2="368.7" stroke="#000" stroke-width="0.5" />
<rect x="454.6" y="335.55" width="19.1" height="31.75" fill="#D4839D" stroke="#C9C9C9" stroke-width="0.6" />
<line x1="464.15" y1="332.77" x2="464.15" y2="338.34" stroke="#000" stroke-width="0.5" />
<line x1="461.85" y1="332.77" x2="466.45" y2="332.77" stroke="#000" stroke-width="0.5" />
<line x1="461.85" y1="338.34" x2="466.45" y2="338.34" stroke="#000" stroke-width="0.5" />
<line x1="459.95" y1="335.55" x2="468.35" y2="335.55" stroke="#000" stroke-width="0.5" />
<rect x="462.13" y="344.18" width="2.3" height="2.3" fill="#000" stroke="none" stroke-width="0.5" />
<rect x="469.13" y="341.38" width="2.3" height="2.3" fill="#000" stroke="none" stroke-width="0.5" />
<rect x="460.76" y="338.59" width="2.3" height="2.3" fill="#000" stroke="none" stroke-width="0.5" />
<rect x="463.74" y="335.8" width="2.3" height="2.3" fill="#000" stroke="none" stroke-width="0.5" />
<rect x="465.41" y="333" width="2.3" height="2.3" fill="#000" stroke="none" stroke-width="0.5" />
<rect x="459.27" y="330.21" width="2.3" height="2.3" fill="#000" stroke="none" stroke-width="0.5" />
<rect x="457.3" y="327.42" width="2.3" height="2.3" fill="#000" stroke="none" stroke-width="0.5" />
<rect x="467.25" y="322.18" width="2.3" height="2.3" fill="#000" stroke="none" stroke-width="0.5" />
<line x1="464.15" y1="367.3" x2="464.15" y2="368.7" stroke="#000" stroke-width="0.5" />
<rect x="482.1" y="354.49" width="19.9" height="12.81" fill="#7BAFD5" stroke="#C9C9C9" stroke-width="0.6" />
<line x1="492.05" y1="352.99" x2="492.05" y2="355.99" stroke="#000" stroke-width="0.5" />
<line x1="489.75" y1="352.99" x2="494.35" y2="352.99" stroke="#000" stroke-width="0.5" />
<line x1="489.75" y1="355.99" x2="494.35" y2="355.99" stroke="#000" stroke-width="0.5" />
<line x1="487.85" y1="354.49" x2="496.25" y2="354.49" stroke="#000" stroke-width="0.5" />
<path d="M489.22 358.35L490.52 360.65H487.92Z" fill="#000"/>
<path d="M498.2 356.85L499.5 359.15H496.9Z" fill="#000"/>
<path d="M491.12 355.34L492.42 357.64H489.82Z" fill="#000"/>
<path d="M492.62 353.84L493.92 356.14H491.32Z" fill="#000"/>
<path d="M496.45 352.34L497.75 354.64H495.15Z" fill="#000"/>
<path d="M487.76 350.83L489.06 353.13H486.46Z" fill="#000"/>
<path d="M486.34 349.33L487.64 351.63H485.04Z" fill="#000"/>
<path d="M494.27 346.51L495.57 348.81H492.97Z" fill="#000"/>
<line x1="492.05" y1="367.3" x2="492.05" y2="368.7" stroke="#000" stroke-width="0.5" />
<line x1="422.2" y1="311.3" x2="422.2" y2="367.3" stroke="#000" stroke-width="0.75" />
<line x1="421.9" y1="367.3" x2="505.2" y2="367.3" stroke="#000" stroke-width="0.75" />
<line x1="420.7" y1="367.3" x2="422.2" y2="367.3" stroke="#000" stroke-width="0.65" />
<text class="s" x="420.4" y="368.55" font-size="3.7" text-anchor="end" fill="#000" font-weight="bold" transform="rotate(0.03 420.4 368.55)">0</text>
<line x1="420.7" y1="356.16" x2="422.2" y2="356.16" stroke="#000" stroke-width="0.65" />
<text class="s" x="420.4" y="357.41" font-size="3.7" text-anchor="end" fill="#000" font-weight="bold" transform="rotate(0.03 420.4 357.41)">20</text>
<line x1="420.7" y1="345.02" x2="422.2" y2="345.02" stroke="#000" stroke-width="0.65" />
<text class="s" x="420.4" y="346.27" font-size="3.7" text-anchor="end" fill="#000" font-weight="bold" transform="rotate(0.03 420.4 346.27)">40</text>
<line x1="420.7" y1="333.88" x2="422.2" y2="333.88" stroke="#000" stroke-width="0.65" />
<text class="s" x="420.4" y="335.13" font-size="3.7" text-anchor="end" fill="#000" font-weight="bold" transform="rotate(0.03 420.4 335.13)">60</text>
<line x1="420.7" y1="322.74" x2="422.2" y2="322.74" stroke="#000" stroke-width="0.65" />
<text class="s" x="420.4" y="323.99" font-size="3.7" text-anchor="end" fill="#000" font-weight="bold" transform="rotate(0.03 420.4 323.99)">80</text>
<line x1="420.7" y1="311.6" x2="422.2" y2="311.6" stroke="#000" stroke-width="0.65" />
<text class="s" x="420.4" y="312.85" font-size="3.7" text-anchor="end" fill="#000" font-weight="bold" transform="rotate(0.03 420.4 312.85)">100</text>
<text class="s" x="407.3" y="319.6" font-size="4.6" text-anchor="middle" fill="#000" transform="rotate(-89.97 407.3 319.6)">ALT(IU/L)</text>
<path d="M430.3 313V311.2H462.9V313" fill="none" stroke="#000" stroke-width="0.75" />
<text class="s" x="446.6" y="308.3" font-size="5" text-anchor="middle" fill="#000" font-weight="bold" transform="rotate(0.03 446.6 308.3)">**</text>
<path d="M464.1 313V311.2H494.8V313" fill="none" stroke="#000" stroke-width="0.75" />
<text class="s" x="479.45" y="308.3" font-size="5" text-anchor="middle" fill="#000" font-weight="bold" transform="rotate(0.03 479.45 308.3)">**</text>
<rect x="519.2" y="355.29" width="18.8" height="12.01" fill="#8FC796" stroke="#000" stroke-width="0.6" />
<line x1="528.6" y1="354.83" x2="528.6" y2="355.75" stroke="#000" stroke-width="0.5" />
<line x1="526.3" y1="354.83" x2="530.9" y2="354.83" stroke="#000" stroke-width="0.5" />
<line x1="526.3" y1="355.75" x2="530.9" y2="355.75" stroke="#000" stroke-width="0.5" />
<line x1="524.4" y1="355.29" x2="532.8" y2="355.29" stroke="#000" stroke-width="0.5" />
<circle cx="525.26" cy="356.91" r="1.15" fill="#000" stroke="none" stroke-width="0.3" />
<circle cx="534.15" cy="356.45" r="1.15" fill="#000" stroke="none" stroke-width="0.3" />
<circle cx="536.37" cy="355.98" r="1.15" fill="#000" stroke="none" stroke-width="0.3" />
<circle cx="520.42" cy="355.52" r="1.15" fill="#000" stroke="none" stroke-width="0.3" />
<circle cx="529.76" cy="355.06" r="1.15" fill="#000" stroke="none" stroke-width="0.3" />
<circle cx="531.82" cy="354.59" r="1.15" fill="#000" stroke="none" stroke-width="0.3" />
<circle cx="523.32" cy="354.13" r="1.15" fill="#000" stroke="none" stroke-width="0.3" />
<circle cx="527.47" cy="353.26" r="1.15" fill="#000" stroke="none" stroke-width="0.3" />
<line x1="528.6" y1="367.3" x2="528.6" y2="368.7" stroke="#000" stroke-width="0.5" />
<rect x="545.8" y="336.18" width="18.6" height="31.12" fill="#D4839D" stroke="#C9C9C9" stroke-width="0.6" />
<line x1="555.1" y1="333.45" x2="555.1" y2="338.91" stroke="#000" stroke-width="0.5" />
<line x1="552.8" y1="333.45" x2="557.4" y2="333.45" stroke="#000" stroke-width="0.5" />
<line x1="552.8" y1="338.91" x2="557.4" y2="338.91" stroke="#000" stroke-width="0.5" />
<line x1="550.9" y1="336.18" x2="559.3" y2="336.18" stroke="#000" stroke-width="0.5" />
<rect x="550.14" y="344.61" width="2.3" height="2.3" fill="#000" stroke="none" stroke-width="0.5" />
<rect x="555.14" y="341.87" width="2.3" height="2.3" fill="#000" stroke="none" stroke-width="0.5" />
<rect x="559.53" y="339.13" width="2.3" height="2.3" fill="#000" stroke="none" stroke-width="0.5" />
<rect x="548.36" y="336.4" width="2.3" height="2.3" fill="#000" stroke="none" stroke-width="0.5" />
<rect x="551.6" y="333.66" width="2.3" height="2.3" fill="#000" stroke="none" stroke-width="0.5" />
<rect x="558.13" y="330.92" width="2.3" height="2.3" fill="#000" stroke="none" stroke-width="0.5" />
<rect x="552.93" y="328.18" width="2.3" height="2.3" fill="#000" stroke="none" stroke-width="0.5" />
<rect x="556.43" y="323.05" width="2.3" height="2.3" fill="#000" stroke="none" stroke-width="0.5" />
<line x1="555.1" y1="367.3" x2="555.1" y2="368.7" stroke="#000" stroke-width="0.5" />
<rect x="573.4" y="357.2" width="18.3" height="10.1" fill="#DCDCDC" stroke="#C9C9C9" stroke-width="0.6" />
<line x1="582.55" y1="356.78" x2="582.55" y2="357.62" stroke="#000" stroke-width="0.5" />
<line x1="580.25" y1="356.78" x2="584.85" y2="356.78" stroke="#000" stroke-width="0.5" />
<line x1="580.25" y1="357.62" x2="584.85" y2="357.62" stroke="#000" stroke-width="0.5" />
<line x1="578.35" y1="357.2" x2="586.75" y2="357.2" stroke="#000" stroke-width="0.5" />
<path d="M577.27 357.27L578.57 359.57H575.97Z" fill="#000"/>
<path d="M582.11 356.85L583.41 359.15H580.81Z" fill="#000"/>
<path d="M583.13 356.43L584.43 358.73H581.83Z" fill="#000"/>
<path d="M579.93 356.01L581.23 358.31H578.63Z" fill="#000"/>
<path d="M586.81 355.59L588.11 357.89H585.51Z" fill="#000"/>
<path d="M584.64 355.17L585.94 357.47H583.34Z" fill="#000"/>
<path d="M587.98 354.75L589.28 357.05H586.68Z" fill="#000"/>
<path d="M578.36 353.96L579.66 356.26H577.06Z" fill="#000"/>
<line x1="582.55" y1="367.3" x2="582.55" y2="368.7" stroke="#000" stroke-width="0.5" />
<line x1="514.3" y1="312.4" x2="514.3" y2="367.3" stroke="#000" stroke-width="0.75" />
<line x1="514" y1="367.3" x2="596" y2="367.3" stroke="#000" stroke-width="0.75" />
<line x1="512.8" y1="367.3" x2="514.3" y2="367.3" stroke="#000" stroke-width="0.65" />
<text class="s" x="512.5" y="368.55" font-size="3.7" text-anchor="end" fill="#000" font-weight="bold" transform="rotate(0.03 512.5 368.55)">0</text>
<line x1="512.8" y1="356.38" x2="514.3" y2="356.38" stroke="#000" stroke-width="0.65" />
<text class="s" x="512.5" y="357.63" font-size="3.7" text-anchor="end" fill="#000" font-weight="bold" transform="rotate(0.03 512.5 357.63)">20</text>
<line x1="512.8" y1="345.46" x2="514.3" y2="345.46" stroke="#000" stroke-width="0.65" />
<text class="s" x="512.5" y="346.71" font-size="3.7" text-anchor="end" fill="#000" font-weight="bold" transform="rotate(0.03 512.5 346.71)">40</text>
<line x1="512.8" y1="334.54" x2="514.3" y2="334.54" stroke="#000" stroke-width="0.65" />
<text class="s" x="512.5" y="335.79" font-size="3.7" text-anchor="end" fill="#000" font-weight="bold" transform="rotate(0.03 512.5 335.79)">60</text>
<line x1="512.8" y1="323.62" x2="514.3" y2="323.62" stroke="#000" stroke-width="0.65" />
<text class="s" x="512.5" y="324.87" font-size="3.7" text-anchor="end" fill="#000" font-weight="bold" transform="rotate(0.03 512.5 324.87)">80</text>
<line x1="512.8" y1="312.7" x2="514.3" y2="312.7" stroke="#000" stroke-width="0.65" />
<text class="s" x="512.5" y="313.95" font-size="3.7" text-anchor="end" fill="#000" font-weight="bold" transform="rotate(0.03 512.5 313.95)">100</text>
<text class="s" x="505.8" y="319.6" font-size="4.6" text-anchor="middle" fill="#000" transform="rotate(-89.97 505.8 319.6)">ALT(IU/L)</text>
<path d="M522.9 312.6V310.8H555.8V312.6" fill="none" stroke="#000" stroke-width="0.75" />
<text class="s" x="539.35" y="307.9" font-size="5" text-anchor="middle" fill="#000" font-weight="bold" transform="rotate(0.03 539.35 307.9)">**</text>
<path d="M557.6 312.6V310.8H589.1V312.6" fill="none" stroke="#000" stroke-width="0.75" />
<text class="s" x="573.35" y="307.9" font-size="5" text-anchor="middle" fill="#000" font-weight="bold" transform="rotate(0.03 573.35 307.9)">**</text>
<rect x="609.1" y="356.17" width="17.4" height="10.93" fill="#8FC796" stroke="#000" stroke-width="0.6" />
<line x1="617.8" y1="355.75" x2="617.8" y2="356.59" stroke="#000" stroke-width="0.5" />
<line x1="615.5" y1="355.75" x2="620.1" y2="355.75" stroke="#000" stroke-width="0.5" />
<line x1="615.5" y1="356.59" x2="620.1" y2="356.59" stroke="#000" stroke-width="0.5" />
<line x1="613.6" y1="356.17" x2="622" y2="356.17" stroke="#000" stroke-width="0.5" />
<circle cx="623.33" cy="357.64" r="1.15" fill="#000" stroke="none" stroke-width="0.3" />
<circle cx="614.66" cy="357.22" r="1.15" fill="#000" stroke="none" stroke-width="0.3" />
<circle cx="625.01" cy="356.8" r="1.15" fill="#000" stroke="none" stroke-width="0.3" />
<circle cx="616.55" cy="356.38" r="1.15" fill="#000" stroke="none" stroke-width="0.3" />
<circle cx="612.88" cy="355.96" r="1.15" fill="#000" stroke="none" stroke-width="0.3" />
<circle cx="618.57" cy="355.53" r="1.15" fill="#000" stroke="none" stroke-width="0.3" />
<circle cx="620.59" cy="355.11" r="1.15" fill="#000" stroke="none" stroke-width="0.3" />
<circle cx="610.74" cy="354.32" r="1.15" fill="#000" stroke="none" stroke-width="0.3" />
<line x1="617.8" y1="367.1" x2="617.8" y2="368.5" stroke="#000" stroke-width="0.5" />
<rect x="634.5" y="339.27" width="17.2" height="27.83" fill="#D4839D" stroke="#C9C9C9" stroke-width="0.6" />
<line x1="643.1" y1="336.78" x2="643.1" y2="341.75" stroke="#000" stroke-width="0.5" />
<line x1="640.8" y1="336.78" x2="645.4" y2="336.78" stroke="#000" stroke-width="0.5" />
<line x1="640.8" y1="341.75" x2="645.4" y2="341.75" stroke="#000" stroke-width="0.5" />
<line x1="638.9" y1="339.27" x2="647.3" y2="339.27" stroke="#000" stroke-width="0.5" />
<rect x="642.31" y="346.84" width="2.3" height="2.3" fill="#000" stroke="none" stroke-width="0.5" />
<rect x="638.06" y="344.35" width="2.3" height="2.3" fill="#000" stroke="none" stroke-width="0.5" />
<rect x="641.13" y="341.86" width="2.3" height="2.3" fill="#000" stroke="none" stroke-width="0.5" />
<rect x="644.46" y="339.36" width="2.3" height="2.3" fill="#000" stroke="none" stroke-width="0.5" />
<rect x="645.75" y="336.87" width="2.3" height="2.3" fill="#000" stroke="none" stroke-width="0.5" />
<rect x="639.46" y="334.38" width="2.3" height="2.3" fill="#000" stroke="none" stroke-width="0.5" />
<rect x="636.51" y="331.89" width="2.3" height="2.3" fill="#000" stroke="none" stroke-width="0.5" />
<rect x="647.29" y="327.22" width="2.3" height="2.3" fill="#000" stroke="none" stroke-width="0.5" />
<line x1="643.1" y1="367.1" x2="643.1" y2="368.5" stroke="#000" stroke-width="0.5" />
<rect x="660.2" y="343.74" width="17" height="23.36" fill="#F3D58C" stroke="#C9C9C9" stroke-width="0.6" />
<line x1="668.7" y1="342.02" x2="668.7" y2="345.46" stroke="#000" stroke-width="0.5" />
<line x1="666.4" y1="342.02" x2="671" y2="342.02" stroke="#000" stroke-width="0.5" />
<line x1="666.4" y1="345.46" x2="671" y2="345.46" stroke="#000" stroke-width="0.5" />
<line x1="664.5" y1="343.74" x2="672.9" y2="343.74" stroke="#000" stroke-width="0.5" />
<path d="M671.21 348.38L672.51 350.68H669.91Z" fill="#000"/>
<path d="M672.24 346.65L673.54 348.95H670.94Z" fill="#000"/>
<path d="M673.52 344.93L674.82 347.23H672.22Z" fill="#000"/>
<path d="M667.87 343.2L669.17 345.5H666.57Z" fill="#000"/>
<path d="M669.65 341.48L670.95 343.78H668.35Z" fill="#000"/>
<path d="M665.04 339.75L666.34 342.05H663.74Z" fill="#000"/>
<path d="M666.84 338.03L668.14 340.33H665.54Z" fill="#000"/>
<path d="M663.58 334.79L664.88 337.09H662.28Z" fill="#000"/>
<line x1="668.7" y1="367.1" x2="668.7" y2="368.5" stroke="#000" stroke-width="0.5" />
<line x1="604.6" y1="317.1" x2="604.6" y2="367.1" stroke="#000" stroke-width="0.75" />
<line x1="604.3" y1="367.1" x2="681.5" y2="367.1" stroke="#000" stroke-width="0.75" />
<line x1="603.1" y1="367.1" x2="604.6" y2="367.1" stroke="#000" stroke-width="0.65" />
<text class="s" x="602.8" y="368.35" font-size="3.7" text-anchor="end" fill="#000" font-weight="bold" transform="rotate(0.03 602.8 368.35)">0</text>
<line x1="603.1" y1="357.16" x2="604.6" y2="357.16" stroke="#000" stroke-width="0.65" />
<text class="s" x="602.8" y="358.41" font-size="3.7" text-anchor="end" fill="#000" font-weight="bold" transform="rotate(0.03 602.8 358.41)">20</text>
<line x1="603.1" y1="347.22" x2="604.6" y2="347.22" stroke="#000" stroke-width="0.65" />
<text class="s" x="602.8" y="348.47" font-size="3.7" text-anchor="end" fill="#000" font-weight="bold" transform="rotate(0.03 602.8 348.47)">40</text>
<line x1="603.1" y1="337.28" x2="604.6" y2="337.28" stroke="#000" stroke-width="0.65" />
<text class="s" x="602.8" y="338.53" font-size="3.7" text-anchor="end" fill="#000" font-weight="bold" transform="rotate(0.03 602.8 338.53)">60</text>
<line x1="603.1" y1="327.34" x2="604.6" y2="327.34" stroke="#000" stroke-width="0.65" />
<text class="s" x="602.8" y="328.59" font-size="3.7" text-anchor="end" fill="#000" font-weight="bold" transform="rotate(0.03 602.8 328.59)">80</text>
<line x1="603.1" y1="317.4" x2="604.6" y2="317.4" stroke="#000" stroke-width="0.65" />
<text class="s" x="602.8" y="318.65" font-size="3.7" text-anchor="end" fill="#000" font-weight="bold" transform="rotate(0.03 602.8 318.65)">100</text>
<text class="s" x="594" y="322" font-size="4.6" text-anchor="middle" fill="#000" transform="rotate(-89.97 594 322)">ALT(IU/L)</text>
<path d="M610.1 312.4V310.6H642.5V312.4" fill="none" stroke="#000" stroke-width="0.75" />
<text class="s" x="626.3" y="307.7" font-size="5" text-anchor="middle" fill="#000" font-weight="bold" transform="rotate(0.03 626.3 307.7)">**</text>
<rect x="426.4" y="425.68" width="18.7" height="14.82" fill="#8FC796" stroke="#000" stroke-width="0.6" />
<line x1="435.75" y1="424.85" x2="435.75" y2="426.51" stroke="#000" stroke-width="0.5" />
<line x1="433.45" y1="424.85" x2="438.05" y2="424.85" stroke="#000" stroke-width="0.5" />
<line x1="433.45" y1="426.51" x2="438.05" y2="426.51" stroke="#000" stroke-width="0.5" />
<line x1="431.55" y1="425.68" x2="439.95" y2="425.68" stroke="#000" stroke-width="0.5" />
<circle cx="434.53" cy="428.59" r="1.15" fill="#000" stroke="none" stroke-width="0.3" />
<circle cx="427.6" cy="427.76" r="1.15" fill="#000" stroke="none" stroke-width="0.3" />
<circle cx="439.29" cy="426.92" r="1.15" fill="#000" stroke="none" stroke-width="0.3" />
<circle cx="429.95" cy="426.09" r="1.15" fill="#000" stroke="none" stroke-width="0.3" />
<circle cx="443.46" cy="425.26" r="1.15" fill="#000" stroke="none" stroke-width="0.3" />
<circle cx="441.16" cy="424.43" r="1.15" fill="#000" stroke="none" stroke-width="0.3" />
<circle cx="437.24" cy="423.6" r="1.15" fill="#000" stroke="none" stroke-width="0.3" />
<circle cx="432.32" cy="422.04" r="1.15" fill="#000" stroke="none" stroke-width="0.3" />
<line x1="435.75" y1="440.5" x2="435.75" y2="441.9" stroke="#000" stroke-width="0.5" />
<rect x="453.7" y="405.46" width="18.4" height="35.04" fill="#D4839D" stroke="#C9C9C9" stroke-width="0.6" />
<line x1="462.9" y1="402.15" x2="462.9" y2="408.78" stroke="#000" stroke-width="0.5" />
<line x1="460.6" y1="402.15" x2="465.2" y2="402.15" stroke="#000" stroke-width="0.5" />
<line x1="460.6" y1="408.78" x2="465.2" y2="408.78" stroke="#000" stroke-width="0.5" />
<line x1="458.7" y1="405.46" x2="467.1" y2="405.46" stroke="#000" stroke-width="0.5" />
<rect x="459.06" y="415.96" width="2.3" height="2.3" fill="#000" stroke="none" stroke-width="0.5" />
<rect x="460.58" y="412.63" width="2.3" height="2.3" fill="#000" stroke="none" stroke-width="0.5" />
<rect x="456.19" y="409.3" width="2.3" height="2.3" fill="#000" stroke="none" stroke-width="0.5" />
<rect x="462.25" y="405.98" width="2.3" height="2.3" fill="#000" stroke="none" stroke-width="0.5" />
<rect x="464.41" y="402.65" width="2.3" height="2.3" fill="#000" stroke="none" stroke-width="0.5" />
<rect x="457.93" y="399.33" width="2.3" height="2.3" fill="#000" stroke="none" stroke-width="0.5" />
<rect x="466.97" y="396" width="2.3" height="2.3" fill="#000" stroke="none" stroke-width="0.5" />
<rect x="465.72" y="389.76" width="2.3" height="2.3" fill="#000" stroke="none" stroke-width="0.5" />
<line x1="462.9" y1="440.5" x2="462.9" y2="441.9" stroke="#000" stroke-width="0.5" />
<rect x="481.1" y="420.02" width="18.6" height="20.48" fill="#7BAFD5" stroke="#C9C9C9" stroke-width="0.6" />
<line x1="490.4" y1="418.88" x2="490.4" y2="421.16" stroke="#000" stroke-width="0.5" />
<line x1="488.1" y1="418.88" x2="492.7" y2="418.88" stroke="#000" stroke-width="0.5" />
<line x1="488.1" y1="421.16" x2="492.7" y2="421.16" stroke="#000" stroke-width="0.5" />
<line x1="486.2" y1="420.02" x2="494.6" y2="420.02" stroke="#000" stroke-width="0.5" />
<path d="M496.27 422.62L497.57 424.92H494.97Z" fill="#000"/>
<path d="M487.77 421.48L489.07 423.78H486.47Z" fill="#000"/>
<path d="M485.02 420.33L486.32 422.63H483.72Z" fill="#000"/>
<path d="M491.4 419.19L492.7 421.49H490.1Z" fill="#000"/>
<path d="M486.5 418.05L487.8 420.35H485.2Z" fill="#000"/>
<path d="M494.39 416.9L495.69 419.2H493.09Z" fill="#000"/>
<path d="M489.8 415.76L491.1 418.06H488.5Z" fill="#000"/>
<path d="M492.44 413.62L493.74 415.92H491.14Z" fill="#000"/>
<line x1="490.4" y1="440.5" x2="490.4" y2="441.9" stroke="#000" stroke-width="0.5" />
<line x1="422" y1="386.3" x2="422" y2="440.5" stroke="#000" stroke-width="0.75" />
<line x1="421.7" y1="440.5" x2="503.7" y2="440.5" stroke="#000" stroke-width="0.75" />
<line x1="420.5" y1="440.5" x2="422" y2="440.5" stroke="#000" stroke-width="0.65" />
<text class="s" x="420.2" y="441.75" font-size="3.7" text-anchor="end" fill="#000" font-weight="bold" transform="rotate(0.03 420.2 441.75)">0</text>
<line x1="420.5" y1="427.02" x2="422" y2="427.02" stroke="#000" stroke-width="0.65" />
<text class="s" x="420.2" y="428.27" font-size="3.7" text-anchor="end" fill="#000" font-weight="bold" transform="rotate(0.03 420.2 428.27)">50</text>
<line x1="420.5" y1="413.55" x2="422" y2="413.55" stroke="#000" stroke-width="0.65" />
<text class="s" x="420.2" y="414.8" font-size="3.7" text-anchor="end" fill="#000" font-weight="bold" transform="rotate(0.03 420.2 414.8)">100</text>
<line x1="420.5" y1="400.07" x2="422" y2="400.07" stroke="#000" stroke-width="0.65" />
<text class="s" x="420.2" y="401.32" font-size="3.7" text-anchor="end" fill="#000" font-weight="bold" transform="rotate(0.03 420.2 401.32)">150</text>
<line x1="420.5" y1="386.6" x2="422" y2="386.6" stroke="#000" stroke-width="0.65" />
<text class="s" x="420.2" y="387.85" font-size="3.7" text-anchor="end" fill="#000" font-weight="bold" transform="rotate(0.03 420.2 387.85)">200</text>
<text class="s" x="407.4" y="399" font-size="4.6" text-anchor="middle" fill="#000" transform="rotate(-89.97 407.4 399)">AST(IU/L)</text>
<path d="M430.4 388.8V387H462.7V388.8" fill="none" stroke="#000" stroke-width="0.75" />
<text class="s" x="446.55" y="384.1" font-size="5" text-anchor="middle" fill="#000" font-weight="bold" transform="rotate(0.03 446.55 384.1)">**</text>
<path d="M464.1 388.8V387H494.7V388.8" fill="none" stroke="#000" stroke-width="0.75" />
<text class="s" x="479.4" y="384.1" font-size="5" text-anchor="middle" fill="#000" font-weight="bold" transform="rotate(0.03 479.4 384.1)">*</text>
<rect x="519.2" y="425.06" width="18.8" height="14.44" fill="#8FC796" stroke="#000" stroke-width="0.6" />
<line x1="528.6" y1="424.25" x2="528.6" y2="425.87" stroke="#000" stroke-width="0.5" />
<line x1="526.3" y1="424.25" x2="530.9" y2="424.25" stroke="#000" stroke-width="0.5" />
<line x1="526.3" y1="425.87" x2="530.9" y2="425.87" stroke="#000" stroke-width="0.5" />
<line x1="524.4" y1="425.06" x2="532.8" y2="425.06" stroke="#000" stroke-width="0.5" />
<circle cx="523.24" cy="427.9" r="1.15" fill="#000" stroke="none" stroke-width="0.3" />
<circle cx="529.51" cy="427.09" r="1.15" fill="#000" stroke="none" stroke-width="0.3" />
<circle cx="525.59" cy="426.28" r="1.15" fill="#000" stroke="none" stroke-width="0.3" />
<circle cx="532.07" cy="425.47" r="1.15" fill="#000" stroke="none" stroke-width="0.3" />
<circle cx="536.69" cy="424.66" r="1.15" fill="#000" stroke="none" stroke-width="0.3" />
<circle cx="534.04" cy="423.85" r="1.15" fill="#000" stroke="none" stroke-width="0.3" />
<circle cx="527.2" cy="423.04" r="1.15" fill="#000" stroke="none" stroke-width="0.3" />
<circle cx="520.88" cy="421.52" r="1.15" fill="#000" stroke="none" stroke-width="0.3" />
<line x1="528.6" y1="439.5" x2="528.6" y2="440.9" stroke="#000" stroke-width="0.5" />
<rect x="545.6" y="405.38" width="17.8" height="34.12" fill="#D4839D" stroke="#C9C9C9" stroke-width="0.6" />
<line x1="554.5" y1="402.14" x2="554.5" y2="408.61" stroke="#000" stroke-width="0.5" />
<line x1="552.2" y1="402.14" x2="556.8" y2="402.14" stroke="#000" stroke-width="0.5" />
<line x1="552.2" y1="408.61" x2="556.8" y2="408.61" stroke="#000" stroke-width="0.5" />
<line x1="550.3" y1="405.38" x2="558.7" y2="405.38" stroke="#000" stroke-width="0.5" />
<rect x="549.57" y="415.56" width="2.3" height="2.3" fill="#000" stroke="none" stroke-width="0.5" />
<rect x="547.66" y="412.33" width="2.3" height="2.3" fill="#000" stroke="none" stroke-width="0.5" />
<rect x="551.14" y="409.09" width="2.3" height="2.3" fill="#000" stroke="none" stroke-width="0.5" />
<rect x="552.45" y="405.85" width="2.3" height="2.3" fill="#000" stroke="none" stroke-width="0.5" />
<rect x="555.65" y="402.61" width="2.3" height="2.3" fill="#000" stroke="none" stroke-width="0.5" />
<rect x="558.52" y="399.37" width="2.3" height="2.3" fill="#000" stroke="none" stroke-width="0.5" />
<rect x="557.26" y="396.12" width="2.3" height="2.3" fill="#000" stroke="none" stroke-width="0.5" />
<rect x="554.32" y="390.05" width="2.3" height="2.3" fill="#000" stroke="none" stroke-width="0.5" />
<line x1="554.5" y1="439.5" x2="554.5" y2="440.9" stroke="#000" stroke-width="0.5" />
<rect x="572" y="419.29" width="17.9" height="20.21" fill="#DCDCDC" stroke="#C9C9C9" stroke-width="0.6" />
<line x1="580.95" y1="418.48" x2="580.95" y2="420.1" stroke="#000" stroke-width="0.5" />
<line x1="578.65" y1="418.48" x2="583.25" y2="418.48" stroke="#000" stroke-width="0.5" />
<line x1="578.65" y1="420.1" x2="583.25" y2="420.1" stroke="#000" stroke-width="0.5" />
<line x1="576.75" y1="419.29" x2="585.15" y2="419.29" stroke="#000" stroke-width="0.5" />
<path d="M583.11 420.72L584.41 423.02H581.81Z" fill="#000"/>
<path d="M585.18 419.91L586.48 422.21H583.88Z" fill="#000"/>
<path d="M586.01 419.1L587.31 421.4H584.71Z" fill="#000"/>
<path d="M576.78 418.29L578.08 420.59H575.48Z" fill="#000"/>
<path d="M578.31 417.48L579.61 419.78H577.01Z" fill="#000"/>
<path d="M581.97 416.67L583.27 418.97H580.67Z" fill="#000"/>
<path d="M575.79 415.86L577.09 418.16H574.49Z" fill="#000"/>
<path d="M580.14 414.34L581.44 416.64H578.84Z" fill="#000"/>
<line x1="580.95" y1="439.5" x2="580.95" y2="440.9" stroke="#000" stroke-width="0.5" />
<line x1="514.2" y1="386.7" x2="514.2" y2="439.5" stroke="#000" stroke-width="0.75" />
<line x1="513.9" y1="439.5" x2="593.6" y2="439.5" stroke="#000" stroke-width="0.75" />
<line x1="512.7" y1="439.5" x2="514.2" y2="439.5" stroke="#000" stroke-width="0.65" />
<text class="s" x="512.4" y="440.75" font-size="3.7" text-anchor="end" fill="#000" font-weight="bold" transform="rotate(0.03 512.4 440.75)">0</text>
<line x1="512.7" y1="426.38" x2="514.2" y2="426.38" stroke="#000" stroke-width="0.65" />
<text class="s" x="512.4" y="427.62" font-size="3.7" text-anchor="end" fill="#000" font-weight="bold" transform="rotate(0.03 512.4 427.62)">50</text>
<line x1="512.7" y1="413.25" x2="514.2" y2="413.25" stroke="#000" stroke-width="0.65" />
<text class="s" x="512.4" y="414.5" font-size="3.7" text-anchor="end" fill="#000" font-weight="bold" transform="rotate(0.03 512.4 414.5)">100</text>
<line x1="512.7" y1="400.12" x2="514.2" y2="400.12" stroke="#000" stroke-width="0.65" />
<text class="s" x="512.4" y="401.38" font-size="3.7" text-anchor="end" fill="#000" font-weight="bold" transform="rotate(0.03 512.4 401.38)">150</text>
<line x1="512.7" y1="387" x2="514.2" y2="387" stroke="#000" stroke-width="0.65" />
<text class="s" x="512.4" y="388.25" font-size="3.7" text-anchor="end" fill="#000" font-weight="bold" transform="rotate(0.03 512.4 388.25)">200</text>
<text class="s" x="505" y="398" font-size="4.6" text-anchor="middle" fill="#000" transform="rotate(-89.97 505 398)">AST(IU/L)</text>
<path d="M522.9 388V386.2H555.8V388" fill="none" stroke="#000" stroke-width="0.75" />
<text class="s" x="539.35" y="383.3" font-size="5" text-anchor="middle" fill="#000" font-weight="bold" transform="rotate(0.03 539.35 383.3)">**</text>
<path d="M557.5 388V386.2H588.4V388" fill="none" stroke="#000" stroke-width="0.75" />
<text class="s" x="572.95" y="383.3" font-size="5" text-anchor="middle" fill="#000" font-weight="bold" transform="rotate(0.03 572.95 383.3)">*</text>
<rect x="609.4" y="425.43" width="17.3" height="14.17" fill="#8FC796" stroke="#000" stroke-width="0.6" />
<line x1="618.05" y1="424.65" x2="618.05" y2="426.21" stroke="#000" stroke-width="0.5" />
<line x1="615.75" y1="424.65" x2="620.35" y2="424.65" stroke="#000" stroke-width="0.5" />
<line x1="615.75" y1="426.21" x2="620.35" y2="426.21" stroke="#000" stroke-width="0.5" />
<line x1="613.85" y1="425.43" x2="622.25" y2="425.43" stroke="#000" stroke-width="0.5" />
<circle cx="625.62" cy="428.16" r="1.15" fill="#000" stroke="none" stroke-width="0.3" />
<circle cx="612.52" cy="427.38" r="1.15" fill="#000" stroke="none" stroke-width="0.3" />
<circle cx="614.56" cy="426.6" r="1.15" fill="#000" stroke="none" stroke-width="0.3" />
<circle cx="619.22" cy="425.82" r="1.15" fill="#000" stroke="none" stroke-width="0.3" />
<circle cx="616.65" cy="425.04" r="1.15" fill="#000" stroke="none" stroke-width="0.3" />
<circle cx="623.06" cy="424.26" r="1.15" fill="#000" stroke="none" stroke-width="0.3" />
<circle cx="621.24" cy="423.48" r="1.15" fill="#000" stroke="none" stroke-width="0.3" />
<circle cx="610.71" cy="422.02" r="1.15" fill="#000" stroke="none" stroke-width="0.3" />
<line x1="618.05" y1="439.6" x2="618.05" y2="441" stroke="#000" stroke-width="0.5" />
<rect x="635.3" y="406.71" width="16.7" height="32.89" fill="#D4839D" stroke="#C9C9C9" stroke-width="0.6" />
<line x1="643.65" y1="403.6" x2="643.65" y2="409.82" stroke="#000" stroke-width="0.5" />
<line x1="641.35" y1="403.6" x2="645.95" y2="403.6" stroke="#000" stroke-width="0.5" />
<line x1="641.35" y1="409.82" x2="645.95" y2="409.82" stroke="#000" stroke-width="0.5" />
<line x1="639.45" y1="406.71" x2="647.85" y2="406.71" stroke="#000" stroke-width="0.5" />
<rect x="637.27" y="416.49" width="2.3" height="2.3" fill="#000" stroke="none" stroke-width="0.5" />
<rect x="640.68" y="413.37" width="2.3" height="2.3" fill="#000" stroke="none" stroke-width="0.5" />
<rect x="644.77" y="410.24" width="2.3" height="2.3" fill="#000" stroke="none" stroke-width="0.5" />
<rect x="642.85" y="407.12" width="2.3" height="2.3" fill="#000" stroke="none" stroke-width="0.5" />
<rect x="647.25" y="404" width="2.3" height="2.3" fill="#000" stroke="none" stroke-width="0.5" />
<rect x="638.82" y="400.88" width="2.3" height="2.3" fill="#000" stroke="none" stroke-width="0.5" />
<rect x="641.87" y="397.75" width="2.3" height="2.3" fill="#000" stroke="none" stroke-width="0.5" />
<rect x="645.85" y="391.9" width="2.3" height="2.3" fill="#000" stroke="none" stroke-width="0.5" />
<line x1="643.65" y1="439.6" x2="643.65" y2="441" stroke="#000" stroke-width="0.5" />
<rect x="660.2" y="409.49" width="17.2" height="30.11" fill="#F3D58C" stroke="#C9C9C9" stroke-width="0.6" />
<line x1="668.8" y1="407.84" x2="668.8" y2="411.15" stroke="#000" stroke-width="0.5" />
<line x1="666.5" y1="407.84" x2="671.1" y2="407.84" stroke="#000" stroke-width="0.5" />
<line x1="666.5" y1="411.15" x2="671.1" y2="411.15" stroke="#000" stroke-width="0.5" />
<line x1="664.6" y1="409.49" x2="673" y2="409.49" stroke="#000" stroke-width="0.5" />
<path d="M668.4 413.9L669.7 416.2H667.1Z" fill="#000"/>
<path d="M665.02 412.24L666.32 414.54H663.72Z" fill="#000"/>
<path d="M663.73 410.58L665.03 412.88H662.43Z" fill="#000"/>
<path d="M666.85 408.92L668.15 411.22H665.55Z" fill="#000"/>
<path d="M669.91 407.26L671.21 409.56H668.61Z" fill="#000"/>
<path d="M672.88 405.6L674.18 407.9H671.58Z" fill="#000"/>
<path d="M670.62 403.95L671.92 406.25H669.32Z" fill="#000"/>
<path d="M673.81 400.84L675.11 403.14H672.51Z" fill="#000"/>
<line x1="668.8" y1="439.6" x2="668.8" y2="441" stroke="#000" stroke-width="0.5" />
<line x1="605.7" y1="388.7" x2="605.7" y2="439.6" stroke="#000" stroke-width="0.75" />
<line x1="605.4" y1="439.6" x2="681.5" y2="439.6" stroke="#000" stroke-width="0.75" />
<line x1="604.2" y1="439.6" x2="605.7" y2="439.6" stroke="#000" stroke-width="0.65" />
<text class="s" x="603.9" y="440.85" font-size="3.7" text-anchor="end" fill="#000" font-weight="bold" transform="rotate(0.03 603.9 440.85)">0</text>
<line x1="604.2" y1="426.95" x2="605.7" y2="426.95" stroke="#000" stroke-width="0.65" />
<text class="s" x="603.9" y="428.2" font-size="3.7" text-anchor="end" fill="#000" font-weight="bold" transform="rotate(0.03 603.9 428.2)">50</text>
<line x1="604.2" y1="414.3" x2="605.7" y2="414.3" stroke="#000" stroke-width="0.65" />
<text class="s" x="603.9" y="415.55" font-size="3.7" text-anchor="end" fill="#000" font-weight="bold" transform="rotate(0.03 603.9 415.55)">100</text>
<line x1="604.2" y1="401.65" x2="605.7" y2="401.65" stroke="#000" stroke-width="0.65" />
<text class="s" x="603.9" y="402.9" font-size="3.7" text-anchor="end" fill="#000" font-weight="bold" transform="rotate(0.03 603.9 402.9)">150</text>
<line x1="604.2" y1="389" x2="605.7" y2="389" stroke="#000" stroke-width="0.65" />
<text class="s" x="603.9" y="390.25" font-size="3.7" text-anchor="end" fill="#000" font-weight="bold" transform="rotate(0.03 603.9 390.25)">200</text>
<text class="s" x="595" y="400.3" font-size="4.6" text-anchor="middle" fill="#000" transform="rotate(-89.97 595 400.3)">AST(IU/L)</text>
<path d="M610.5 388V386.2H642.2V388" fill="none" stroke="#000" stroke-width="0.75" />
<text class="s" x="626.35" y="383.3" font-size="5" text-anchor="middle" fill="#000" font-weight="bold" transform="rotate(0.03 626.35 383.3)">**</text>
<rect x="427.6" y="499.08" width="18.1" height="15.21" fill="#8FC796" stroke="#000" stroke-width="0.6" />
<line x1="436.65" y1="497.54" x2="436.65" y2="500.63" stroke="#000" stroke-width="0.5" />
<line x1="434.35" y1="497.54" x2="438.95" y2="497.54" stroke="#000" stroke-width="0.5" />
<line x1="434.35" y1="500.63" x2="438.95" y2="500.63" stroke="#000" stroke-width="0.5" />
<line x1="432.45" y1="499.08" x2="440.85" y2="499.08" stroke="#000" stroke-width="0.5" />
<circle cx="443.92" cy="504.52" r="1.15" fill="#000" stroke="none" stroke-width="0.3" />
<circle cx="441.92" cy="502.97" r="1.15" fill="#000" stroke="none" stroke-width="0.3" />
<circle cx="433.75" cy="501.42" r="1.15" fill="#000" stroke="none" stroke-width="0.3" />
<circle cx="429.24" cy="499.86" r="1.15" fill="#000" stroke="none" stroke-width="0.3" />
<circle cx="431.19" cy="498.31" r="1.15" fill="#000" stroke="none" stroke-width="0.3" />
<circle cx="439.59" cy="496.75" r="1.15" fill="#000" stroke="none" stroke-width="0.3" />
<circle cx="435.93" cy="495.2" r="1.15" fill="#000" stroke="none" stroke-width="0.3" />
<circle cx="437.9" cy="492.29" r="1.15" fill="#000" stroke="none" stroke-width="0.3" />
<line x1="436.65" y1="514.3" x2="436.65" y2="515.7" stroke="#000" stroke-width="0.5" />
<rect x="454.5" y="481.01" width="18" height="33.29" fill="#D4839D" stroke="#C9C9C9" stroke-width="0.6" />
<line x1="463.5" y1="478.25" x2="463.5" y2="483.76" stroke="#000" stroke-width="0.5" />
<line x1="461.2" y1="478.25" x2="465.8" y2="478.25" stroke="#000" stroke-width="0.5" />
<line x1="461.2" y1="483.76" x2="465.8" y2="483.76" stroke="#000" stroke-width="0.5" />
<line x1="459.3" y1="481.01" x2="467.7" y2="481.01" stroke="#000" stroke-width="0.5" />
<rect x="463.48" y="489.52" width="2.3" height="2.3" fill="#000" stroke="none" stroke-width="0.5" />
<rect x="456.81" y="486.76" width="2.3" height="2.3" fill="#000" stroke="none" stroke-width="0.5" />
<rect x="467.55" y="484" width="2.3" height="2.3" fill="#000" stroke="none" stroke-width="0.5" />
<rect x="458.77" y="481.24" width="2.3" height="2.3" fill="#000" stroke="none" stroke-width="0.5" />
<rect x="465.93" y="478.48" width="2.3" height="2.3" fill="#000" stroke="none" stroke-width="0.5" />
<rect x="460.18" y="475.71" width="2.3" height="2.3" fill="#000" stroke="none" stroke-width="0.5" />
<rect x="464.42" y="472.95" width="2.3" height="2.3" fill="#000" stroke="none" stroke-width="0.5" />
<rect x="461.66" y="467.77" width="2.3" height="2.3" fill="#000" stroke="none" stroke-width="0.5" />
<line x1="463.5" y1="514.3" x2="463.5" y2="515.7" stroke="#000" stroke-width="0.5" />
<rect x="481.5" y="494.61" width="18.2" height="19.69" fill="#7BAFD5" stroke="#C9C9C9" stroke-width="0.6" />
<line x1="490.6" y1="492.48" x2="490.6" y2="496.74" stroke="#000" stroke-width="0.5" />
<line x1="488.3" y1="492.48" x2="492.9" y2="492.48" stroke="#000" stroke-width="0.5" />
<line x1="488.3" y1="496.74" x2="492.9" y2="496.74" stroke="#000" stroke-width="0.5" />
<line x1="486.4" y1="494.61" x2="494.8" y2="494.61" stroke="#000" stroke-width="0.5" />
<path d="M485.09 500.7L486.39 503H483.79Z" fill="#000"/>
<path d="M488.35 498.56L489.65 500.86H487.05Z" fill="#000"/>
<path d="M495.88 496.42L497.18 498.72H494.58Z" fill="#000"/>
<path d="M494.24 494.28L495.54 496.58H492.94Z" fill="#000"/>
<path d="M486.61 492.14L487.91 494.44H485.31Z" fill="#000"/>
<path d="M489.64 490L490.94 492.3H488.34Z" fill="#000"/>
<path d="M492.69 487.86L493.99 490.16H491.39Z" fill="#000"/>
<path d="M491.75 483.85L493.05 486.15H490.45Z" fill="#000"/>
<line x1="490.6" y1="514.3" x2="490.6" y2="515.7" stroke="#000" stroke-width="0.5" />
<line x1="423.4" y1="460.3" x2="423.4" y2="514.3" stroke="#000" stroke-width="0.75" />
<line x1="423.1" y1="514.3" x2="504.1" y2="514.3" stroke="#000" stroke-width="0.75" />
<line x1="421.9" y1="514.3" x2="423.4" y2="514.3" stroke="#000" stroke-width="0.65" />
<text class="s" x="421.6" y="515.55" font-size="3.7" text-anchor="end" fill="#000" font-weight="bold" transform="rotate(0.03 421.6 515.55)">0</text>
<line x1="421.9" y1="496.4" x2="423.4" y2="496.4" stroke="#000" stroke-width="0.65" />
<text class="s" x="421.6" y="497.65" font-size="3.7" text-anchor="end" fill="#000" font-weight="bold" transform="rotate(0.03 421.6 497.65)">200</text>
<line x1="421.9" y1="478.5" x2="423.4" y2="478.5" stroke="#000" stroke-width="0.65" />
<text class="s" x="421.6" y="479.75" font-size="3.7" text-anchor="end" fill="#000" font-weight="bold" transform="rotate(0.03 421.6 479.75)">400</text>
<line x1="421.9" y1="460.6" x2="423.4" y2="460.6" stroke="#000" stroke-width="0.65" />
<text class="s" x="421.6" y="461.85" font-size="3.7" text-anchor="end" fill="#000" font-weight="bold" transform="rotate(0.03 421.6 461.85)">600</text>
<text class="s" x="407.5" y="484" font-size="4.9" text-anchor="middle" fill="#000" transform="rotate(-89.97 407.5 484)">Triglyceride (mmol/mg protein)</text>
<path d="M430.4 462.8V461H462.7V462.8" fill="none" stroke="#000" stroke-width="0.75" />
<text class="s" x="446.55" y="458.1" font-size="5" text-anchor="middle" fill="#000" font-weight="bold" transform="rotate(0.03 446.55 458.1)">**</text>
<path d="M464.1 462.8V461H494.7V462.8" fill="none" stroke="#000" stroke-width="0.75" />
<text class="s" x="479.4" y="458.1" font-size="5" text-anchor="middle" fill="#000" font-weight="bold" transform="rotate(0.03 479.4 458.1)">*</text>
<rect x="521.2" y="499.3" width="16.9" height="13.8" fill="#8FC796" stroke="#000" stroke-width="0.6" />
<line x1="529.65" y1="497.89" x2="529.65" y2="500.7" stroke="#000" stroke-width="0.5" />
<line x1="527.35" y1="497.89" x2="531.95" y2="497.89" stroke="#000" stroke-width="0.5" />
<line x1="527.35" y1="500.7" x2="531.95" y2="500.7" stroke="#000" stroke-width="0.5" />
<line x1="525.45" y1="499.3" x2="533.85" y2="499.3" stroke="#000" stroke-width="0.5" />
<circle cx="524.5" cy="504.23" r="1.15" fill="#000" stroke="none" stroke-width="0.3" />
<circle cx="530.62" cy="502.82" r="1.15" fill="#000" stroke="none" stroke-width="0.3" />
<circle cx="528.6" cy="501.41" r="1.15" fill="#000" stroke="none" stroke-width="0.3" />
<circle cx="537.14" cy="500" r="1.15" fill="#000" stroke="none" stroke-width="0.3" />
<circle cx="535.07" cy="498.59" r="1.15" fill="#000" stroke="none" stroke-width="0.3" />
<circle cx="532.41" cy="497.18" r="1.15" fill="#000" stroke="none" stroke-width="0.3" />
<circle cx="526.99" cy="495.77" r="1.15" fill="#000" stroke="none" stroke-width="0.3" />
<circle cx="522.3" cy="493.13" r="1.15" fill="#000" stroke="none" stroke-width="0.3" />
<line x1="529.65" y1="513.1" x2="529.65" y2="514.5" stroke="#000" stroke-width="0.5" />
<rect x="546.1" y="482.89" width="16.4" height="30.21" fill="#D4839D" stroke="#C9C9C9" stroke-width="0.6" />
<line x1="554.3" y1="480.4" x2="554.3" y2="485.39" stroke="#000" stroke-width="0.5" />
<line x1="552" y1="480.4" x2="556.6" y2="480.4" stroke="#000" stroke-width="0.5" />
<line x1="552" y1="485.39" x2="556.6" y2="485.39" stroke="#000" stroke-width="0.5" />
<line x1="550.1" y1="482.89" x2="558.5" y2="482.89" stroke="#000" stroke-width="0.5" />
<rect x="556.69" y="490.51" width="2.3" height="2.3" fill="#000" stroke="none" stroke-width="0.5" />
<rect x="552.09" y="488.01" width="2.3" height="2.3" fill="#000" stroke="none" stroke-width="0.5" />
<rect x="557.82" y="485.5" width="2.3" height="2.3" fill="#000" stroke="none" stroke-width="0.5" />
<rect x="553.78" y="483" width="2.3" height="2.3" fill="#000" stroke="none" stroke-width="0.5" />
<rect x="549.68" y="480.49" width="2.3" height="2.3" fill="#000" stroke="none" stroke-width="0.5" />
<rect x="550.82" y="477.99" width="2.3" height="2.3" fill="#000" stroke="none" stroke-width="0.5" />
<rect x="548.47" y="475.48" width="2.3" height="2.3" fill="#000" stroke="none" stroke-width="0.5" />
<rect x="555.53" y="470.78" width="2.3" height="2.3" fill="#000" stroke="none" stroke-width="0.5" />
<line x1="554.3" y1="513.1" x2="554.3" y2="514.5" stroke="#000" stroke-width="0.5" />
<rect x="570.5" y="485.49" width="16.6" height="27.61" fill="#DCDCDC" stroke="#C9C9C9" stroke-width="0.6" />
<line x1="578.8" y1="484.24" x2="578.8" y2="486.74" stroke="#000" stroke-width="0.5" />
<line x1="576.5" y1="484.24" x2="581.1" y2="484.24" stroke="#000" stroke-width="0.5" />
<line x1="576.5" y1="486.74" x2="581.1" y2="486.74" stroke="#000" stroke-width="0.5" />
<line x1="574.6" y1="485.49" x2="583" y2="485.49" stroke="#000" stroke-width="0.5" />
<path d="M576.99 488.48L578.29 490.78H575.69Z" fill="#000"/>
<path d="M575.44 487.22L576.74 489.52H574.14Z" fill="#000"/>
<path d="M578.3 485.97L579.6 488.27H577Z" fill="#000"/>
<path d="M580.68 484.72L581.98 487.02H579.38Z" fill="#000"/>
<path d="M579.16 483.47L580.46 485.77H577.86Z" fill="#000"/>
<path d="M574.07 482.21L575.37 484.51H572.77Z" fill="#000"/>
<path d="M582.44 480.96L583.74 483.26H581.14Z" fill="#000"/>
<path d="M583.88 478.61L585.18 480.91H582.58Z" fill="#000"/>
<line x1="578.8" y1="513.1" x2="578.8" y2="514.5" stroke="#000" stroke-width="0.5" />
<line x1="516.8" y1="464.08" x2="516.8" y2="513.1" stroke="#000" stroke-width="0.75" />
<line x1="516.5" y1="513.1" x2="596" y2="513.1" stroke="#000" stroke-width="0.75" />
<line x1="515.3" y1="513.1" x2="516.8" y2="513.1" stroke="#000" stroke-width="0.65" />
<text class="s" x="515" y="514.35" font-size="3.7" text-anchor="end" fill="#000" font-weight="bold" transform="rotate(0.03 515 514.35)">0</text>
<line x1="515.3" y1="496.86" x2="516.8" y2="496.86" stroke="#000" stroke-width="0.65" />
<text class="s" x="515" y="498.11" font-size="3.7" text-anchor="end" fill="#000" font-weight="bold" transform="rotate(0.03 515 498.11)">200</text>
<line x1="515.3" y1="480.62" x2="516.8" y2="480.62" stroke="#000" stroke-width="0.65" />
<text class="s" x="515" y="481.87" font-size="3.7" text-anchor="end" fill="#000" font-weight="bold" transform="rotate(0.03 515 481.87)">400</text>
<line x1="515.3" y1="464.38" x2="516.8" y2="464.38" stroke="#000" stroke-width="0.65" />
<text class="s" x="515" y="465.63" font-size="3.7" text-anchor="end" fill="#000" font-weight="bold" transform="rotate(0.03 515 465.63)">600</text>
<text class="s" x="509.6" y="483" font-size="4.9" text-anchor="middle" fill="#000" transform="rotate(-89.97 509.6 483)">Triglyceride (mmol/mg protein)</text>
<path d="M523.5 463.8V462H555.4V463.8" fill="none" stroke="#000" stroke-width="0.75" />
<text class="s" x="539.45" y="459.1" font-size="5" text-anchor="middle" fill="#000" font-weight="bold" transform="rotate(0.03 539.45 459.1)">**</text>
<rect x="610.5" y="498.23" width="17.3" height="14.57" fill="#8FC796" stroke="#000" stroke-width="0.6" />
<line x1="619.15" y1="496.75" x2="619.15" y2="499.71" stroke="#000" stroke-width="0.5" />
<line x1="616.85" y1="496.75" x2="621.45" y2="496.75" stroke="#000" stroke-width="0.5" />
<line x1="616.85" y1="499.71" x2="621.45" y2="499.71" stroke="#000" stroke-width="0.5" />
<line x1="614.95" y1="498.23" x2="623.35" y2="498.23" stroke="#000" stroke-width="0.5" />
<circle cx="620.07" cy="503.44" r="1.15" fill="#000" stroke="none" stroke-width="0.3" />
<circle cx="611.72" cy="501.95" r="1.15" fill="#000" stroke="none" stroke-width="0.3" />
<circle cx="618.21" cy="500.46" r="1.15" fill="#000" stroke="none" stroke-width="0.3" />
<circle cx="614.27" cy="498.97" r="1.15" fill="#000" stroke="none" stroke-width="0.3" />
<circle cx="615.69" cy="497.49" r="1.15" fill="#000" stroke="none" stroke-width="0.3" />
<circle cx="623.99" cy="496" r="1.15" fill="#000" stroke="none" stroke-width="0.3" />
<circle cx="622.27" cy="494.51" r="1.15" fill="#000" stroke="none" stroke-width="0.3" />
<circle cx="626.56" cy="491.72" r="1.15" fill="#000" stroke="none" stroke-width="0.3" />
<line x1="619.15" y1="512.8" x2="619.15" y2="514.2" stroke="#000" stroke-width="0.5" />
<rect x="636.4" y="480.92" width="17.3" height="31.88" fill="#D4839D" stroke="#C9C9C9" stroke-width="0.6" />
<line x1="645.05" y1="478.28" x2="645.05" y2="483.56" stroke="#000" stroke-width="0.5" />
<line x1="642.75" y1="478.28" x2="647.35" y2="478.28" stroke="#000" stroke-width="0.5" />
<line x1="642.75" y1="483.56" x2="647.35" y2="483.56" stroke="#000" stroke-width="0.5" />
<line x1="640.85" y1="480.92" x2="649.25" y2="480.92" stroke="#000" stroke-width="0.5" />
<rect x="640.26" y="489.03" width="2.3" height="2.3" fill="#000" stroke="none" stroke-width="0.5" />
<rect x="644.46" y="486.38" width="2.3" height="2.3" fill="#000" stroke="none" stroke-width="0.5" />
<rect x="649.32" y="483.74" width="2.3" height="2.3" fill="#000" stroke="none" stroke-width="0.5" />
<rect x="638.63" y="481.09" width="2.3" height="2.3" fill="#000" stroke="none" stroke-width="0.5" />
<rect x="645.75" y="478.45" width="2.3" height="2.3" fill="#000" stroke="none" stroke-width="0.5" />
<rect x="647.39" y="475.8" width="2.3" height="2.3" fill="#000" stroke="none" stroke-width="0.5" />
<rect x="641.56" y="473.16" width="2.3" height="2.3" fill="#000" stroke="none" stroke-width="0.5" />
<rect x="642.96" y="468.2" width="2.3" height="2.3" fill="#000" stroke="none" stroke-width="0.5" />
<line x1="645.05" y1="512.8" x2="645.05" y2="514.2" stroke="#000" stroke-width="0.5" />
<rect x="662.3" y="483.66" width="17.3" height="29.14" fill="#F3D58C" stroke="#C9C9C9" stroke-width="0.6" />
<line x1="670.95" y1="481.19" x2="670.95" y2="486.13" stroke="#000" stroke-width="0.5" />
<line x1="668.65" y1="481.19" x2="673.25" y2="481.19" stroke="#000" stroke-width="0.5" />
<line x1="668.65" y1="486.13" x2="673.25" y2="486.13" stroke="#000" stroke-width="0.5" />
<line x1="666.75" y1="483.66" x2="675.15" y2="483.66" stroke="#000" stroke-width="0.5" />
<path d="M668.99 490.94L670.29 493.24H667.69Z" fill="#000"/>
<path d="M674.43 488.46L675.73 490.76H673.13Z" fill="#000"/>
<path d="M665.39 485.98L666.69 488.28H664.09Z" fill="#000"/>
<path d="M676.02 483.5L677.32 485.8H674.72Z" fill="#000"/>
<path d="M671.72 481.02L673.02 483.32H670.42Z" fill="#000"/>
<path d="M667.35 478.54L668.65 480.84H666.05Z" fill="#000"/>
<path d="M672.91 476.06L674.21 478.36H671.61Z" fill="#000"/>
<path d="M670.38 471.42L671.68 473.72H669.08Z" fill="#000"/>
<line x1="670.95" y1="512.8" x2="670.95" y2="514.2" stroke="#000" stroke-width="0.5" />
<line x1="605.7" y1="461.08" x2="605.7" y2="512.8" stroke="#000" stroke-width="0.75" />
<line x1="605.4" y1="512.8" x2="684.5" y2="512.8" stroke="#000" stroke-width="0.75" />
<line x1="604.2" y1="512.8" x2="605.7" y2="512.8" stroke="#000" stroke-width="0.65" />
<text class="s" x="603.9" y="514.05" font-size="3.7" text-anchor="end" fill="#000" font-weight="bold" transform="rotate(0.03 603.9 514.05)">0</text>
<line x1="604.2" y1="495.66" x2="605.7" y2="495.66" stroke="#000" stroke-width="0.65" />
<text class="s" x="603.9" y="496.91" font-size="3.7" text-anchor="end" fill="#000" font-weight="bold" transform="rotate(0.03 603.9 496.91)">200</text>
<line x1="604.2" y1="478.52" x2="605.7" y2="478.52" stroke="#000" stroke-width="0.65" />
<text class="s" x="603.9" y="479.77" font-size="3.7" text-anchor="end" fill="#000" font-weight="bold" transform="rotate(0.03 603.9 479.77)">400</text>
<line x1="604.2" y1="461.38" x2="605.7" y2="461.38" stroke="#000" stroke-width="0.65" />
<text class="s" x="603.9" y="462.63" font-size="3.7" text-anchor="end" fill="#000" font-weight="bold" transform="rotate(0.03 603.9 462.63)">600</text>
<text class="s" x="596.8" y="480" font-size="4.9" text-anchor="middle" fill="#000" transform="rotate(-89.97 596.8 480)">Triglyceride (mmol/mg protein)</text>
<path d="M610.5 463.8V462H642.4V463.8" fill="none" stroke="#000" stroke-width="0.75" />
<text class="s" x="626.45" y="459.1" font-size="5" text-anchor="middle" fill="#000" font-weight="bold" transform="rotate(0.03 626.45 459.1)">**</text>
<text class="s" x="616.3" y="446.3" font-size="3.2" text-anchor="middle" fill="#111" transform="rotate(-49.97 616.3 446.3)">NC</text>
<rect x="418.6" y="521.3" width="262.5" height="16.1" fill="#fff" stroke="#000" stroke-width="0.9" />
<rect x="425" y="526.4" width="16" height="6.8" fill="#8FC796" stroke="#bbb" stroke-width="0.3" />
<text class="s" x="444.2" y="531.5" font-size="4.3" fill="#111" font-weight="bold" transform="rotate(0.03 444.2 531.5)">NC</text>
<rect x="462.7" y="526.4" width="16" height="6.8" fill="#D4839D" stroke="#bbb" stroke-width="0.3" />
<text class="s" x="481.9" y="531.5" font-size="4.3" fill="#111" font-weight="bold" transform="rotate(0.03 481.9 531.5)">PC</text>
<rect x="498.5" y="526.4" width="16" height="6.8" fill="#7BAFD5" stroke="#bbb" stroke-width="0.3" />
<text class="r" x="518.1" y="531.5" font-size="4.78" fill="#222" font-weight="bold" font-style="italic" transform="rotate(0.03 518.1 531.5)">B. pseudocatenulatum</text>
<rect x="568.8" y="526.4" width="16" height="6.8" fill="#DCDCDC" stroke="#bbb" stroke-width="0.3" />
<text class="r" x="588.4" y="531.5" font-size="4.78" fill="#222" font-weight="bold" font-style="italic" transform="rotate(0.03 588.4 531.5)">B.longum</text>
<rect x="623.4" y="526.4" width="16" height="6.8" fill="#F3D58C" stroke="#bbb" stroke-width="0.3" />
<text class="r" x="643" y="531.5" font-size="4.78" fill="#222" font-weight="bold" font-style="italic" transform="rotate(0.03 643 531.5)">B.adolescentis</text>
<text class="r" x="5" y="446" font-size="6.5" fill="#000" font-weight="bold" transform="rotate(0.03 5 446)">F</text>
<text class="s" x="189.3" y="457.3" font-size="4.75" text-anchor="middle" fill="#111" font-weight="bold" transform="rotate(0.03 189.3 457.3)">KEGG pathway annotation</text>
<rect x="135.8" y="461.4" width="116.8" height="68" fill="#fff" stroke="#9E9E9E" stroke-width="0.6" />
<text class="s" x="50.4" y="463.9" font-size="3.9" fill="#111" font-weight="bold" transform="rotate(0.03 50.4 463.9)">Metabolism</text>
<text class="s" x="51.6" y="467.05" font-size="4.25" fill="#5B9BD0" transform="rotate(0.03 51.6 467.05)">Xenobiotics biodegradation and metabolism</text>
<line x1="146.03" y1="465.6" x2="252.3" y2="465.6" stroke="#D0D0D0" stroke-width="0.3" stroke-dasharray="0.4 0.6"/>
<rect x="138.2" y="464.4" width="7.83" height="2.4" fill="#7FB2D6" stroke="none" stroke-width="0.5" />
<text class="s" x="155.73" y="466" font-size="2.9" text-anchor="middle" fill="#111" transform="rotate(0.03 155.73 466)">7</text>
<text class="s" x="51.6" y="470.65" font-size="4.25" fill="#5B9BD0" transform="rotate(0.03 51.6 470.65)">Nucleotide metabolism</text>
<line x1="200.19" y1="469.2" x2="252.3" y2="469.2" stroke="#D0D0D0" stroke-width="0.3" stroke-dasharray="0.4 0.6"/>
<rect x="138.2" y="468" width="61.99" height="2.4" fill="#7FB2D6" stroke="none" stroke-width="0.5" />
<text class="s" x="209.89" y="469.6" font-size="2.9" text-anchor="middle" fill="#111" transform="rotate(0.03 209.89 469.6)">66</text>
<text class="s" x="51.6" y="474.25" font-size="4.25" fill="#5B9BD0" transform="rotate(0.03 51.6 474.25)">Metabolism of terpenoids and polyketides</text>
<line x1="154.29" y1="472.8" x2="252.3" y2="472.8" stroke="#D0D0D0" stroke-width="0.3" stroke-dasharray="0.4 0.6"/>
<rect x="138.2" y="471.6" width="16.09" height="2.4" fill="#7FB2D6" stroke="none" stroke-width="0.5" />
<text class="s" x="163.99" y="473.2" font-size="2.9" text-anchor="middle" fill="#111" transform="rotate(0.03 163.99 473.2)">16</text>
<text class="s" x="51.6" y="477.85" font-size="4.25" fill="#5B9BD0" transform="rotate(0.03 51.6 477.85)">Metabolism of other amino acids</text>
<line x1="166.22" y1="476.4" x2="252.3" y2="476.4" stroke="#D0D0D0" stroke-width="0.3" stroke-dasharray="0.4 0.6"/>
<rect x="138.2" y="475.2" width="28.02" height="2.4" fill="#7FB2D6" stroke="none" stroke-width="0.5" />
<text class="s" x="175.92" y="476.8" font-size="2.9" text-anchor="middle" fill="#111" transform="rotate(0.03 175.92 476.8)">29</text>
<text class="s" x="51.6" y="481.45" font-size="4.25" fill="#5B9BD0" transform="rotate(0.03 51.6 481.45)">Metabolism of cofactors and vitamins</text>
<line x1="199.27" y1="480" x2="252.3" y2="480" stroke="#D0D0D0" stroke-width="0.3" stroke-dasharray="0.4 0.6"/>
<rect x="138.2" y="478.8" width="61.07" height="2.4" fill="#7FB2D6" stroke="none" stroke-width="0.5" />
<text class="s" x="208.97" y="480.4" font-size="2.9" text-anchor="middle" fill="#111" transform="rotate(0.03 208.97 480.4)">65</text>
<text class="s" x="51.6" y="485.05" font-size="4.25" fill="#5B9BD0" transform="rotate(0.03 51.6 485.05)">Lipid metabolism</text>
<line x1="160.71" y1="483.6" x2="252.3" y2="483.6" stroke="#D0D0D0" stroke-width="0.3" stroke-dasharray="0.4 0.6"/>
<rect x="138.2" y="482.4" width="22.51" height="2.4" fill="#7FB2D6" stroke="none" stroke-width="0.5" />
<text class="s" x="170.41" y="484" font-size="2.9" text-anchor="middle" fill="#111" transform="rotate(0.03 170.41 484)">23</text>
<text class="s" x="51.6" y="488.65" font-size="4.25" fill="#5B9BD0" transform="rotate(0.03 51.6 488.65)">Glycan biosynthesis and metabolism</text>
<line x1="159.8" y1="487.2" x2="252.3" y2="487.2" stroke="#D0D0D0" stroke-width="0.3" stroke-dasharray="0.4 0.6"/>
<rect x="138.2" y="486" width="21.6" height="2.4" fill="#7FB2D6" stroke="none" stroke-width="0.5" />
<text class="s" x="169.5" y="487.6" font-size="2.9" text-anchor="middle" fill="#111" transform="rotate(0.03 169.5 487.6)">22</text>
<text class="s" x="51.6" y="492.25" font-size="4.25" fill="#5B9BD0" transform="rotate(0.03 51.6 492.25)">Energy metabolism</text>
<line x1="181.83" y1="490.8" x2="252.3" y2="490.8" stroke="#D0D0D0" stroke-width="0.3" stroke-dasharray="0.4 0.6"/>
<rect x="138.2" y="489.6" width="43.63" height="2.4" fill="#7FB2D6" stroke="none" stroke-width="0.5" />
<text class="s" x="191.53" y="491.2" font-size="2.9" text-anchor="middle" fill="#111" transform="rotate(0.03 191.53 491.2)">46</text>
<text class="s" x="51.6" y="495.85" font-size="4.25" fill="#5B9BD0" transform="rotate(0.03 51.6 495.85)">Carbohydrate metabolism</text>
<line x1="249.76" y1="494.4" x2="252.3" y2="494.4" stroke="#D0D0D0" stroke-width="0.3" stroke-dasharray="0.4 0.6"/>
<rect x="138.2" y="493.2" width="111.56" height="2.4" fill="#7FB2D6" stroke="none" stroke-width="0.5" />
<text class="s" x="51.6" y="499.45" font-size="4.25" fill="#5B9BD0" transform="rotate(0.03 51.6 499.45)">Biosynthesis of other secondary metabolites</text>
<line x1="163.47" y1="498" x2="252.3" y2="498" stroke="#D0D0D0" stroke-width="0.3" stroke-dasharray="0.4 0.6"/>
<rect x="138.2" y="496.8" width="25.27" height="2.4" fill="#7FB2D6" stroke="none" stroke-width="0.5" />
<text class="s" x="173.17" y="498.4" font-size="2.9" text-anchor="middle" fill="#111" transform="rotate(0.03 173.17 498.4)">26</text>
<text class="s" x="51.6" y="503.05" font-size="4.25" fill="#5B9BD0" transform="rotate(0.03 51.6 503.05)">Amino acid metabolism</text>
<line x1="237.83" y1="501.6" x2="252.3" y2="501.6" stroke="#D0D0D0" stroke-width="0.3" stroke-dasharray="0.4 0.6"/>
<rect x="138.2" y="500.4" width="99.63" height="2.4" fill="#7FB2D6" stroke="none" stroke-width="0.5" />
<text class="s" x="247.53" y="502" font-size="2.9" text-anchor="middle" fill="#111" transform="rotate(0.03 247.53 502)">107</text>
<text class="s" x="50.4" y="510.1" font-size="3.9" fill="#111" font-weight="bold" transform="rotate(0.03 50.4 510.1)">Organismal Systems</text>
<text class="s" x="51.6" y="513.65" font-size="4.25" fill="#E8952F" transform="rotate(0.03 51.6 513.65)">Nervous system</text>
<line x1="142.35" y1="512.2" x2="252.3" y2="512.2" stroke="#D0D0D0" stroke-width="0.3" stroke-dasharray="0.4 0.6"/>
<rect x="138.2" y="511" width="4.15" height="2.4" fill="#F0A23A" stroke="none" stroke-width="0.5" />
<text class="s" x="152.05" y="512.6" font-size="2.9" text-anchor="middle" fill="#111" transform="rotate(0.03 152.05 512.6)">3</text>
<text class="s" x="51.6" y="517.25" font-size="4.25" fill="#E8952F" transform="rotate(0.03 51.6 517.25)">Immune system</text>
<line x1="141.44" y1="515.8" x2="252.3" y2="515.8" stroke="#D0D0D0" stroke-width="0.3" stroke-dasharray="0.4 0.6"/>
<rect x="138.2" y="514.6" width="3.24" height="2.4" fill="#F0A23A" stroke="none" stroke-width="0.5" />
<text class="s" x="151.14" y="516.2" font-size="2.9" text-anchor="middle" fill="#111" transform="rotate(0.03 151.14 516.2)">2</text>
<text class="s" x="51.6" y="520.85" font-size="4.25" fill="#E8952F" transform="rotate(0.03 51.6 520.85)">Endocrine system</text>
<line x1="149.7" y1="519.4" x2="252.3" y2="519.4" stroke="#D0D0D0" stroke-width="0.3" stroke-dasharray="0.4 0.6"/>
<rect x="138.2" y="518.2" width="11.5" height="2.4" fill="#F0A23A" stroke="none" stroke-width="0.5" />
<text class="s" x="159.4" y="519.8" font-size="2.9" text-anchor="middle" fill="#111" transform="rotate(0.03 159.4 519.8)">11</text>
<text class="s" x="51.6" y="524.45" font-size="4.25" fill="#E8952F" transform="rotate(0.03 51.6 524.45)">Digestive system</text>
<line x1="143.27" y1="523" x2="252.3" y2="523" stroke="#D0D0D0" stroke-width="0.3" stroke-dasharray="0.4 0.6"/>
<rect x="138.2" y="521.8" width="5.07" height="2.4" fill="#F0A23A" stroke="none" stroke-width="0.5" />
<text class="s" x="152.97" y="523.4" font-size="2.9" text-anchor="middle" fill="#111" transform="rotate(0.03 152.97 523.4)">4</text>
<text class="s" x="51.6" y="528.05" font-size="4.25" fill="#E8952F" transform="rotate(0.03 51.6 528.05)">Aging</text>
<line x1="144.19" y1="526.6" x2="252.3" y2="526.6" stroke="#D0D0D0" stroke-width="0.3" stroke-dasharray="0.4 0.6"/>
<rect x="138.2" y="525.4" width="5.99" height="2.4" fill="#F0A23A" stroke="none" stroke-width="0.5" />
<text class="s" x="153.89" y="527" font-size="2.9" text-anchor="middle" fill="#111" transform="rotate(0.03 153.89 527)">5</text>
<line x1="138.9" y1="529.6" x2="138.9" y2="531" stroke="#555" stroke-width="0.4" />
<text class="s" x="138.9" y="537.5" font-size="4.1" text-anchor="middle" fill="#222" transform="rotate(0.03 138.9 537.5)">0</text>
<line x1="157.27" y1="529.6" x2="157.27" y2="531" stroke="#555" stroke-width="0.4" />
<text class="s" x="157.27" y="537.5" font-size="4.1" text-anchor="middle" fill="#222" transform="rotate(0.03 157.27 537.5)">20</text>
<line x1="175.64" y1="529.6" x2="175.64" y2="531" stroke="#555" stroke-width="0.4" />
<text class="s" x="175.64" y="537.5" font-size="4.1" text-anchor="middle" fill="#222" transform="rotate(0.03 175.64 537.5)">40</text>
<line x1="194.01" y1="529.6" x2="194.01" y2="531" stroke="#555" stroke-width="0.4" />
<text class="s" x="194.01" y="537.5" font-size="4.1" text-anchor="middle" fill="#222" transform="rotate(0.03 194.01 537.5)">60</text>
<line x1="212.38" y1="529.6" x2="212.38" y2="531" stroke="#555" stroke-width="0.4" />
<text class="s" x="212.38" y="537.5" font-size="4.1" text-anchor="middle" fill="#222" transform="rotate(0.03 212.38 537.5)">80</text>
<line x1="230.75" y1="529.6" x2="230.75" y2="531" stroke="#555" stroke-width="0.4" />
<text class="s" x="230.75" y="537.5" font-size="4.1" text-anchor="middle" fill="#222" transform="rotate(0.03 230.75 537.5)">100</text>
<line x1="249.12" y1="529.6" x2="249.12" y2="531" stroke="#555" stroke-width="0.4" />
<text class="s" x="249.12" y="537.5" font-size="4.1" text-anchor="middle" fill="#222" transform="rotate(0.03 249.12 537.5)">120</text>
<text class="s" x="252.6" y="542.4" font-size="3.9" text-anchor="end" fill="#222" transform="rotate(0.03 252.6 542.4)">Number of Genes</text>
</svg>
</body></html>
